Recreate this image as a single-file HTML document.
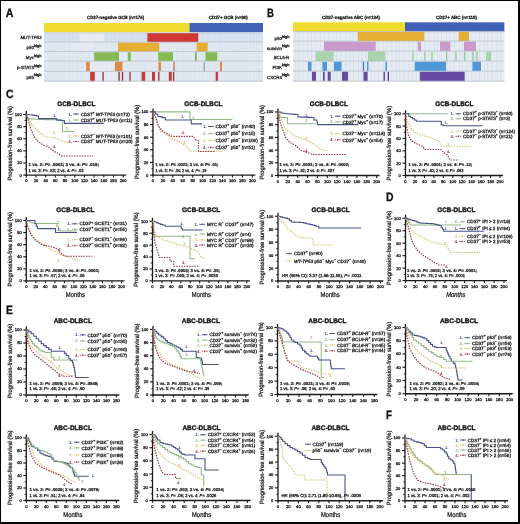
<!DOCTYPE html>
<html><head><meta charset="utf-8"><style>
html,body{margin:0;padding:0;background:#fff;}
body{width:520px;height:524px;overflow:hidden;position:relative;}
svg{position:absolute;left:0;top:0;display:block;font-family:"Liberation Sans", sans-serif;text-rendering:geometricPrecision;filter:blur(0.3px);}
.k{stroke:#1a1a1a;stroke-width:0.28px;}
.t{stroke:#111;stroke-width:0.32px;}
.k2{stroke:#222;stroke-width:0.28px;}
.k3{stroke:#222;stroke-width:0.24px;}
.frame{position:absolute;left:0;top:0;width:520px;height:524px;box-sizing:border-box;border-top:1px solid #000;border-left:1px solid #000;border-right:2px solid #000;border-bottom:2px solid #000;}
</style></head><body>
<svg width="520" height="524" viewBox="0 0 520 524" font-family='"Liberation Sans", sans-serif'>
<rect x="44.00" y="23.00" width="145.50" height="9.20" fill="#f0dc2e" />
<rect x="189.50" y="23.00" width="73.50" height="9.20" fill="#4262b8" />
<rect x="44.00" y="33.00" width="219.00" height="9.20" fill="#d4e0ee" />
<rect x="79.80" y="33.00" width="24.20" height="9.20" fill="#e3eaf2" />
<rect x="46.30" y="33.00" width="0.45" height="9.20" fill="#f2f6fa" opacity="0.55"/>
<rect x="49.60" y="33.00" width="0.45" height="9.20" fill="#f2f6fa" opacity="0.55"/>
<rect x="53.80" y="33.00" width="0.45" height="9.20" fill="#f2f6fa" opacity="0.55"/>
<rect x="58.90" y="33.00" width="0.45" height="9.20" fill="#f2f6fa" opacity="0.55"/>
<rect x="62.20" y="33.00" width="0.45" height="9.20" fill="#f2f6fa" opacity="0.55"/>
<rect x="66.40" y="33.00" width="0.45" height="9.20" fill="#f2f6fa" opacity="0.55"/>
<rect x="71.50" y="33.00" width="0.45" height="9.20" fill="#f2f6fa" opacity="0.55"/>
<rect x="74.80" y="33.00" width="0.45" height="9.20" fill="#f2f6fa" opacity="0.55"/>
<rect x="79.00" y="33.00" width="0.45" height="9.20" fill="#f2f6fa" opacity="0.55"/>
<rect x="84.10" y="33.00" width="0.45" height="9.20" fill="#f2f6fa" opacity="0.55"/>
<rect x="87.40" y="33.00" width="0.45" height="9.20" fill="#f2f6fa" opacity="0.55"/>
<rect x="91.60" y="33.00" width="0.45" height="9.20" fill="#f2f6fa" opacity="0.55"/>
<rect x="96.70" y="33.00" width="0.45" height="9.20" fill="#f2f6fa" opacity="0.55"/>
<rect x="100.00" y="33.00" width="0.45" height="9.20" fill="#f2f6fa" opacity="0.55"/>
<rect x="104.20" y="33.00" width="0.45" height="9.20" fill="#f2f6fa" opacity="0.55"/>
<rect x="109.30" y="33.00" width="0.45" height="9.20" fill="#f2f6fa" opacity="0.55"/>
<rect x="112.60" y="33.00" width="0.45" height="9.20" fill="#f2f6fa" opacity="0.55"/>
<rect x="116.80" y="33.00" width="0.45" height="9.20" fill="#f2f6fa" opacity="0.55"/>
<rect x="121.90" y="33.00" width="0.45" height="9.20" fill="#f2f6fa" opacity="0.55"/>
<rect x="125.20" y="33.00" width="0.45" height="9.20" fill="#f2f6fa" opacity="0.55"/>
<rect x="129.40" y="33.00" width="0.45" height="9.20" fill="#f2f6fa" opacity="0.55"/>
<rect x="134.50" y="33.00" width="0.45" height="9.20" fill="#f2f6fa" opacity="0.55"/>
<rect x="137.80" y="33.00" width="0.45" height="9.20" fill="#f2f6fa" opacity="0.55"/>
<rect x="142.00" y="33.00" width="0.45" height="9.20" fill="#f2f6fa" opacity="0.55"/>
<rect x="147.10" y="33.00" width="0.45" height="9.20" fill="#f2f6fa" opacity="0.55"/>
<rect x="150.40" y="33.00" width="0.45" height="9.20" fill="#f2f6fa" opacity="0.55"/>
<rect x="154.60" y="33.00" width="0.45" height="9.20" fill="#f2f6fa" opacity="0.55"/>
<rect x="159.70" y="33.00" width="0.45" height="9.20" fill="#f2f6fa" opacity="0.55"/>
<rect x="163.00" y="33.00" width="0.45" height="9.20" fill="#f2f6fa" opacity="0.55"/>
<rect x="167.20" y="33.00" width="0.45" height="9.20" fill="#f2f6fa" opacity="0.55"/>
<rect x="172.30" y="33.00" width="0.45" height="9.20" fill="#f2f6fa" opacity="0.55"/>
<rect x="175.60" y="33.00" width="0.45" height="9.20" fill="#f2f6fa" opacity="0.55"/>
<rect x="179.80" y="33.00" width="0.45" height="9.20" fill="#f2f6fa" opacity="0.55"/>
<rect x="184.90" y="33.00" width="0.45" height="9.20" fill="#f2f6fa" opacity="0.55"/>
<rect x="188.20" y="33.00" width="0.45" height="9.20" fill="#f2f6fa" opacity="0.55"/>
<rect x="192.40" y="33.00" width="0.45" height="9.20" fill="#f2f6fa" opacity="0.55"/>
<rect x="197.50" y="33.00" width="0.45" height="9.20" fill="#f2f6fa" opacity="0.55"/>
<rect x="200.80" y="33.00" width="0.45" height="9.20" fill="#f2f6fa" opacity="0.55"/>
<rect x="205.00" y="33.00" width="0.45" height="9.20" fill="#f2f6fa" opacity="0.55"/>
<rect x="210.10" y="33.00" width="0.45" height="9.20" fill="#f2f6fa" opacity="0.55"/>
<rect x="213.40" y="33.00" width="0.45" height="9.20" fill="#f2f6fa" opacity="0.55"/>
<rect x="217.60" y="33.00" width="0.45" height="9.20" fill="#f2f6fa" opacity="0.55"/>
<rect x="222.70" y="33.00" width="0.45" height="9.20" fill="#f2f6fa" opacity="0.55"/>
<rect x="226.00" y="33.00" width="0.45" height="9.20" fill="#f2f6fa" opacity="0.55"/>
<rect x="230.20" y="33.00" width="0.45" height="9.20" fill="#f2f6fa" opacity="0.55"/>
<rect x="235.30" y="33.00" width="0.45" height="9.20" fill="#f2f6fa" opacity="0.55"/>
<rect x="238.60" y="33.00" width="0.45" height="9.20" fill="#f2f6fa" opacity="0.55"/>
<rect x="242.80" y="33.00" width="0.45" height="9.20" fill="#f2f6fa" opacity="0.55"/>
<rect x="247.90" y="33.00" width="0.45" height="9.20" fill="#f2f6fa" opacity="0.55"/>
<rect x="251.20" y="33.00" width="0.45" height="9.20" fill="#f2f6fa" opacity="0.55"/>
<rect x="255.40" y="33.00" width="0.45" height="9.20" fill="#f2f6fa" opacity="0.55"/>
<rect x="260.50" y="33.00" width="0.45" height="9.20" fill="#f2f6fa" opacity="0.55"/>
<rect x="147.40" y="33.00" width="50.80" height="9.20" fill="#d03636" />
<rect x="44.00" y="42.60" width="219.00" height="9.20" fill="#dee7f0" />
<rect x="71.70" y="42.60" width="22.30" height="9.20" fill="#e3eaf2" />
<rect x="46.30" y="42.60" width="0.45" height="9.20" fill="#f2f6fa" opacity="0.55"/>
<rect x="49.60" y="42.60" width="0.45" height="9.20" fill="#f2f6fa" opacity="0.55"/>
<rect x="53.80" y="42.60" width="0.45" height="9.20" fill="#f2f6fa" opacity="0.55"/>
<rect x="58.90" y="42.60" width="0.45" height="9.20" fill="#f2f6fa" opacity="0.55"/>
<rect x="62.20" y="42.60" width="0.45" height="9.20" fill="#f2f6fa" opacity="0.55"/>
<rect x="66.40" y="42.60" width="0.45" height="9.20" fill="#f2f6fa" opacity="0.55"/>
<rect x="71.50" y="42.60" width="0.45" height="9.20" fill="#f2f6fa" opacity="0.55"/>
<rect x="74.80" y="42.60" width="0.45" height="9.20" fill="#f2f6fa" opacity="0.55"/>
<rect x="79.00" y="42.60" width="0.45" height="9.20" fill="#f2f6fa" opacity="0.55"/>
<rect x="84.10" y="42.60" width="0.45" height="9.20" fill="#f2f6fa" opacity="0.55"/>
<rect x="87.40" y="42.60" width="0.45" height="9.20" fill="#f2f6fa" opacity="0.55"/>
<rect x="91.60" y="42.60" width="0.45" height="9.20" fill="#f2f6fa" opacity="0.55"/>
<rect x="96.70" y="42.60" width="0.45" height="9.20" fill="#f2f6fa" opacity="0.55"/>
<rect x="100.00" y="42.60" width="0.45" height="9.20" fill="#f2f6fa" opacity="0.55"/>
<rect x="104.20" y="42.60" width="0.45" height="9.20" fill="#f2f6fa" opacity="0.55"/>
<rect x="109.30" y="42.60" width="0.45" height="9.20" fill="#f2f6fa" opacity="0.55"/>
<rect x="112.60" y="42.60" width="0.45" height="9.20" fill="#f2f6fa" opacity="0.55"/>
<rect x="116.80" y="42.60" width="0.45" height="9.20" fill="#f2f6fa" opacity="0.55"/>
<rect x="121.90" y="42.60" width="0.45" height="9.20" fill="#f2f6fa" opacity="0.55"/>
<rect x="125.20" y="42.60" width="0.45" height="9.20" fill="#f2f6fa" opacity="0.55"/>
<rect x="129.40" y="42.60" width="0.45" height="9.20" fill="#f2f6fa" opacity="0.55"/>
<rect x="134.50" y="42.60" width="0.45" height="9.20" fill="#f2f6fa" opacity="0.55"/>
<rect x="137.80" y="42.60" width="0.45" height="9.20" fill="#f2f6fa" opacity="0.55"/>
<rect x="142.00" y="42.60" width="0.45" height="9.20" fill="#f2f6fa" opacity="0.55"/>
<rect x="147.10" y="42.60" width="0.45" height="9.20" fill="#f2f6fa" opacity="0.55"/>
<rect x="150.40" y="42.60" width="0.45" height="9.20" fill="#f2f6fa" opacity="0.55"/>
<rect x="154.60" y="42.60" width="0.45" height="9.20" fill="#f2f6fa" opacity="0.55"/>
<rect x="159.70" y="42.60" width="0.45" height="9.20" fill="#f2f6fa" opacity="0.55"/>
<rect x="163.00" y="42.60" width="0.45" height="9.20" fill="#f2f6fa" opacity="0.55"/>
<rect x="167.20" y="42.60" width="0.45" height="9.20" fill="#f2f6fa" opacity="0.55"/>
<rect x="172.30" y="42.60" width="0.45" height="9.20" fill="#f2f6fa" opacity="0.55"/>
<rect x="175.60" y="42.60" width="0.45" height="9.20" fill="#f2f6fa" opacity="0.55"/>
<rect x="179.80" y="42.60" width="0.45" height="9.20" fill="#f2f6fa" opacity="0.55"/>
<rect x="184.90" y="42.60" width="0.45" height="9.20" fill="#f2f6fa" opacity="0.55"/>
<rect x="188.20" y="42.60" width="0.45" height="9.20" fill="#f2f6fa" opacity="0.55"/>
<rect x="192.40" y="42.60" width="0.45" height="9.20" fill="#f2f6fa" opacity="0.55"/>
<rect x="197.50" y="42.60" width="0.45" height="9.20" fill="#f2f6fa" opacity="0.55"/>
<rect x="200.80" y="42.60" width="0.45" height="9.20" fill="#f2f6fa" opacity="0.55"/>
<rect x="205.00" y="42.60" width="0.45" height="9.20" fill="#f2f6fa" opacity="0.55"/>
<rect x="210.10" y="42.60" width="0.45" height="9.20" fill="#f2f6fa" opacity="0.55"/>
<rect x="213.40" y="42.60" width="0.45" height="9.20" fill="#f2f6fa" opacity="0.55"/>
<rect x="217.60" y="42.60" width="0.45" height="9.20" fill="#f2f6fa" opacity="0.55"/>
<rect x="222.70" y="42.60" width="0.45" height="9.20" fill="#f2f6fa" opacity="0.55"/>
<rect x="226.00" y="42.60" width="0.45" height="9.20" fill="#f2f6fa" opacity="0.55"/>
<rect x="230.20" y="42.60" width="0.45" height="9.20" fill="#f2f6fa" opacity="0.55"/>
<rect x="235.30" y="42.60" width="0.45" height="9.20" fill="#f2f6fa" opacity="0.55"/>
<rect x="238.60" y="42.60" width="0.45" height="9.20" fill="#f2f6fa" opacity="0.55"/>
<rect x="242.80" y="42.60" width="0.45" height="9.20" fill="#f2f6fa" opacity="0.55"/>
<rect x="247.90" y="42.60" width="0.45" height="9.20" fill="#f2f6fa" opacity="0.55"/>
<rect x="251.20" y="42.60" width="0.45" height="9.20" fill="#f2f6fa" opacity="0.55"/>
<rect x="255.40" y="42.60" width="0.45" height="9.20" fill="#f2f6fa" opacity="0.55"/>
<rect x="260.50" y="42.60" width="0.45" height="9.20" fill="#f2f6fa" opacity="0.55"/>
<rect x="118.00" y="42.60" width="41.20" height="9.20" fill="#e6ae32" />
<rect x="196.60" y="42.60" width="11.10" height="9.20" fill="#e6ae32" />
<rect x="44.00" y="52.20" width="219.00" height="9.00" fill="#dee7f0" />
<rect x="119.00" y="52.20" width="9.00" height="9.00" fill="#e3eaf2" />
<rect x="46.30" y="52.20" width="0.45" height="9.00" fill="#f2f6fa" opacity="0.55"/>
<rect x="49.60" y="52.20" width="0.45" height="9.00" fill="#f2f6fa" opacity="0.55"/>
<rect x="53.80" y="52.20" width="0.45" height="9.00" fill="#f2f6fa" opacity="0.55"/>
<rect x="58.90" y="52.20" width="0.45" height="9.00" fill="#f2f6fa" opacity="0.55"/>
<rect x="62.20" y="52.20" width="0.45" height="9.00" fill="#f2f6fa" opacity="0.55"/>
<rect x="66.40" y="52.20" width="0.45" height="9.00" fill="#f2f6fa" opacity="0.55"/>
<rect x="71.50" y="52.20" width="0.45" height="9.00" fill="#f2f6fa" opacity="0.55"/>
<rect x="74.80" y="52.20" width="0.45" height="9.00" fill="#f2f6fa" opacity="0.55"/>
<rect x="79.00" y="52.20" width="0.45" height="9.00" fill="#f2f6fa" opacity="0.55"/>
<rect x="84.10" y="52.20" width="0.45" height="9.00" fill="#f2f6fa" opacity="0.55"/>
<rect x="87.40" y="52.20" width="0.45" height="9.00" fill="#f2f6fa" opacity="0.55"/>
<rect x="91.60" y="52.20" width="0.45" height="9.00" fill="#f2f6fa" opacity="0.55"/>
<rect x="96.70" y="52.20" width="0.45" height="9.00" fill="#f2f6fa" opacity="0.55"/>
<rect x="100.00" y="52.20" width="0.45" height="9.00" fill="#f2f6fa" opacity="0.55"/>
<rect x="104.20" y="52.20" width="0.45" height="9.00" fill="#f2f6fa" opacity="0.55"/>
<rect x="109.30" y="52.20" width="0.45" height="9.00" fill="#f2f6fa" opacity="0.55"/>
<rect x="112.60" y="52.20" width="0.45" height="9.00" fill="#f2f6fa" opacity="0.55"/>
<rect x="116.80" y="52.20" width="0.45" height="9.00" fill="#f2f6fa" opacity="0.55"/>
<rect x="121.90" y="52.20" width="0.45" height="9.00" fill="#f2f6fa" opacity="0.55"/>
<rect x="125.20" y="52.20" width="0.45" height="9.00" fill="#f2f6fa" opacity="0.55"/>
<rect x="129.40" y="52.20" width="0.45" height="9.00" fill="#f2f6fa" opacity="0.55"/>
<rect x="134.50" y="52.20" width="0.45" height="9.00" fill="#f2f6fa" opacity="0.55"/>
<rect x="137.80" y="52.20" width="0.45" height="9.00" fill="#f2f6fa" opacity="0.55"/>
<rect x="142.00" y="52.20" width="0.45" height="9.00" fill="#f2f6fa" opacity="0.55"/>
<rect x="147.10" y="52.20" width="0.45" height="9.00" fill="#f2f6fa" opacity="0.55"/>
<rect x="150.40" y="52.20" width="0.45" height="9.00" fill="#f2f6fa" opacity="0.55"/>
<rect x="154.60" y="52.20" width="0.45" height="9.00" fill="#f2f6fa" opacity="0.55"/>
<rect x="159.70" y="52.20" width="0.45" height="9.00" fill="#f2f6fa" opacity="0.55"/>
<rect x="163.00" y="52.20" width="0.45" height="9.00" fill="#f2f6fa" opacity="0.55"/>
<rect x="167.20" y="52.20" width="0.45" height="9.00" fill="#f2f6fa" opacity="0.55"/>
<rect x="172.30" y="52.20" width="0.45" height="9.00" fill="#f2f6fa" opacity="0.55"/>
<rect x="175.60" y="52.20" width="0.45" height="9.00" fill="#f2f6fa" opacity="0.55"/>
<rect x="179.80" y="52.20" width="0.45" height="9.00" fill="#f2f6fa" opacity="0.55"/>
<rect x="184.90" y="52.20" width="0.45" height="9.00" fill="#f2f6fa" opacity="0.55"/>
<rect x="188.20" y="52.20" width="0.45" height="9.00" fill="#f2f6fa" opacity="0.55"/>
<rect x="192.40" y="52.20" width="0.45" height="9.00" fill="#f2f6fa" opacity="0.55"/>
<rect x="197.50" y="52.20" width="0.45" height="9.00" fill="#f2f6fa" opacity="0.55"/>
<rect x="200.80" y="52.20" width="0.45" height="9.00" fill="#f2f6fa" opacity="0.55"/>
<rect x="205.00" y="52.20" width="0.45" height="9.00" fill="#f2f6fa" opacity="0.55"/>
<rect x="210.10" y="52.20" width="0.45" height="9.00" fill="#f2f6fa" opacity="0.55"/>
<rect x="213.40" y="52.20" width="0.45" height="9.00" fill="#f2f6fa" opacity="0.55"/>
<rect x="217.60" y="52.20" width="0.45" height="9.00" fill="#f2f6fa" opacity="0.55"/>
<rect x="222.70" y="52.20" width="0.45" height="9.00" fill="#f2f6fa" opacity="0.55"/>
<rect x="226.00" y="52.20" width="0.45" height="9.00" fill="#f2f6fa" opacity="0.55"/>
<rect x="230.20" y="52.20" width="0.45" height="9.00" fill="#f2f6fa" opacity="0.55"/>
<rect x="235.30" y="52.20" width="0.45" height="9.00" fill="#f2f6fa" opacity="0.55"/>
<rect x="238.60" y="52.20" width="0.45" height="9.00" fill="#f2f6fa" opacity="0.55"/>
<rect x="242.80" y="52.20" width="0.45" height="9.00" fill="#f2f6fa" opacity="0.55"/>
<rect x="247.90" y="52.20" width="0.45" height="9.00" fill="#f2f6fa" opacity="0.55"/>
<rect x="251.20" y="52.20" width="0.45" height="9.00" fill="#f2f6fa" opacity="0.55"/>
<rect x="255.40" y="52.20" width="0.45" height="9.00" fill="#f2f6fa" opacity="0.55"/>
<rect x="260.50" y="52.20" width="0.45" height="9.00" fill="#f2f6fa" opacity="0.55"/>
<rect x="94.20" y="52.20" width="24.80" height="9.00" fill="#86ba52" />
<rect x="127.80" y="52.20" width="3.00" height="9.00" fill="#86ba52" />
<rect x="158.20" y="52.20" width="14.80" height="9.00" fill="#86ba52" />
<rect x="195.20" y="52.20" width="1.30" height="9.00" fill="#6a9a40" />
<rect x="205.40" y="52.20" width="11.80" height="9.00" fill="#86ba52" />
<rect x="44.00" y="61.60" width="219.00" height="9.80" fill="#dee7f0" />
<rect x="90.00" y="61.60" width="22.00" height="9.80" fill="#e3eaf2" />
<rect x="46.30" y="61.60" width="0.45" height="9.80" fill="#f2f6fa" opacity="0.55"/>
<rect x="49.60" y="61.60" width="0.45" height="9.80" fill="#f2f6fa" opacity="0.55"/>
<rect x="53.80" y="61.60" width="0.45" height="9.80" fill="#f2f6fa" opacity="0.55"/>
<rect x="58.90" y="61.60" width="0.45" height="9.80" fill="#f2f6fa" opacity="0.55"/>
<rect x="62.20" y="61.60" width="0.45" height="9.80" fill="#f2f6fa" opacity="0.55"/>
<rect x="66.40" y="61.60" width="0.45" height="9.80" fill="#f2f6fa" opacity="0.55"/>
<rect x="71.50" y="61.60" width="0.45" height="9.80" fill="#f2f6fa" opacity="0.55"/>
<rect x="74.80" y="61.60" width="0.45" height="9.80" fill="#f2f6fa" opacity="0.55"/>
<rect x="79.00" y="61.60" width="0.45" height="9.80" fill="#f2f6fa" opacity="0.55"/>
<rect x="84.10" y="61.60" width="0.45" height="9.80" fill="#f2f6fa" opacity="0.55"/>
<rect x="87.40" y="61.60" width="0.45" height="9.80" fill="#f2f6fa" opacity="0.55"/>
<rect x="91.60" y="61.60" width="0.45" height="9.80" fill="#f2f6fa" opacity="0.55"/>
<rect x="96.70" y="61.60" width="0.45" height="9.80" fill="#f2f6fa" opacity="0.55"/>
<rect x="100.00" y="61.60" width="0.45" height="9.80" fill="#f2f6fa" opacity="0.55"/>
<rect x="104.20" y="61.60" width="0.45" height="9.80" fill="#f2f6fa" opacity="0.55"/>
<rect x="109.30" y="61.60" width="0.45" height="9.80" fill="#f2f6fa" opacity="0.55"/>
<rect x="112.60" y="61.60" width="0.45" height="9.80" fill="#f2f6fa" opacity="0.55"/>
<rect x="116.80" y="61.60" width="0.45" height="9.80" fill="#f2f6fa" opacity="0.55"/>
<rect x="121.90" y="61.60" width="0.45" height="9.80" fill="#f2f6fa" opacity="0.55"/>
<rect x="125.20" y="61.60" width="0.45" height="9.80" fill="#f2f6fa" opacity="0.55"/>
<rect x="129.40" y="61.60" width="0.45" height="9.80" fill="#f2f6fa" opacity="0.55"/>
<rect x="134.50" y="61.60" width="0.45" height="9.80" fill="#f2f6fa" opacity="0.55"/>
<rect x="137.80" y="61.60" width="0.45" height="9.80" fill="#f2f6fa" opacity="0.55"/>
<rect x="142.00" y="61.60" width="0.45" height="9.80" fill="#f2f6fa" opacity="0.55"/>
<rect x="147.10" y="61.60" width="0.45" height="9.80" fill="#f2f6fa" opacity="0.55"/>
<rect x="150.40" y="61.60" width="0.45" height="9.80" fill="#f2f6fa" opacity="0.55"/>
<rect x="154.60" y="61.60" width="0.45" height="9.80" fill="#f2f6fa" opacity="0.55"/>
<rect x="159.70" y="61.60" width="0.45" height="9.80" fill="#f2f6fa" opacity="0.55"/>
<rect x="163.00" y="61.60" width="0.45" height="9.80" fill="#f2f6fa" opacity="0.55"/>
<rect x="167.20" y="61.60" width="0.45" height="9.80" fill="#f2f6fa" opacity="0.55"/>
<rect x="172.30" y="61.60" width="0.45" height="9.80" fill="#f2f6fa" opacity="0.55"/>
<rect x="175.60" y="61.60" width="0.45" height="9.80" fill="#f2f6fa" opacity="0.55"/>
<rect x="179.80" y="61.60" width="0.45" height="9.80" fill="#f2f6fa" opacity="0.55"/>
<rect x="184.90" y="61.60" width="0.45" height="9.80" fill="#f2f6fa" opacity="0.55"/>
<rect x="188.20" y="61.60" width="0.45" height="9.80" fill="#f2f6fa" opacity="0.55"/>
<rect x="192.40" y="61.60" width="0.45" height="9.80" fill="#f2f6fa" opacity="0.55"/>
<rect x="197.50" y="61.60" width="0.45" height="9.80" fill="#f2f6fa" opacity="0.55"/>
<rect x="200.80" y="61.60" width="0.45" height="9.80" fill="#f2f6fa" opacity="0.55"/>
<rect x="205.00" y="61.60" width="0.45" height="9.80" fill="#f2f6fa" opacity="0.55"/>
<rect x="210.10" y="61.60" width="0.45" height="9.80" fill="#f2f6fa" opacity="0.55"/>
<rect x="213.40" y="61.60" width="0.45" height="9.80" fill="#f2f6fa" opacity="0.55"/>
<rect x="217.60" y="61.60" width="0.45" height="9.80" fill="#f2f6fa" opacity="0.55"/>
<rect x="222.70" y="61.60" width="0.45" height="9.80" fill="#f2f6fa" opacity="0.55"/>
<rect x="226.00" y="61.60" width="0.45" height="9.80" fill="#f2f6fa" opacity="0.55"/>
<rect x="230.20" y="61.60" width="0.45" height="9.80" fill="#f2f6fa" opacity="0.55"/>
<rect x="235.30" y="61.60" width="0.45" height="9.80" fill="#f2f6fa" opacity="0.55"/>
<rect x="238.60" y="61.60" width="0.45" height="9.80" fill="#f2f6fa" opacity="0.55"/>
<rect x="242.80" y="61.60" width="0.45" height="9.80" fill="#f2f6fa" opacity="0.55"/>
<rect x="247.90" y="61.60" width="0.45" height="9.80" fill="#f2f6fa" opacity="0.55"/>
<rect x="251.20" y="61.60" width="0.45" height="9.80" fill="#f2f6fa" opacity="0.55"/>
<rect x="255.40" y="61.60" width="0.45" height="9.80" fill="#f2f6fa" opacity="0.55"/>
<rect x="260.50" y="61.60" width="0.45" height="9.80" fill="#f2f6fa" opacity="0.55"/>
<rect x="86.10" y="61.60" width="3.70" height="9.80" fill="#df8a46" />
<rect x="115.00" y="61.60" width="7.50" height="9.80" fill="#df8a46" />
<rect x="158.50" y="61.60" width="2.50" height="9.80" fill="#df8a46" />
<rect x="173.40" y="61.60" width="1.30" height="9.80" fill="#c06a30" />
<rect x="203.55" y="61.60" width="1.30" height="9.80" fill="#9aa0a8" />
<rect x="220.00" y="61.60" width="2.00" height="9.80" fill="#df8a46" />
<rect x="44.00" y="71.80" width="219.00" height="9.40" fill="#dee7f0" />
<rect x="95.00" y="71.80" width="23.00" height="9.40" fill="#e3eaf2" />
<rect x="46.30" y="71.80" width="0.45" height="9.40" fill="#f2f6fa" opacity="0.55"/>
<rect x="49.60" y="71.80" width="0.45" height="9.40" fill="#f2f6fa" opacity="0.55"/>
<rect x="53.80" y="71.80" width="0.45" height="9.40" fill="#f2f6fa" opacity="0.55"/>
<rect x="58.90" y="71.80" width="0.45" height="9.40" fill="#f2f6fa" opacity="0.55"/>
<rect x="62.20" y="71.80" width="0.45" height="9.40" fill="#f2f6fa" opacity="0.55"/>
<rect x="66.40" y="71.80" width="0.45" height="9.40" fill="#f2f6fa" opacity="0.55"/>
<rect x="71.50" y="71.80" width="0.45" height="9.40" fill="#f2f6fa" opacity="0.55"/>
<rect x="74.80" y="71.80" width="0.45" height="9.40" fill="#f2f6fa" opacity="0.55"/>
<rect x="79.00" y="71.80" width="0.45" height="9.40" fill="#f2f6fa" opacity="0.55"/>
<rect x="84.10" y="71.80" width="0.45" height="9.40" fill="#f2f6fa" opacity="0.55"/>
<rect x="87.40" y="71.80" width="0.45" height="9.40" fill="#f2f6fa" opacity="0.55"/>
<rect x="91.60" y="71.80" width="0.45" height="9.40" fill="#f2f6fa" opacity="0.55"/>
<rect x="96.70" y="71.80" width="0.45" height="9.40" fill="#f2f6fa" opacity="0.55"/>
<rect x="100.00" y="71.80" width="0.45" height="9.40" fill="#f2f6fa" opacity="0.55"/>
<rect x="104.20" y="71.80" width="0.45" height="9.40" fill="#f2f6fa" opacity="0.55"/>
<rect x="109.30" y="71.80" width="0.45" height="9.40" fill="#f2f6fa" opacity="0.55"/>
<rect x="112.60" y="71.80" width="0.45" height="9.40" fill="#f2f6fa" opacity="0.55"/>
<rect x="116.80" y="71.80" width="0.45" height="9.40" fill="#f2f6fa" opacity="0.55"/>
<rect x="121.90" y="71.80" width="0.45" height="9.40" fill="#f2f6fa" opacity="0.55"/>
<rect x="125.20" y="71.80" width="0.45" height="9.40" fill="#f2f6fa" opacity="0.55"/>
<rect x="129.40" y="71.80" width="0.45" height="9.40" fill="#f2f6fa" opacity="0.55"/>
<rect x="134.50" y="71.80" width="0.45" height="9.40" fill="#f2f6fa" opacity="0.55"/>
<rect x="137.80" y="71.80" width="0.45" height="9.40" fill="#f2f6fa" opacity="0.55"/>
<rect x="142.00" y="71.80" width="0.45" height="9.40" fill="#f2f6fa" opacity="0.55"/>
<rect x="147.10" y="71.80" width="0.45" height="9.40" fill="#f2f6fa" opacity="0.55"/>
<rect x="150.40" y="71.80" width="0.45" height="9.40" fill="#f2f6fa" opacity="0.55"/>
<rect x="154.60" y="71.80" width="0.45" height="9.40" fill="#f2f6fa" opacity="0.55"/>
<rect x="159.70" y="71.80" width="0.45" height="9.40" fill="#f2f6fa" opacity="0.55"/>
<rect x="163.00" y="71.80" width="0.45" height="9.40" fill="#f2f6fa" opacity="0.55"/>
<rect x="167.20" y="71.80" width="0.45" height="9.40" fill="#f2f6fa" opacity="0.55"/>
<rect x="172.30" y="71.80" width="0.45" height="9.40" fill="#f2f6fa" opacity="0.55"/>
<rect x="175.60" y="71.80" width="0.45" height="9.40" fill="#f2f6fa" opacity="0.55"/>
<rect x="179.80" y="71.80" width="0.45" height="9.40" fill="#f2f6fa" opacity="0.55"/>
<rect x="184.90" y="71.80" width="0.45" height="9.40" fill="#f2f6fa" opacity="0.55"/>
<rect x="188.20" y="71.80" width="0.45" height="9.40" fill="#f2f6fa" opacity="0.55"/>
<rect x="192.40" y="71.80" width="0.45" height="9.40" fill="#f2f6fa" opacity="0.55"/>
<rect x="197.50" y="71.80" width="0.45" height="9.40" fill="#f2f6fa" opacity="0.55"/>
<rect x="200.80" y="71.80" width="0.45" height="9.40" fill="#f2f6fa" opacity="0.55"/>
<rect x="205.00" y="71.80" width="0.45" height="9.40" fill="#f2f6fa" opacity="0.55"/>
<rect x="210.10" y="71.80" width="0.45" height="9.40" fill="#f2f6fa" opacity="0.55"/>
<rect x="213.40" y="71.80" width="0.45" height="9.40" fill="#f2f6fa" opacity="0.55"/>
<rect x="217.60" y="71.80" width="0.45" height="9.40" fill="#f2f6fa" opacity="0.55"/>
<rect x="222.70" y="71.80" width="0.45" height="9.40" fill="#f2f6fa" opacity="0.55"/>
<rect x="226.00" y="71.80" width="0.45" height="9.40" fill="#f2f6fa" opacity="0.55"/>
<rect x="230.20" y="71.80" width="0.45" height="9.40" fill="#f2f6fa" opacity="0.55"/>
<rect x="235.30" y="71.80" width="0.45" height="9.40" fill="#f2f6fa" opacity="0.55"/>
<rect x="238.60" y="71.80" width="0.45" height="9.40" fill="#f2f6fa" opacity="0.55"/>
<rect x="242.80" y="71.80" width="0.45" height="9.40" fill="#f2f6fa" opacity="0.55"/>
<rect x="247.90" y="71.80" width="0.45" height="9.40" fill="#f2f6fa" opacity="0.55"/>
<rect x="251.20" y="71.80" width="0.45" height="9.40" fill="#f2f6fa" opacity="0.55"/>
<rect x="255.40" y="71.80" width="0.45" height="9.40" fill="#f2f6fa" opacity="0.55"/>
<rect x="260.50" y="71.80" width="0.45" height="9.40" fill="#f2f6fa" opacity="0.55"/>
<rect x="90.20" y="71.80" width="4.60" height="9.40" fill="#c63c3c" />
<rect x="102.45" y="71.80" width="1.30" height="9.40" fill="#a02c30" />
<rect x="118.45" y="71.80" width="1.30" height="9.40" fill="#a02c30" />
<rect x="121.85" y="71.80" width="1.30" height="9.40" fill="#a02c30" />
<rect x="129.35" y="71.80" width="1.30" height="9.40" fill="#a02c30" />
<rect x="141.60" y="71.80" width="3.60" height="9.40" fill="#c63c3c" />
<rect x="152.00" y="71.80" width="3.00" height="9.40" fill="#c63c3c" />
<rect x="158.15" y="71.80" width="1.30" height="9.40" fill="#a02c30" />
<rect x="168.80" y="71.80" width="3.00" height="9.40" fill="#c63c3c" />
<rect x="172.95" y="71.80" width="1.30" height="9.40" fill="#a02c30" />
<rect x="215.70" y="71.80" width="2.30" height="9.40" fill="#c63c3c" />
<rect x="44.00" y="32.50" width="219.00" height="0.80" fill="#b4bcc5" />
<rect x="44.00" y="41.70" width="219.00" height="0.80" fill="#b4bcc5" />
<rect x="44.00" y="51.30" width="219.00" height="0.80" fill="#b4bcc5" />
<rect x="44.00" y="60.70" width="219.00" height="0.80" fill="#b4bcc5" />
<rect x="44.00" y="70.90" width="219.00" height="0.80" fill="#b4bcc5" />
<rect x="44.00" y="80.70" width="219.00" height="0.80" fill="#b4bcc5" />
<rect x="293.00" y="22.30" width="112.00" height="9.20" fill="#f0dc2e" />
<rect x="405.00" y="22.30" width="99.40" height="9.20" fill="#4262b8" />
<rect x="293.00" y="31.80" width="211.40" height="9.40" fill="#e4ebf3" />
<rect x="295.30" y="31.80" width="0.45" height="9.40" fill="#c9d3df" opacity="0.8"/>
<rect x="298.60" y="31.80" width="0.45" height="9.40" fill="#c9d3df" opacity="0.8"/>
<rect x="302.80" y="31.80" width="0.45" height="9.40" fill="#c9d3df" opacity="0.8"/>
<rect x="307.90" y="31.80" width="0.45" height="9.40" fill="#c9d3df" opacity="0.8"/>
<rect x="311.20" y="31.80" width="0.45" height="9.40" fill="#c9d3df" opacity="0.8"/>
<rect x="315.40" y="31.80" width="0.45" height="9.40" fill="#c9d3df" opacity="0.8"/>
<rect x="320.50" y="31.80" width="0.45" height="9.40" fill="#c9d3df" opacity="0.8"/>
<rect x="323.80" y="31.80" width="0.45" height="9.40" fill="#c9d3df" opacity="0.8"/>
<rect x="328.00" y="31.80" width="0.45" height="9.40" fill="#c9d3df" opacity="0.8"/>
<rect x="333.10" y="31.80" width="0.45" height="9.40" fill="#c9d3df" opacity="0.8"/>
<rect x="336.40" y="31.80" width="0.45" height="9.40" fill="#c9d3df" opacity="0.8"/>
<rect x="340.60" y="31.80" width="0.45" height="9.40" fill="#c9d3df" opacity="0.8"/>
<rect x="345.70" y="31.80" width="0.45" height="9.40" fill="#c9d3df" opacity="0.8"/>
<rect x="349.00" y="31.80" width="0.45" height="9.40" fill="#c9d3df" opacity="0.8"/>
<rect x="353.20" y="31.80" width="0.45" height="9.40" fill="#c9d3df" opacity="0.8"/>
<rect x="358.30" y="31.80" width="0.45" height="9.40" fill="#c9d3df" opacity="0.8"/>
<rect x="361.60" y="31.80" width="0.45" height="9.40" fill="#c9d3df" opacity="0.8"/>
<rect x="365.80" y="31.80" width="0.45" height="9.40" fill="#c9d3df" opacity="0.8"/>
<rect x="370.90" y="31.80" width="0.45" height="9.40" fill="#c9d3df" opacity="0.8"/>
<rect x="374.20" y="31.80" width="0.45" height="9.40" fill="#c9d3df" opacity="0.8"/>
<rect x="378.40" y="31.80" width="0.45" height="9.40" fill="#c9d3df" opacity="0.8"/>
<rect x="383.50" y="31.80" width="0.45" height="9.40" fill="#c9d3df" opacity="0.8"/>
<rect x="386.80" y="31.80" width="0.45" height="9.40" fill="#c9d3df" opacity="0.8"/>
<rect x="391.00" y="31.80" width="0.45" height="9.40" fill="#c9d3df" opacity="0.8"/>
<rect x="396.10" y="31.80" width="0.45" height="9.40" fill="#c9d3df" opacity="0.8"/>
<rect x="399.40" y="31.80" width="0.45" height="9.40" fill="#c9d3df" opacity="0.8"/>
<rect x="403.60" y="31.80" width="0.45" height="9.40" fill="#c9d3df" opacity="0.8"/>
<rect x="408.70" y="31.80" width="0.45" height="9.40" fill="#c9d3df" opacity="0.8"/>
<rect x="412.00" y="31.80" width="0.45" height="9.40" fill="#c9d3df" opacity="0.8"/>
<rect x="416.20" y="31.80" width="0.45" height="9.40" fill="#c9d3df" opacity="0.8"/>
<rect x="421.30" y="31.80" width="0.45" height="9.40" fill="#c9d3df" opacity="0.8"/>
<rect x="424.60" y="31.80" width="0.45" height="9.40" fill="#c9d3df" opacity="0.8"/>
<rect x="428.80" y="31.80" width="0.45" height="9.40" fill="#c9d3df" opacity="0.8"/>
<rect x="433.90" y="31.80" width="0.45" height="9.40" fill="#c9d3df" opacity="0.8"/>
<rect x="437.20" y="31.80" width="0.45" height="9.40" fill="#c9d3df" opacity="0.8"/>
<rect x="441.40" y="31.80" width="0.45" height="9.40" fill="#c9d3df" opacity="0.8"/>
<rect x="446.50" y="31.80" width="0.45" height="9.40" fill="#c9d3df" opacity="0.8"/>
<rect x="449.80" y="31.80" width="0.45" height="9.40" fill="#c9d3df" opacity="0.8"/>
<rect x="454.00" y="31.80" width="0.45" height="9.40" fill="#c9d3df" opacity="0.8"/>
<rect x="459.10" y="31.80" width="0.45" height="9.40" fill="#c9d3df" opacity="0.8"/>
<rect x="462.40" y="31.80" width="0.45" height="9.40" fill="#c9d3df" opacity="0.8"/>
<rect x="466.60" y="31.80" width="0.45" height="9.40" fill="#c9d3df" opacity="0.8"/>
<rect x="471.70" y="31.80" width="0.45" height="9.40" fill="#c9d3df" opacity="0.8"/>
<rect x="475.00" y="31.80" width="0.45" height="9.40" fill="#c9d3df" opacity="0.8"/>
<rect x="479.20" y="31.80" width="0.45" height="9.40" fill="#c9d3df" opacity="0.8"/>
<rect x="484.30" y="31.80" width="0.45" height="9.40" fill="#c9d3df" opacity="0.8"/>
<rect x="487.60" y="31.80" width="0.45" height="9.40" fill="#c9d3df" opacity="0.8"/>
<rect x="491.80" y="31.80" width="0.45" height="9.40" fill="#c9d3df" opacity="0.8"/>
<rect x="496.90" y="31.80" width="0.45" height="9.40" fill="#c9d3df" opacity="0.8"/>
<rect x="500.20" y="31.80" width="0.45" height="9.40" fill="#c9d3df" opacity="0.8"/>
<rect x="357.70" y="31.80" width="66.60" height="9.40" fill="#e6ae32" />
<rect x="458.70" y="31.80" width="10.30" height="9.40" fill="#e6ae32" />
<rect x="293.00" y="41.60" width="211.40" height="9.60" fill="#e4ebf3" />
<rect x="295.30" y="41.60" width="0.45" height="9.60" fill="#c9d3df" opacity="0.8"/>
<rect x="298.60" y="41.60" width="0.45" height="9.60" fill="#c9d3df" opacity="0.8"/>
<rect x="302.80" y="41.60" width="0.45" height="9.60" fill="#c9d3df" opacity="0.8"/>
<rect x="307.90" y="41.60" width="0.45" height="9.60" fill="#c9d3df" opacity="0.8"/>
<rect x="311.20" y="41.60" width="0.45" height="9.60" fill="#c9d3df" opacity="0.8"/>
<rect x="315.40" y="41.60" width="0.45" height="9.60" fill="#c9d3df" opacity="0.8"/>
<rect x="320.50" y="41.60" width="0.45" height="9.60" fill="#c9d3df" opacity="0.8"/>
<rect x="323.80" y="41.60" width="0.45" height="9.60" fill="#c9d3df" opacity="0.8"/>
<rect x="328.00" y="41.60" width="0.45" height="9.60" fill="#c9d3df" opacity="0.8"/>
<rect x="333.10" y="41.60" width="0.45" height="9.60" fill="#c9d3df" opacity="0.8"/>
<rect x="336.40" y="41.60" width="0.45" height="9.60" fill="#c9d3df" opacity="0.8"/>
<rect x="340.60" y="41.60" width="0.45" height="9.60" fill="#c9d3df" opacity="0.8"/>
<rect x="345.70" y="41.60" width="0.45" height="9.60" fill="#c9d3df" opacity="0.8"/>
<rect x="349.00" y="41.60" width="0.45" height="9.60" fill="#c9d3df" opacity="0.8"/>
<rect x="353.20" y="41.60" width="0.45" height="9.60" fill="#c9d3df" opacity="0.8"/>
<rect x="358.30" y="41.60" width="0.45" height="9.60" fill="#c9d3df" opacity="0.8"/>
<rect x="361.60" y="41.60" width="0.45" height="9.60" fill="#c9d3df" opacity="0.8"/>
<rect x="365.80" y="41.60" width="0.45" height="9.60" fill="#c9d3df" opacity="0.8"/>
<rect x="370.90" y="41.60" width="0.45" height="9.60" fill="#c9d3df" opacity="0.8"/>
<rect x="374.20" y="41.60" width="0.45" height="9.60" fill="#c9d3df" opacity="0.8"/>
<rect x="378.40" y="41.60" width="0.45" height="9.60" fill="#c9d3df" opacity="0.8"/>
<rect x="383.50" y="41.60" width="0.45" height="9.60" fill="#c9d3df" opacity="0.8"/>
<rect x="386.80" y="41.60" width="0.45" height="9.60" fill="#c9d3df" opacity="0.8"/>
<rect x="391.00" y="41.60" width="0.45" height="9.60" fill="#c9d3df" opacity="0.8"/>
<rect x="396.10" y="41.60" width="0.45" height="9.60" fill="#c9d3df" opacity="0.8"/>
<rect x="399.40" y="41.60" width="0.45" height="9.60" fill="#c9d3df" opacity="0.8"/>
<rect x="403.60" y="41.60" width="0.45" height="9.60" fill="#c9d3df" opacity="0.8"/>
<rect x="408.70" y="41.60" width="0.45" height="9.60" fill="#c9d3df" opacity="0.8"/>
<rect x="412.00" y="41.60" width="0.45" height="9.60" fill="#c9d3df" opacity="0.8"/>
<rect x="416.20" y="41.60" width="0.45" height="9.60" fill="#c9d3df" opacity="0.8"/>
<rect x="421.30" y="41.60" width="0.45" height="9.60" fill="#c9d3df" opacity="0.8"/>
<rect x="424.60" y="41.60" width="0.45" height="9.60" fill="#c9d3df" opacity="0.8"/>
<rect x="428.80" y="41.60" width="0.45" height="9.60" fill="#c9d3df" opacity="0.8"/>
<rect x="433.90" y="41.60" width="0.45" height="9.60" fill="#c9d3df" opacity="0.8"/>
<rect x="437.20" y="41.60" width="0.45" height="9.60" fill="#c9d3df" opacity="0.8"/>
<rect x="441.40" y="41.60" width="0.45" height="9.60" fill="#c9d3df" opacity="0.8"/>
<rect x="446.50" y="41.60" width="0.45" height="9.60" fill="#c9d3df" opacity="0.8"/>
<rect x="449.80" y="41.60" width="0.45" height="9.60" fill="#c9d3df" opacity="0.8"/>
<rect x="454.00" y="41.60" width="0.45" height="9.60" fill="#c9d3df" opacity="0.8"/>
<rect x="459.10" y="41.60" width="0.45" height="9.60" fill="#c9d3df" opacity="0.8"/>
<rect x="462.40" y="41.60" width="0.45" height="9.60" fill="#c9d3df" opacity="0.8"/>
<rect x="466.60" y="41.60" width="0.45" height="9.60" fill="#c9d3df" opacity="0.8"/>
<rect x="471.70" y="41.60" width="0.45" height="9.60" fill="#c9d3df" opacity="0.8"/>
<rect x="475.00" y="41.60" width="0.45" height="9.60" fill="#c9d3df" opacity="0.8"/>
<rect x="479.20" y="41.60" width="0.45" height="9.60" fill="#c9d3df" opacity="0.8"/>
<rect x="484.30" y="41.60" width="0.45" height="9.60" fill="#c9d3df" opacity="0.8"/>
<rect x="487.60" y="41.60" width="0.45" height="9.60" fill="#c9d3df" opacity="0.8"/>
<rect x="491.80" y="41.60" width="0.45" height="9.60" fill="#c9d3df" opacity="0.8"/>
<rect x="496.90" y="41.60" width="0.45" height="9.60" fill="#c9d3df" opacity="0.8"/>
<rect x="500.20" y="41.60" width="0.45" height="9.60" fill="#c9d3df" opacity="0.8"/>
<rect x="324.00" y="41.60" width="51.70" height="9.60" fill="#c99bcb" />
<rect x="417.80" y="41.60" width="3.20" height="9.60" fill="#c99bcb" />
<rect x="440.00" y="41.60" width="10.30" height="9.60" fill="#c99bcb" />
<rect x="464.00" y="41.60" width="12.00" height="9.60" fill="#c99bcb" />
<rect x="293.00" y="51.60" width="211.40" height="9.60" fill="#e4ebf3" />
<rect x="295.30" y="51.60" width="0.45" height="9.60" fill="#c9d3df" opacity="0.8"/>
<rect x="298.60" y="51.60" width="0.45" height="9.60" fill="#c9d3df" opacity="0.8"/>
<rect x="302.80" y="51.60" width="0.45" height="9.60" fill="#c9d3df" opacity="0.8"/>
<rect x="307.90" y="51.60" width="0.45" height="9.60" fill="#c9d3df" opacity="0.8"/>
<rect x="311.20" y="51.60" width="0.45" height="9.60" fill="#c9d3df" opacity="0.8"/>
<rect x="315.40" y="51.60" width="0.45" height="9.60" fill="#c9d3df" opacity="0.8"/>
<rect x="320.50" y="51.60" width="0.45" height="9.60" fill="#c9d3df" opacity="0.8"/>
<rect x="323.80" y="51.60" width="0.45" height="9.60" fill="#c9d3df" opacity="0.8"/>
<rect x="328.00" y="51.60" width="0.45" height="9.60" fill="#c9d3df" opacity="0.8"/>
<rect x="333.10" y="51.60" width="0.45" height="9.60" fill="#c9d3df" opacity="0.8"/>
<rect x="336.40" y="51.60" width="0.45" height="9.60" fill="#c9d3df" opacity="0.8"/>
<rect x="340.60" y="51.60" width="0.45" height="9.60" fill="#c9d3df" opacity="0.8"/>
<rect x="345.70" y="51.60" width="0.45" height="9.60" fill="#c9d3df" opacity="0.8"/>
<rect x="349.00" y="51.60" width="0.45" height="9.60" fill="#c9d3df" opacity="0.8"/>
<rect x="353.20" y="51.60" width="0.45" height="9.60" fill="#c9d3df" opacity="0.8"/>
<rect x="358.30" y="51.60" width="0.45" height="9.60" fill="#c9d3df" opacity="0.8"/>
<rect x="361.60" y="51.60" width="0.45" height="9.60" fill="#c9d3df" opacity="0.8"/>
<rect x="365.80" y="51.60" width="0.45" height="9.60" fill="#c9d3df" opacity="0.8"/>
<rect x="370.90" y="51.60" width="0.45" height="9.60" fill="#c9d3df" opacity="0.8"/>
<rect x="374.20" y="51.60" width="0.45" height="9.60" fill="#c9d3df" opacity="0.8"/>
<rect x="378.40" y="51.60" width="0.45" height="9.60" fill="#c9d3df" opacity="0.8"/>
<rect x="383.50" y="51.60" width="0.45" height="9.60" fill="#c9d3df" opacity="0.8"/>
<rect x="386.80" y="51.60" width="0.45" height="9.60" fill="#c9d3df" opacity="0.8"/>
<rect x="391.00" y="51.60" width="0.45" height="9.60" fill="#c9d3df" opacity="0.8"/>
<rect x="396.10" y="51.60" width="0.45" height="9.60" fill="#c9d3df" opacity="0.8"/>
<rect x="399.40" y="51.60" width="0.45" height="9.60" fill="#c9d3df" opacity="0.8"/>
<rect x="403.60" y="51.60" width="0.45" height="9.60" fill="#c9d3df" opacity="0.8"/>
<rect x="408.70" y="51.60" width="0.45" height="9.60" fill="#c9d3df" opacity="0.8"/>
<rect x="412.00" y="51.60" width="0.45" height="9.60" fill="#c9d3df" opacity="0.8"/>
<rect x="416.20" y="51.60" width="0.45" height="9.60" fill="#c9d3df" opacity="0.8"/>
<rect x="421.30" y="51.60" width="0.45" height="9.60" fill="#c9d3df" opacity="0.8"/>
<rect x="424.60" y="51.60" width="0.45" height="9.60" fill="#c9d3df" opacity="0.8"/>
<rect x="428.80" y="51.60" width="0.45" height="9.60" fill="#c9d3df" opacity="0.8"/>
<rect x="433.90" y="51.60" width="0.45" height="9.60" fill="#c9d3df" opacity="0.8"/>
<rect x="437.20" y="51.60" width="0.45" height="9.60" fill="#c9d3df" opacity="0.8"/>
<rect x="441.40" y="51.60" width="0.45" height="9.60" fill="#c9d3df" opacity="0.8"/>
<rect x="446.50" y="51.60" width="0.45" height="9.60" fill="#c9d3df" opacity="0.8"/>
<rect x="449.80" y="51.60" width="0.45" height="9.60" fill="#c9d3df" opacity="0.8"/>
<rect x="454.00" y="51.60" width="0.45" height="9.60" fill="#c9d3df" opacity="0.8"/>
<rect x="459.10" y="51.60" width="0.45" height="9.60" fill="#c9d3df" opacity="0.8"/>
<rect x="462.40" y="51.60" width="0.45" height="9.60" fill="#c9d3df" opacity="0.8"/>
<rect x="466.60" y="51.60" width="0.45" height="9.60" fill="#c9d3df" opacity="0.8"/>
<rect x="471.70" y="51.60" width="0.45" height="9.60" fill="#c9d3df" opacity="0.8"/>
<rect x="475.00" y="51.60" width="0.45" height="9.60" fill="#c9d3df" opacity="0.8"/>
<rect x="479.20" y="51.60" width="0.45" height="9.60" fill="#c9d3df" opacity="0.8"/>
<rect x="484.30" y="51.60" width="0.45" height="9.60" fill="#c9d3df" opacity="0.8"/>
<rect x="487.60" y="51.60" width="0.45" height="9.60" fill="#c9d3df" opacity="0.8"/>
<rect x="491.80" y="51.60" width="0.45" height="9.60" fill="#c9d3df" opacity="0.8"/>
<rect x="496.90" y="51.60" width="0.45" height="9.60" fill="#c9d3df" opacity="0.8"/>
<rect x="500.20" y="51.60" width="0.45" height="9.60" fill="#c9d3df" opacity="0.8"/>
<rect x="315.70" y="51.60" width="17.80" height="9.60" fill="#a9d3ad" />
<rect x="368.00" y="51.60" width="17.40" height="9.60" fill="#a9d3ad" />
<rect x="412.35" y="51.60" width="1.30" height="9.60" fill="#94c89c" />
<rect x="424.35" y="51.60" width="1.30" height="9.60" fill="#94c89c" />
<rect x="431.35" y="51.60" width="1.30" height="9.60" fill="#94c89c" />
<rect x="446.05" y="51.60" width="1.30" height="9.60" fill="#94c89c" />
<rect x="455.35" y="51.60" width="1.30" height="9.60" fill="#94c89c" />
<rect x="464.05" y="51.60" width="1.30" height="9.60" fill="#94c89c" />
<rect x="472.35" y="51.60" width="1.30" height="9.60" fill="#94c89c" />
<rect x="476.35" y="51.60" width="1.30" height="9.60" fill="#94c89c" />
<rect x="486.00" y="51.60" width="5.00" height="9.60" fill="#a9d3ad" />
<rect x="293.00" y="61.60" width="211.40" height="9.60" fill="#e4ebf3" />
<rect x="295.30" y="61.60" width="0.45" height="9.60" fill="#c9d3df" opacity="0.8"/>
<rect x="298.60" y="61.60" width="0.45" height="9.60" fill="#c9d3df" opacity="0.8"/>
<rect x="302.80" y="61.60" width="0.45" height="9.60" fill="#c9d3df" opacity="0.8"/>
<rect x="307.90" y="61.60" width="0.45" height="9.60" fill="#c9d3df" opacity="0.8"/>
<rect x="311.20" y="61.60" width="0.45" height="9.60" fill="#c9d3df" opacity="0.8"/>
<rect x="315.40" y="61.60" width="0.45" height="9.60" fill="#c9d3df" opacity="0.8"/>
<rect x="320.50" y="61.60" width="0.45" height="9.60" fill="#c9d3df" opacity="0.8"/>
<rect x="323.80" y="61.60" width="0.45" height="9.60" fill="#c9d3df" opacity="0.8"/>
<rect x="328.00" y="61.60" width="0.45" height="9.60" fill="#c9d3df" opacity="0.8"/>
<rect x="333.10" y="61.60" width="0.45" height="9.60" fill="#c9d3df" opacity="0.8"/>
<rect x="336.40" y="61.60" width="0.45" height="9.60" fill="#c9d3df" opacity="0.8"/>
<rect x="340.60" y="61.60" width="0.45" height="9.60" fill="#c9d3df" opacity="0.8"/>
<rect x="345.70" y="61.60" width="0.45" height="9.60" fill="#c9d3df" opacity="0.8"/>
<rect x="349.00" y="61.60" width="0.45" height="9.60" fill="#c9d3df" opacity="0.8"/>
<rect x="353.20" y="61.60" width="0.45" height="9.60" fill="#c9d3df" opacity="0.8"/>
<rect x="358.30" y="61.60" width="0.45" height="9.60" fill="#c9d3df" opacity="0.8"/>
<rect x="361.60" y="61.60" width="0.45" height="9.60" fill="#c9d3df" opacity="0.8"/>
<rect x="365.80" y="61.60" width="0.45" height="9.60" fill="#c9d3df" opacity="0.8"/>
<rect x="370.90" y="61.60" width="0.45" height="9.60" fill="#c9d3df" opacity="0.8"/>
<rect x="374.20" y="61.60" width="0.45" height="9.60" fill="#c9d3df" opacity="0.8"/>
<rect x="378.40" y="61.60" width="0.45" height="9.60" fill="#c9d3df" opacity="0.8"/>
<rect x="383.50" y="61.60" width="0.45" height="9.60" fill="#c9d3df" opacity="0.8"/>
<rect x="386.80" y="61.60" width="0.45" height="9.60" fill="#c9d3df" opacity="0.8"/>
<rect x="391.00" y="61.60" width="0.45" height="9.60" fill="#c9d3df" opacity="0.8"/>
<rect x="396.10" y="61.60" width="0.45" height="9.60" fill="#c9d3df" opacity="0.8"/>
<rect x="399.40" y="61.60" width="0.45" height="9.60" fill="#c9d3df" opacity="0.8"/>
<rect x="403.60" y="61.60" width="0.45" height="9.60" fill="#c9d3df" opacity="0.8"/>
<rect x="408.70" y="61.60" width="0.45" height="9.60" fill="#c9d3df" opacity="0.8"/>
<rect x="412.00" y="61.60" width="0.45" height="9.60" fill="#c9d3df" opacity="0.8"/>
<rect x="416.20" y="61.60" width="0.45" height="9.60" fill="#c9d3df" opacity="0.8"/>
<rect x="421.30" y="61.60" width="0.45" height="9.60" fill="#c9d3df" opacity="0.8"/>
<rect x="424.60" y="61.60" width="0.45" height="9.60" fill="#c9d3df" opacity="0.8"/>
<rect x="428.80" y="61.60" width="0.45" height="9.60" fill="#c9d3df" opacity="0.8"/>
<rect x="433.90" y="61.60" width="0.45" height="9.60" fill="#c9d3df" opacity="0.8"/>
<rect x="437.20" y="61.60" width="0.45" height="9.60" fill="#c9d3df" opacity="0.8"/>
<rect x="441.40" y="61.60" width="0.45" height="9.60" fill="#c9d3df" opacity="0.8"/>
<rect x="446.50" y="61.60" width="0.45" height="9.60" fill="#c9d3df" opacity="0.8"/>
<rect x="449.80" y="61.60" width="0.45" height="9.60" fill="#c9d3df" opacity="0.8"/>
<rect x="454.00" y="61.60" width="0.45" height="9.60" fill="#c9d3df" opacity="0.8"/>
<rect x="459.10" y="61.60" width="0.45" height="9.60" fill="#c9d3df" opacity="0.8"/>
<rect x="462.40" y="61.60" width="0.45" height="9.60" fill="#c9d3df" opacity="0.8"/>
<rect x="466.60" y="61.60" width="0.45" height="9.60" fill="#c9d3df" opacity="0.8"/>
<rect x="471.70" y="61.60" width="0.45" height="9.60" fill="#c9d3df" opacity="0.8"/>
<rect x="475.00" y="61.60" width="0.45" height="9.60" fill="#c9d3df" opacity="0.8"/>
<rect x="479.20" y="61.60" width="0.45" height="9.60" fill="#c9d3df" opacity="0.8"/>
<rect x="484.30" y="61.60" width="0.45" height="9.60" fill="#c9d3df" opacity="0.8"/>
<rect x="487.60" y="61.60" width="0.45" height="9.60" fill="#c9d3df" opacity="0.8"/>
<rect x="491.80" y="61.60" width="0.45" height="9.60" fill="#c9d3df" opacity="0.8"/>
<rect x="496.90" y="61.60" width="0.45" height="9.60" fill="#c9d3df" opacity="0.8"/>
<rect x="500.20" y="61.60" width="0.45" height="9.60" fill="#c9d3df" opacity="0.8"/>
<rect x="308.00" y="61.60" width="3.50" height="9.60" fill="#4f97d6" />
<rect x="322.40" y="61.60" width="4.60" height="9.60" fill="#4f97d6" />
<rect x="334.00" y="61.60" width="7.50" height="9.60" fill="#4f97d6" />
<rect x="362.85" y="61.60" width="1.30" height="9.60" fill="#3a7cc0" />
<rect x="367.00" y="61.60" width="1.50" height="9.60" fill="#4f97d6" />
<rect x="385.40" y="61.60" width="1.60" height="9.60" fill="#4f97d6" />
<rect x="414.70" y="61.60" width="31.30" height="9.60" fill="#4f97d6" />
<rect x="472.40" y="61.60" width="8.60" height="9.60" fill="#4f97d6" />
<rect x="293.00" y="71.60" width="211.40" height="9.60" fill="#e4ebf3" />
<rect x="295.30" y="71.60" width="0.45" height="9.60" fill="#c9d3df" opacity="0.8"/>
<rect x="298.60" y="71.60" width="0.45" height="9.60" fill="#c9d3df" opacity="0.8"/>
<rect x="302.80" y="71.60" width="0.45" height="9.60" fill="#c9d3df" opacity="0.8"/>
<rect x="307.90" y="71.60" width="0.45" height="9.60" fill="#c9d3df" opacity="0.8"/>
<rect x="311.20" y="71.60" width="0.45" height="9.60" fill="#c9d3df" opacity="0.8"/>
<rect x="315.40" y="71.60" width="0.45" height="9.60" fill="#c9d3df" opacity="0.8"/>
<rect x="320.50" y="71.60" width="0.45" height="9.60" fill="#c9d3df" opacity="0.8"/>
<rect x="323.80" y="71.60" width="0.45" height="9.60" fill="#c9d3df" opacity="0.8"/>
<rect x="328.00" y="71.60" width="0.45" height="9.60" fill="#c9d3df" opacity="0.8"/>
<rect x="333.10" y="71.60" width="0.45" height="9.60" fill="#c9d3df" opacity="0.8"/>
<rect x="336.40" y="71.60" width="0.45" height="9.60" fill="#c9d3df" opacity="0.8"/>
<rect x="340.60" y="71.60" width="0.45" height="9.60" fill="#c9d3df" opacity="0.8"/>
<rect x="345.70" y="71.60" width="0.45" height="9.60" fill="#c9d3df" opacity="0.8"/>
<rect x="349.00" y="71.60" width="0.45" height="9.60" fill="#c9d3df" opacity="0.8"/>
<rect x="353.20" y="71.60" width="0.45" height="9.60" fill="#c9d3df" opacity="0.8"/>
<rect x="358.30" y="71.60" width="0.45" height="9.60" fill="#c9d3df" opacity="0.8"/>
<rect x="361.60" y="71.60" width="0.45" height="9.60" fill="#c9d3df" opacity="0.8"/>
<rect x="365.80" y="71.60" width="0.45" height="9.60" fill="#c9d3df" opacity="0.8"/>
<rect x="370.90" y="71.60" width="0.45" height="9.60" fill="#c9d3df" opacity="0.8"/>
<rect x="374.20" y="71.60" width="0.45" height="9.60" fill="#c9d3df" opacity="0.8"/>
<rect x="378.40" y="71.60" width="0.45" height="9.60" fill="#c9d3df" opacity="0.8"/>
<rect x="383.50" y="71.60" width="0.45" height="9.60" fill="#c9d3df" opacity="0.8"/>
<rect x="386.80" y="71.60" width="0.45" height="9.60" fill="#c9d3df" opacity="0.8"/>
<rect x="391.00" y="71.60" width="0.45" height="9.60" fill="#c9d3df" opacity="0.8"/>
<rect x="396.10" y="71.60" width="0.45" height="9.60" fill="#c9d3df" opacity="0.8"/>
<rect x="399.40" y="71.60" width="0.45" height="9.60" fill="#c9d3df" opacity="0.8"/>
<rect x="403.60" y="71.60" width="0.45" height="9.60" fill="#c9d3df" opacity="0.8"/>
<rect x="408.70" y="71.60" width="0.45" height="9.60" fill="#c9d3df" opacity="0.8"/>
<rect x="412.00" y="71.60" width="0.45" height="9.60" fill="#c9d3df" opacity="0.8"/>
<rect x="416.20" y="71.60" width="0.45" height="9.60" fill="#c9d3df" opacity="0.8"/>
<rect x="421.30" y="71.60" width="0.45" height="9.60" fill="#c9d3df" opacity="0.8"/>
<rect x="424.60" y="71.60" width="0.45" height="9.60" fill="#c9d3df" opacity="0.8"/>
<rect x="428.80" y="71.60" width="0.45" height="9.60" fill="#c9d3df" opacity="0.8"/>
<rect x="433.90" y="71.60" width="0.45" height="9.60" fill="#c9d3df" opacity="0.8"/>
<rect x="437.20" y="71.60" width="0.45" height="9.60" fill="#c9d3df" opacity="0.8"/>
<rect x="441.40" y="71.60" width="0.45" height="9.60" fill="#c9d3df" opacity="0.8"/>
<rect x="446.50" y="71.60" width="0.45" height="9.60" fill="#c9d3df" opacity="0.8"/>
<rect x="449.80" y="71.60" width="0.45" height="9.60" fill="#c9d3df" opacity="0.8"/>
<rect x="454.00" y="71.60" width="0.45" height="9.60" fill="#c9d3df" opacity="0.8"/>
<rect x="459.10" y="71.60" width="0.45" height="9.60" fill="#c9d3df" opacity="0.8"/>
<rect x="462.40" y="71.60" width="0.45" height="9.60" fill="#c9d3df" opacity="0.8"/>
<rect x="466.60" y="71.60" width="0.45" height="9.60" fill="#c9d3df" opacity="0.8"/>
<rect x="471.70" y="71.60" width="0.45" height="9.60" fill="#c9d3df" opacity="0.8"/>
<rect x="475.00" y="71.60" width="0.45" height="9.60" fill="#c9d3df" opacity="0.8"/>
<rect x="479.20" y="71.60" width="0.45" height="9.60" fill="#c9d3df" opacity="0.8"/>
<rect x="484.30" y="71.60" width="0.45" height="9.60" fill="#c9d3df" opacity="0.8"/>
<rect x="487.60" y="71.60" width="0.45" height="9.60" fill="#c9d3df" opacity="0.8"/>
<rect x="491.80" y="71.60" width="0.45" height="9.60" fill="#c9d3df" opacity="0.8"/>
<rect x="496.90" y="71.60" width="0.45" height="9.60" fill="#c9d3df" opacity="0.8"/>
<rect x="500.20" y="71.60" width="0.45" height="9.60" fill="#c9d3df" opacity="0.8"/>
<rect x="312.00" y="71.60" width="4.00" height="9.60" fill="#6649a2" />
<rect x="323.00" y="71.60" width="1.70" height="9.60" fill="#6649a2" />
<rect x="327.70" y="71.60" width="3.00" height="9.60" fill="#6649a2" />
<rect x="342.00" y="71.60" width="6.00" height="9.60" fill="#6649a2" />
<rect x="363.50" y="71.60" width="4.10" height="9.60" fill="#6649a2" />
<rect x="383.55" y="71.60" width="1.30" height="9.60" fill="#553890" />
<rect x="387.70" y="71.60" width="1.30" height="9.60" fill="#553890" />
<rect x="419.80" y="71.60" width="44.90" height="9.60" fill="#6649a2" />
<rect x="293.00" y="31.30" width="211.40" height="0.80" fill="#b4bcc5" />
<rect x="293.00" y="40.70" width="211.40" height="0.80" fill="#b4bcc5" />
<rect x="293.00" y="50.70" width="211.40" height="0.80" fill="#b4bcc5" />
<rect x="293.00" y="60.70" width="211.40" height="0.80" fill="#b4bcc5" />
<rect x="293.00" y="70.70" width="211.40" height="0.80" fill="#b4bcc5" />
<rect x="293.00" y="80.70" width="211.40" height="0.80" fill="#b4bcc5" />
<text x="115.60" y="19.00" font-size="4.6" font-weight="bold" text-anchor="middle" textLength="57.00" lengthAdjust="spacingAndGlyphs" class="k3">CD37-negative GCB (n=176)</text>
<text x="228.30" y="19.00" font-size="4.6" font-weight="bold" text-anchor="middle" textLength="39.00" lengthAdjust="spacingAndGlyphs" class="k3">CD37+ GCB (n=90)</text>
<text x="351.00" y="18.60" font-size="4.6" font-weight="bold" text-anchor="middle" textLength="58.00" lengthAdjust="spacingAndGlyphs" class="k3">CD37-negative ABC (n=134)</text>
<text x="456.50" y="18.90" font-size="4.6" font-weight="bold" text-anchor="middle" textLength="41.00" lengthAdjust="spacingAndGlyphs" class="k3">CD37+ ABC (n=119)</text>
<text x="41.50" y="39.40" font-size="4.4" text-anchor="end" fill="#2a2a2a" font-style="italic" class="k2">MUT-TP53</text>
<text class="k2" x="41.50" y="49.40" font-size="4.4" text-anchor="end" fill="#2a2a2a"><tspan>p50</tspan><tspan font-size="3.6" font-weight="bold" fill="#111" dy="-2.2">high</tspan></text>
<text class="k2" x="41.50" y="58.80" font-size="4.4" text-anchor="end" fill="#2a2a2a"><tspan>Myc</tspan><tspan font-size="3.6" font-weight="bold" fill="#111" dy="-2.2">high</tspan></text>
<text class="k2" x="41.50" y="68.80" font-size="4.4" text-anchor="end" fill="#2a2a2a"><tspan>p-STAT3</tspan><tspan font-size="3.6" font-weight="bold" fill="#111" dy="-2.2">high</tspan></text>
<text class="k2" x="41.50" y="78.60" font-size="4.4" text-anchor="end" fill="#2a2a2a"><tspan>p65</tspan><tspan font-size="3.6" font-weight="bold" fill="#111" dy="-2.2">high</tspan></text>
<text class="k2" x="289.50" y="39.70" font-size="4.4" text-anchor="end" fill="#2a2a2a"><tspan>p50</tspan><tspan font-size="3.6" font-weight="bold" fill="#111" dy="-2.2">high</tspan></text>
<text class="k2" x="289.50" y="49.50" font-size="4.4" text-anchor="end" fill="#2a2a2a"><tspan>survivin</tspan><tspan font-size="3.6" font-weight="bold" fill="#111" dy="-2.2">high</tspan></text>
<text x="289.30" y="58.60" font-size="4.4" text-anchor="end" fill="#2a2a2a" class="k2">BCL6-R</text>
<text class="k2" x="289.50" y="68.60" font-size="4.4" text-anchor="end" fill="#2a2a2a"><tspan>PI3K</tspan><tspan font-size="3.6" font-weight="bold" fill="#111" dy="-2.2">high</tspan></text>
<text class="k2" x="289.50" y="78.60" font-size="4.4" text-anchor="end" fill="#2a2a2a"><tspan>CXCR4</tspan><tspan font-size="3.6" font-weight="bold" fill="#111" dy="-2.2">high</tspan></text>
<text x="5.80" y="16.90" font-size="12" font-weight="bold" fill="#111" textLength="7.70" lengthAdjust="spacingAndGlyphs" class="t">A</text>
<text x="267.10" y="16.90" font-size="12" font-weight="bold" fill="#111" textLength="6.90" lengthAdjust="spacingAndGlyphs" class="t">B</text>
<text x="6.10" y="98.40" font-size="12" font-weight="bold" fill="#111" textLength="7.50" lengthAdjust="spacingAndGlyphs" class="t">C</text>
<text x="386.10" y="200.60" font-size="12" font-weight="bold" fill="#111" textLength="7.50" lengthAdjust="spacingAndGlyphs" class="t">D</text>
<text x="6.10" y="313.80" font-size="12" font-weight="bold" fill="#111" textLength="6.90" lengthAdjust="spacingAndGlyphs" class="t">E</text>
<text x="386.10" y="419.10" font-size="12" font-weight="bold" fill="#111" textLength="6.00" lengthAdjust="spacingAndGlyphs" class="t">F</text>
<text x="76.30" y="105.70" font-size="6.5" font-weight="bold" text-anchor="middle" fill="#111" textLength="38.20" lengthAdjust="spacingAndGlyphs" class="t">GCB-DLBCL</text>
<text x="12.00" y="143.30" font-size="6.1" text-anchor="middle" textLength="74.50" lengthAdjust="spacingAndGlyphs" transform="rotate(-90 12.00 143.30)" class="k3">Progression-free survival (%)</text>
<line x1="26.30" y1="111.00" x2="26.30" y2="175.70" stroke="#1a1a1a" stroke-width="1.3" />
<line x1="25.70" y1="175.10" x2="126.20" y2="175.10" stroke="#1a1a1a" stroke-width="1.3" />
<line x1="24.60" y1="169.04" x2="26.30" y2="169.04" stroke="#1a1a1a" stroke-width="0.95" />
<line x1="24.60" y1="156.92" x2="26.30" y2="156.92" stroke="#1a1a1a" stroke-width="0.95" />
<line x1="24.60" y1="144.80" x2="26.30" y2="144.80" stroke="#1a1a1a" stroke-width="0.95" />
<line x1="24.60" y1="132.68" x2="26.30" y2="132.68" stroke="#1a1a1a" stroke-width="0.95" />
<line x1="24.60" y1="120.56" x2="26.30" y2="120.56" stroke="#1a1a1a" stroke-width="0.95" />
<line x1="23.30" y1="175.10" x2="26.30" y2="175.10" stroke="#1a1a1a" stroke-width="1.15" />
<text x="21.70" y="176.55" font-size="4.1" text-anchor="end" class="k2">0</text>
<line x1="23.30" y1="162.98" x2="26.30" y2="162.98" stroke="#1a1a1a" stroke-width="1.15" />
<text x="21.70" y="164.43" font-size="4.1" text-anchor="end" class="k2">20</text>
<line x1="23.30" y1="150.86" x2="26.30" y2="150.86" stroke="#1a1a1a" stroke-width="1.15" />
<text x="21.70" y="152.31" font-size="4.1" text-anchor="end" class="k2">40</text>
<line x1="23.30" y1="138.74" x2="26.30" y2="138.74" stroke="#1a1a1a" stroke-width="1.15" />
<text x="21.70" y="140.19" font-size="4.1" text-anchor="end" class="k2">60</text>
<line x1="23.30" y1="126.62" x2="26.30" y2="126.62" stroke="#1a1a1a" stroke-width="1.15" />
<text x="21.70" y="128.07" font-size="4.1" text-anchor="end" class="k2">80</text>
<line x1="23.30" y1="114.50" x2="26.30" y2="114.50" stroke="#1a1a1a" stroke-width="1.15" />
<text x="21.70" y="115.95" font-size="4.1" text-anchor="end" class="k2">100</text>
<line x1="26.30" y1="175.10" x2="26.30" y2="177.50" stroke="#1a1a1a" stroke-width="1.1" />
<text x="26.30" y="182.40" font-size="4.1" text-anchor="middle" class="k2">0</text>
<line x1="35.99" y1="175.10" x2="35.99" y2="177.50" stroke="#1a1a1a" stroke-width="1.1" />
<text x="35.99" y="182.40" font-size="4.1" text-anchor="middle" class="k2">20</text>
<line x1="45.68" y1="175.10" x2="45.68" y2="177.50" stroke="#1a1a1a" stroke-width="1.1" />
<text x="45.68" y="182.40" font-size="4.1" text-anchor="middle" class="k2">40</text>
<line x1="55.37" y1="175.10" x2="55.37" y2="177.50" stroke="#1a1a1a" stroke-width="1.1" />
<text x="55.37" y="182.40" font-size="4.1" text-anchor="middle" class="k2">60</text>
<line x1="65.06" y1="175.10" x2="65.06" y2="177.50" stroke="#1a1a1a" stroke-width="1.1" />
<text x="65.06" y="182.40" font-size="4.1" text-anchor="middle" class="k2">80</text>
<line x1="74.75" y1="175.10" x2="74.75" y2="177.50" stroke="#1a1a1a" stroke-width="1.1" />
<text x="74.75" y="182.40" font-size="4.1" text-anchor="middle" class="k2">100</text>
<line x1="84.44" y1="175.10" x2="84.44" y2="177.50" stroke="#1a1a1a" stroke-width="1.1" />
<text x="84.44" y="182.40" font-size="4.1" text-anchor="middle" class="k2">120</text>
<line x1="94.13" y1="175.10" x2="94.13" y2="177.50" stroke="#1a1a1a" stroke-width="1.1" />
<text x="94.13" y="182.40" font-size="4.1" text-anchor="middle" class="k2">140</text>
<line x1="103.82" y1="175.10" x2="103.82" y2="177.50" stroke="#1a1a1a" stroke-width="1.1" />
<text x="103.82" y="182.40" font-size="4.1" text-anchor="middle" class="k2">160</text>
<line x1="113.51" y1="175.10" x2="113.51" y2="177.50" stroke="#1a1a1a" stroke-width="1.1" />
<text x="113.51" y="182.40" font-size="4.1" text-anchor="middle" class="k2">180</text>
<line x1="123.20" y1="175.10" x2="123.20" y2="177.50" stroke="#1a1a1a" stroke-width="1.1" />
<text x="123.20" y="182.40" font-size="4.1" text-anchor="middle" class="k2">200</text>
<polyline points="26.30,114.50 26.90,114.50 26.90,116.55 27.50,116.55 27.50,118.60 29.58,118.60 29.58,118.75 31.67,118.75 31.67,118.90 33.75,118.90 33.75,119.05 35.83,119.05 35.83,119.20 37.92,119.20 37.92,119.35 40.00,119.35 40.00,119.50 42.25,119.50 42.25,119.55 44.50,119.55 44.50,119.60 46.75,119.60 46.75,119.65 49.00,119.65 49.00,119.70 51.25,119.70 51.25,119.75 53.50,119.75 53.50,119.80 55.75,119.80 55.75,119.85 58.00,119.85 58.00,119.90 60.25,119.90 60.25,119.95 62.50,119.95 62.50,120.00 62.50,131.50 74.00,131.50" fill="none" stroke="#94b888" stroke-width="1.1" stroke-linejoin="round" />
<polyline points="26.30,114.50 30.80,114.70 32.70,114.70 32.70,115.13 34.60,115.13 34.60,115.57 36.50,115.57 36.50,116.00 38.50,116.00 38.50,118.60 53.80,118.60 56.70,118.60 56.70,120.00 58.63,120.00 58.63,120.17 60.57,120.17 60.57,120.33 62.50,120.33 62.50,120.50 64.40,120.50 64.40,123.40 103.80,123.40" fill="none" stroke="#46518a" stroke-width="1.1" stroke-linejoin="round" />
<polyline points="26.30,114.50 30.80,123.40 34.60,128.00 40.40,133.00 46.00,136.80 50.00,137.50 53.80,137.20 59.60,139.70 63.50,141.60 69.50,143.00" fill="none" stroke="#d6bf72" stroke-width="1.15" stroke-dasharray="1.5 1.1" stroke-linejoin="round" />
<polyline points="26.30,114.50 28.00,119.50 30.80,129.00 34.60,137.80 39.40,142.60 44.20,145.50 48.00,146.50 50.00,148.40 53.80,151.30 57.70,153.20 61.50,156.00 93.30,156.00" fill="none" stroke="#98384c" stroke-width="1.15" stroke-dasharray="1.5 1.1" stroke-linejoin="round" />
<text x="68.30" y="115.50" font-size="4.4" font-weight="bold" fill="#46518a" >1.</text>
<line x1="73.10" y1="114.00" x2="78.90" y2="114.00" stroke="#46518a" stroke-width="0.9" />
<circle cx="76.00" cy="114.00" r="0.8" fill="#46518a"/>
<text class="k" x="80.70" y="115.60" font-size="4.6" fill="#1a1a1a">CD37<tspan font-size="3.6" dy="-1.9">+</tspan><tspan dy="1.9"> </tspan><tspan font-style="italic">WT-TP53</tspan> (n=72)</text>
<text x="68.30" y="121.50" font-size="4.4" font-weight="bold" fill="#94b888" >2.</text>
<line x1="73.10" y1="120.00" x2="78.90" y2="120.00" stroke="#94b888" stroke-width="0.9" />
<circle cx="76.00" cy="120.00" r="0.8" fill="#94b888"/>
<text class="k" x="80.70" y="121.60" font-size="4.6" fill="#1a1a1a">CD37<tspan font-size="3.6" dy="-1.9">+</tspan><tspan dy="1.9"> </tspan><tspan font-style="italic">MUT-TP53</tspan> (n=11)</text>
<text x="68.30" y="137.50" font-size="4.4" font-weight="bold" fill="#d6bf72" >3.</text>
<line x1="73.10" y1="136.00" x2="78.90" y2="136.00" stroke="#d6bf72" stroke-width="0.9" stroke-dasharray="1.4 0.8"/>
<circle cx="76.00" cy="136.00" r="0.8" fill="#d6bf72"/>
<text class="k" x="80.70" y="137.60" font-size="4.6" fill="#1a1a1a">CD37<tspan font-size="3.6" dy="-1.9">−</tspan><tspan dy="1.9"> </tspan><tspan font-style="italic">WT-TP53</tspan> (n=101)</text>
<text x="68.30" y="143.00" font-size="4.4" font-weight="bold" fill="#98384c" >4.</text>
<line x1="73.10" y1="141.50" x2="78.90" y2="141.50" stroke="#98384c" stroke-width="0.9" stroke-dasharray="1.4 0.8"/>
<circle cx="76.00" cy="141.50" r="0.8" fill="#98384c"/>
<text class="k" x="80.70" y="143.10" font-size="4.6" fill="#1a1a1a">CD37<tspan font-size="3.6" dy="-1.9">−</tspan><tspan dy="1.9"> </tspan><tspan font-style="italic">MUT-TP53</tspan> (n=20)</text>
<text x="28.50" y="166.30" font-size="4.3" font-weight="bold" fill="#1a1a1a" textLength="70.50" lengthAdjust="spacingAndGlyphs" class="k3">1 vs. 2: <tspan font-style="italic">P</tspan>= .0001; 3 vs. 4: <tspan font-style="italic">P</tspan>= .016;</text>
<text x="28.50" y="171.60" font-size="4.3" fill="#1a1a1a" textLength="55.00" lengthAdjust="spacingAndGlyphs" class="k">1 vs. 3: <tspan font-style="italic">P</tspan>= .53; 2 vs. 4: <tspan font-style="italic">P</tspan>= .03</text>
<text x="53.00" y="117.00" font-size="4.2" font-weight="bold" fill="#46518a" >1.</text>
<text x="65.50" y="129.50" font-size="4.2" font-weight="bold" fill="#94b888" >2.</text>
<text x="52.50" y="134.00" font-size="4.2" font-weight="bold" fill="#d6bf72" >3.</text>
<text x="53.00" y="147.80" font-size="4.2" font-weight="bold" fill="#98384c" >4.</text>
<text x="203.40" y="105.70" font-size="6.5" font-weight="bold" text-anchor="middle" fill="#111" textLength="38.20" lengthAdjust="spacingAndGlyphs" class="t">GCB-DLBCL</text>
<text x="138.70" y="142.00" font-size="6.1" text-anchor="middle" textLength="74.50" lengthAdjust="spacingAndGlyphs" transform="rotate(-90 138.70 142.00)" class="k3">Progression-free survival (%)</text>
<line x1="153.00" y1="108.40" x2="153.00" y2="175.70" stroke="#1a1a1a" stroke-width="1.3" />
<line x1="152.40" y1="175.10" x2="255.30" y2="175.10" stroke="#1a1a1a" stroke-width="1.3" />
<line x1="151.30" y1="168.78" x2="153.00" y2="168.78" stroke="#1a1a1a" stroke-width="0.95" />
<line x1="151.30" y1="156.14" x2="153.00" y2="156.14" stroke="#1a1a1a" stroke-width="0.95" />
<line x1="151.30" y1="143.50" x2="153.00" y2="143.50" stroke="#1a1a1a" stroke-width="0.95" />
<line x1="151.30" y1="130.86" x2="153.00" y2="130.86" stroke="#1a1a1a" stroke-width="0.95" />
<line x1="151.30" y1="118.22" x2="153.00" y2="118.22" stroke="#1a1a1a" stroke-width="0.95" />
<line x1="150.00" y1="175.10" x2="153.00" y2="175.10" stroke="#1a1a1a" stroke-width="1.15" />
<text x="148.40" y="176.55" font-size="4.1" text-anchor="end" class="k2">0</text>
<line x1="150.00" y1="162.46" x2="153.00" y2="162.46" stroke="#1a1a1a" stroke-width="1.15" />
<text x="148.40" y="163.91" font-size="4.1" text-anchor="end" class="k2">20</text>
<line x1="150.00" y1="149.82" x2="153.00" y2="149.82" stroke="#1a1a1a" stroke-width="1.15" />
<text x="148.40" y="151.27" font-size="4.1" text-anchor="end" class="k2">40</text>
<line x1="150.00" y1="137.18" x2="153.00" y2="137.18" stroke="#1a1a1a" stroke-width="1.15" />
<text x="148.40" y="138.63" font-size="4.1" text-anchor="end" class="k2">60</text>
<line x1="150.00" y1="124.54" x2="153.00" y2="124.54" stroke="#1a1a1a" stroke-width="1.15" />
<text x="148.40" y="125.99" font-size="4.1" text-anchor="end" class="k2">80</text>
<line x1="150.00" y1="111.90" x2="153.00" y2="111.90" stroke="#1a1a1a" stroke-width="1.15" />
<text x="148.40" y="113.35" font-size="4.1" text-anchor="end" class="k2">100</text>
<line x1="153.00" y1="175.10" x2="153.00" y2="177.50" stroke="#1a1a1a" stroke-width="1.1" />
<text x="153.00" y="182.40" font-size="4.1" text-anchor="middle" class="k2">0</text>
<line x1="162.93" y1="175.10" x2="162.93" y2="177.50" stroke="#1a1a1a" stroke-width="1.1" />
<text x="162.93" y="182.40" font-size="4.1" text-anchor="middle" class="k2">20</text>
<line x1="172.86" y1="175.10" x2="172.86" y2="177.50" stroke="#1a1a1a" stroke-width="1.1" />
<text x="172.86" y="182.40" font-size="4.1" text-anchor="middle" class="k2">40</text>
<line x1="182.79" y1="175.10" x2="182.79" y2="177.50" stroke="#1a1a1a" stroke-width="1.1" />
<text x="182.79" y="182.40" font-size="4.1" text-anchor="middle" class="k2">60</text>
<line x1="192.72" y1="175.10" x2="192.72" y2="177.50" stroke="#1a1a1a" stroke-width="1.1" />
<text x="192.72" y="182.40" font-size="4.1" text-anchor="middle" class="k2">80</text>
<line x1="202.65" y1="175.10" x2="202.65" y2="177.50" stroke="#1a1a1a" stroke-width="1.1" />
<text x="202.65" y="182.40" font-size="4.1" text-anchor="middle" class="k2">100</text>
<line x1="212.58" y1="175.10" x2="212.58" y2="177.50" stroke="#1a1a1a" stroke-width="1.1" />
<text x="212.58" y="182.40" font-size="4.1" text-anchor="middle" class="k2">120</text>
<line x1="222.51" y1="175.10" x2="222.51" y2="177.50" stroke="#1a1a1a" stroke-width="1.1" />
<text x="222.51" y="182.40" font-size="4.1" text-anchor="middle" class="k2">140</text>
<line x1="232.44" y1="175.10" x2="232.44" y2="177.50" stroke="#1a1a1a" stroke-width="1.1" />
<text x="232.44" y="182.40" font-size="4.1" text-anchor="middle" class="k2">160</text>
<line x1="242.37" y1="175.10" x2="242.37" y2="177.50" stroke="#1a1a1a" stroke-width="1.1" />
<text x="242.37" y="182.40" font-size="4.1" text-anchor="middle" class="k2">180</text>
<line x1="252.30" y1="175.10" x2="252.30" y2="177.50" stroke="#1a1a1a" stroke-width="1.1" />
<text x="252.30" y="182.40" font-size="4.1" text-anchor="middle" class="k2">200</text>
<polyline points="153.00,111.90 190.00,111.90 190.00,119.50 232.50,119.50" fill="none" stroke="#94b888" stroke-width="1.1" stroke-linejoin="round" />
<polyline points="153.00,111.90 155.35,111.90 155.35,114.05 157.70,114.05 157.70,116.20 160.10,116.20 160.10,116.90 162.50,116.90 162.50,117.60 165.40,117.60 165.40,120.00 191.30,120.00 191.30,123.90 202.00,123.90" fill="none" stroke="#46518a" stroke-width="1.1" stroke-linejoin="round" />
<polyline points="153.00,111.90 155.80,118.60 157.50,126.00 161.00,131.50 166.00,134.50 172.50,138.75 182.50,143.75 187.50,147.00 190.00,151.25 222.50,151.25" fill="none" stroke="#d6bf72" stroke-width="1.15" stroke-dasharray="1.5 1.1" stroke-linejoin="round" />
<polyline points="153.00,111.90 155.80,117.60 158.70,126.30 162.50,131.00 167.30,134.00 172.10,136.40 193.30,136.40 196.00,140.00 198.50,141.00 198.50,151.50 215.00,151.50" fill="none" stroke="#98384c" stroke-width="1.15" stroke-dasharray="1.5 1.1" stroke-linejoin="round" />
<text x="203.10" y="128.00" font-size="4.4" font-weight="bold" fill="#46518a" >1.</text>
<line x1="207.90" y1="126.50" x2="213.70" y2="126.50" stroke="#46518a" stroke-width="0.9" />
<circle cx="210.80" cy="126.50" r="0.8" fill="#46518a"/>
<text class="k" x="215.50" y="128.10" font-size="4.6" fill="#1a1a1a">CD37<tspan font-size="3.6" dy="-1.9">+</tspan><tspan dy="1.9"> </tspan>p50<tspan font-size="3.6" dy="-1.9">−</tspan><tspan dy="1.9"> </tspan>(n=40)</text>
<text x="203.10" y="135.10" font-size="4.4" font-weight="bold" fill="#94b888" >2.</text>
<line x1="207.90" y1="133.60" x2="213.70" y2="133.60" stroke="#94b888" stroke-width="0.9" />
<circle cx="210.80" cy="133.60" r="0.8" fill="#94b888"/>
<text class="k" x="215.50" y="135.20" font-size="4.6" fill="#1a1a1a">CD37<tspan font-size="3.6" dy="-1.9">+</tspan><tspan dy="1.9"> </tspan>p50<tspan font-size="3.6" dy="-1.9">+</tspan><tspan dy="1.9"> </tspan>(n=15)</text>
<text x="203.10" y="142.00" font-size="4.4" font-weight="bold" fill="#d6bf72" >3.</text>
<line x1="207.90" y1="140.50" x2="213.70" y2="140.50" stroke="#d6bf72" stroke-width="0.9" stroke-dasharray="1.4 0.8"/>
<circle cx="210.80" cy="140.50" r="0.8" fill="#d6bf72"/>
<text class="k" x="215.50" y="142.10" font-size="4.6" fill="#1a1a1a">CD37<tspan font-size="3.6" dy="-1.9">−</tspan><tspan dy="1.9"> </tspan>p50<tspan font-size="3.6" dy="-1.9">−</tspan><tspan dy="1.9"> </tspan>(n=106)</text>
<text x="203.10" y="148.90" font-size="4.4" font-weight="bold" fill="#98384c" >4.</text>
<line x1="207.90" y1="147.40" x2="213.70" y2="147.40" stroke="#98384c" stroke-width="0.9" stroke-dasharray="1.4 0.8"/>
<circle cx="210.80" cy="147.40" r="0.8" fill="#98384c"/>
<text class="k" x="215.50" y="149.00" font-size="4.6" fill="#1a1a1a">CD37<tspan font-size="3.6" dy="-1.9">−</tspan><tspan dy="1.9"> </tspan>p50<tspan font-size="3.6" dy="-1.9">+</tspan><tspan dy="1.9"> </tspan>(n=51)</text>
<text x="155.50" y="166.30" font-size="4.3" font-weight="bold" fill="#1a1a1a" textLength="63.00" lengthAdjust="spacingAndGlyphs" class="k3">1 vs. 2: <tspan font-style="italic">P</tspan>= .0021; 3 vs. 4: <tspan font-style="italic">P</tspan>= .01;</text>
<text x="155.50" y="171.60" font-size="4.3" fill="#1a1a1a" textLength="51.00" lengthAdjust="spacingAndGlyphs" class="k">1 vs. 3: <tspan font-style="italic">P</tspan>= .34; 2 vs. 4: <tspan font-style="italic">P</tspan>= .19</text>
<text x="181.00" y="118.00" font-size="4.2" font-weight="bold" fill="#46518a" >1.</text>
<text x="192.00" y="118.50" font-size="4.2" font-weight="bold" fill="#94b888" >1</text>
<text x="181.50" y="133.50" font-size="4.2" font-weight="bold" fill="#98384c" >4.</text>
<text x="183.00" y="143.50" font-size="4.2" font-weight="bold" fill="#d6bf72" >3.</text>
<text x="328.80" y="105.70" font-size="6.5" font-weight="bold" text-anchor="middle" fill="#111" textLength="38.20" lengthAdjust="spacingAndGlyphs" class="t">GCB-DLBCL</text>
<text x="263.70" y="142.25" font-size="6.1" text-anchor="middle" textLength="74.50" lengthAdjust="spacingAndGlyphs" transform="rotate(-90 263.70 142.25)" class="k3">Progression-free survival (%)</text>
<line x1="278.00" y1="108.50" x2="278.00" y2="176.10" stroke="#1a1a1a" stroke-width="1.3" />
<line x1="277.40" y1="175.50" x2="379.60" y2="175.50" stroke="#1a1a1a" stroke-width="1.3" />
<line x1="276.30" y1="169.15" x2="278.00" y2="169.15" stroke="#1a1a1a" stroke-width="0.95" />
<line x1="276.30" y1="156.45" x2="278.00" y2="156.45" stroke="#1a1a1a" stroke-width="0.95" />
<line x1="276.30" y1="143.75" x2="278.00" y2="143.75" stroke="#1a1a1a" stroke-width="0.95" />
<line x1="276.30" y1="131.05" x2="278.00" y2="131.05" stroke="#1a1a1a" stroke-width="0.95" />
<line x1="276.30" y1="118.35" x2="278.00" y2="118.35" stroke="#1a1a1a" stroke-width="0.95" />
<line x1="275.00" y1="175.50" x2="278.00" y2="175.50" stroke="#1a1a1a" stroke-width="1.15" />
<text x="273.40" y="176.95" font-size="4.1" text-anchor="end" class="k2">0</text>
<line x1="275.00" y1="162.80" x2="278.00" y2="162.80" stroke="#1a1a1a" stroke-width="1.15" />
<text x="273.40" y="164.25" font-size="4.1" text-anchor="end" class="k2">20</text>
<line x1="275.00" y1="150.10" x2="278.00" y2="150.10" stroke="#1a1a1a" stroke-width="1.15" />
<text x="273.40" y="151.55" font-size="4.1" text-anchor="end" class="k2">40</text>
<line x1="275.00" y1="137.40" x2="278.00" y2="137.40" stroke="#1a1a1a" stroke-width="1.15" />
<text x="273.40" y="138.85" font-size="4.1" text-anchor="end" class="k2">60</text>
<line x1="275.00" y1="124.70" x2="278.00" y2="124.70" stroke="#1a1a1a" stroke-width="1.15" />
<text x="273.40" y="126.15" font-size="4.1" text-anchor="end" class="k2">80</text>
<line x1="275.00" y1="112.00" x2="278.00" y2="112.00" stroke="#1a1a1a" stroke-width="1.15" />
<text x="273.40" y="113.45" font-size="4.1" text-anchor="end" class="k2">100</text>
<line x1="278.00" y1="175.50" x2="278.00" y2="177.90" stroke="#1a1a1a" stroke-width="1.1" />
<text x="278.00" y="182.80" font-size="4.1" text-anchor="middle" class="k2">0</text>
<line x1="287.86" y1="175.50" x2="287.86" y2="177.90" stroke="#1a1a1a" stroke-width="1.1" />
<text x="287.86" y="182.80" font-size="4.1" text-anchor="middle" class="k2">20</text>
<line x1="297.72" y1="175.50" x2="297.72" y2="177.90" stroke="#1a1a1a" stroke-width="1.1" />
<text x="297.72" y="182.80" font-size="4.1" text-anchor="middle" class="k2">40</text>
<line x1="307.58" y1="175.50" x2="307.58" y2="177.90" stroke="#1a1a1a" stroke-width="1.1" />
<text x="307.58" y="182.80" font-size="4.1" text-anchor="middle" class="k2">60</text>
<line x1="317.44" y1="175.50" x2="317.44" y2="177.90" stroke="#1a1a1a" stroke-width="1.1" />
<text x="317.44" y="182.80" font-size="4.1" text-anchor="middle" class="k2">80</text>
<line x1="327.30" y1="175.50" x2="327.30" y2="177.90" stroke="#1a1a1a" stroke-width="1.1" />
<text x="327.30" y="182.80" font-size="4.1" text-anchor="middle" class="k2">100</text>
<line x1="337.16" y1="175.50" x2="337.16" y2="177.90" stroke="#1a1a1a" stroke-width="1.1" />
<text x="337.16" y="182.80" font-size="4.1" text-anchor="middle" class="k2">120</text>
<line x1="347.02" y1="175.50" x2="347.02" y2="177.90" stroke="#1a1a1a" stroke-width="1.1" />
<text x="347.02" y="182.80" font-size="4.1" text-anchor="middle" class="k2">140</text>
<line x1="356.88" y1="175.50" x2="356.88" y2="177.90" stroke="#1a1a1a" stroke-width="1.1" />
<text x="356.88" y="182.80" font-size="4.1" text-anchor="middle" class="k2">160</text>
<line x1="366.74" y1="175.50" x2="366.74" y2="177.90" stroke="#1a1a1a" stroke-width="1.1" />
<text x="366.74" y="182.80" font-size="4.1" text-anchor="middle" class="k2">180</text>
<line x1="376.60" y1="175.50" x2="376.60" y2="177.90" stroke="#1a1a1a" stroke-width="1.1" />
<text x="376.60" y="182.80" font-size="4.1" text-anchor="middle" class="k2">200</text>
<polyline points="278.00,112.00 279.00,112.00 279.00,114.75 280.00,114.75 280.00,117.50 287.50,117.50 287.50,123.75 316.00,123.75" fill="none" stroke="#94b888" stroke-width="1.1" stroke-linejoin="round" />
<polyline points="278.00,112.00 281.00,112.00 281.00,113.00 283.00,113.00 283.00,113.27 285.00,113.27 285.00,113.53 287.00,113.53 287.00,113.80 289.25,113.80 289.25,113.97 291.50,113.97 291.50,114.15 293.75,114.15 293.75,114.33 296.00,114.33 296.00,114.50 298.00,114.50 298.00,117.00 300.33,117.00 300.33,117.08 302.67,117.08 302.67,117.17 305.00,117.17 305.00,117.25 307.33,117.25 307.33,117.33 309.67,117.33 309.67,117.42 312.00,117.42 312.00,117.50 314.00,117.50 314.00,120.00 316.50,120.00 317.00,120.00 317.00,122.30 317.50,122.30 317.50,124.60 358.00,124.60" fill="none" stroke="#46518a" stroke-width="1.1" stroke-linejoin="round" />
<polyline points="278.00,112.00 281.25,118.75 285.00,128.75 290.00,132.50 296.00,136.25 303.75,138.75 308.75,141.25 313.75,143.75 320.00,148.75 323.75,150.50 327.50,150.50" fill="none" stroke="#d6bf72" stroke-width="1.15" stroke-dasharray="1.5 1.1" stroke-linejoin="round" />
<polyline points="278.00,112.00 280.50,123.75 283.75,132.50 286.25,138.75 290.00,142.50 295.00,145.00 301.25,150.50 307.50,152.50 312.50,154.50 346.25,154.50" fill="none" stroke="#98384c" stroke-width="1.15" stroke-dasharray="1.5 1.1" stroke-linejoin="round" />
<text x="330.00" y="117.70" font-size="4.4" font-weight="bold" fill="#46518a" >1.</text>
<line x1="334.80" y1="116.20" x2="340.60" y2="116.20" stroke="#46518a" stroke-width="0.9" />
<circle cx="337.70" cy="116.20" r="0.8" fill="#46518a"/>
<text class="k" x="342.40" y="117.80" font-size="4.6" fill="#1a1a1a">CD37<tspan font-size="3.6" dy="-1.9">+</tspan><tspan dy="1.9"> </tspan>Myc<tspan font-size="3.6" dy="-1.9">−</tspan><tspan dy="1.9"> </tspan>(n=70)</text>
<text x="330.00" y="123.40" font-size="4.4" font-weight="bold" fill="#94b888" >2.</text>
<line x1="334.80" y1="121.90" x2="340.60" y2="121.90" stroke="#94b888" stroke-width="0.9" />
<circle cx="337.70" cy="121.90" r="0.8" fill="#94b888"/>
<text class="k" x="342.40" y="123.50" font-size="4.6" fill="#1a1a1a">CD37<tspan font-size="3.6" dy="-1.9">+</tspan><tspan dy="1.9"> </tspan>Myc<tspan font-size="3.6" dy="-1.9">+</tspan><tspan dy="1.9"> </tspan>(n=17)</text>
<text x="330.00" y="135.30" font-size="4.4" font-weight="bold" fill="#d6bf72" >3.</text>
<line x1="334.80" y1="133.80" x2="340.60" y2="133.80" stroke="#d6bf72" stroke-width="0.9" stroke-dasharray="1.4 0.8"/>
<circle cx="337.70" cy="133.80" r="0.8" fill="#d6bf72"/>
<text class="k" x="342.40" y="135.40" font-size="4.6" fill="#1a1a1a">CD37<tspan font-size="3.6" dy="-1.9">−</tspan><tspan dy="1.9"> </tspan>Myc<tspan font-size="3.6" dy="-1.9">−</tspan><tspan dy="1.9"> </tspan>(n=118)</text>
<text x="330.00" y="141.40" font-size="4.4" font-weight="bold" fill="#98384c" >4.</text>
<line x1="334.80" y1="139.90" x2="340.60" y2="139.90" stroke="#98384c" stroke-width="0.9" stroke-dasharray="1.4 0.8"/>
<circle cx="337.70" cy="139.90" r="0.8" fill="#98384c"/>
<text class="k" x="342.40" y="141.50" font-size="4.6" fill="#1a1a1a">CD37<tspan font-size="3.6" dy="-1.9">−</tspan><tspan dy="1.9"> </tspan>Myc<tspan font-size="3.6" dy="-1.9">+</tspan><tspan dy="1.9"> </tspan>(n=54)</text>
<text x="279.50" y="166.30" font-size="4.3" font-weight="bold" fill="#1a1a1a" textLength="70.00" lengthAdjust="spacingAndGlyphs" class="k3">1 vs. 2: <tspan font-style="italic">P</tspan>= .0001; 3 vs. 4: <tspan font-style="italic">P</tspan>= .0002;</text>
<text x="279.50" y="171.60" font-size="4.3" fill="#1a1a1a" textLength="55.00" lengthAdjust="spacingAndGlyphs" class="k">1 vs. 3: <tspan font-style="italic">P</tspan>= .62; 2 vs. 4: <tspan font-style="italic">P</tspan>= .037</text>
<text x="305.00" y="117.00" font-size="4.2" font-weight="bold" fill="#46518a" >1.</text>
<text x="305.00" y="122.00" font-size="4.2" font-weight="bold" fill="#94b888" >2.</text>
<text x="305.00" y="139.50" font-size="4.2" font-weight="bold" fill="#d6bf72" >3.</text>
<text x="305.00" y="152.00" font-size="4.2" font-weight="bold" fill="#98384c" >4.</text>
<text x="454.25" y="105.70" font-size="6.5" font-weight="bold" text-anchor="middle" fill="#111" textLength="38.20" lengthAdjust="spacingAndGlyphs" class="t">GCB-DLBCL</text>
<text x="391.20" y="143.12" font-size="6.1" text-anchor="middle" textLength="74.50" lengthAdjust="spacingAndGlyphs" transform="rotate(-90 391.20 143.12)" class="k3">Progression-free survival (%)</text>
<line x1="405.50" y1="110.25" x2="405.50" y2="176.10" stroke="#1a1a1a" stroke-width="1.3" />
<line x1="404.90" y1="175.50" x2="503.00" y2="175.50" stroke="#1a1a1a" stroke-width="1.3" />
<line x1="403.80" y1="169.32" x2="405.50" y2="169.32" stroke="#1a1a1a" stroke-width="0.95" />
<line x1="403.80" y1="156.97" x2="405.50" y2="156.97" stroke="#1a1a1a" stroke-width="0.95" />
<line x1="403.80" y1="144.62" x2="405.50" y2="144.62" stroke="#1a1a1a" stroke-width="0.95" />
<line x1="403.80" y1="132.28" x2="405.50" y2="132.28" stroke="#1a1a1a" stroke-width="0.95" />
<line x1="403.80" y1="119.92" x2="405.50" y2="119.92" stroke="#1a1a1a" stroke-width="0.95" />
<line x1="402.50" y1="175.50" x2="405.50" y2="175.50" stroke="#1a1a1a" stroke-width="1.15" />
<text x="400.90" y="176.95" font-size="4.1" text-anchor="end" class="k2">0</text>
<line x1="402.50" y1="163.15" x2="405.50" y2="163.15" stroke="#1a1a1a" stroke-width="1.15" />
<text x="400.90" y="164.60" font-size="4.1" text-anchor="end" class="k2">20</text>
<line x1="402.50" y1="150.80" x2="405.50" y2="150.80" stroke="#1a1a1a" stroke-width="1.15" />
<text x="400.90" y="152.25" font-size="4.1" text-anchor="end" class="k2">40</text>
<line x1="402.50" y1="138.45" x2="405.50" y2="138.45" stroke="#1a1a1a" stroke-width="1.15" />
<text x="400.90" y="139.90" font-size="4.1" text-anchor="end" class="k2">60</text>
<line x1="402.50" y1="126.10" x2="405.50" y2="126.10" stroke="#1a1a1a" stroke-width="1.15" />
<text x="400.90" y="127.55" font-size="4.1" text-anchor="end" class="k2">80</text>
<line x1="402.50" y1="113.75" x2="405.50" y2="113.75" stroke="#1a1a1a" stroke-width="1.15" />
<text x="400.90" y="115.20" font-size="4.1" text-anchor="end" class="k2">100</text>
<line x1="405.50" y1="175.50" x2="405.50" y2="177.90" stroke="#1a1a1a" stroke-width="1.1" />
<text x="405.50" y="182.80" font-size="4.1" text-anchor="middle" class="k2">0</text>
<line x1="414.95" y1="175.50" x2="414.95" y2="177.90" stroke="#1a1a1a" stroke-width="1.1" />
<text x="414.95" y="182.80" font-size="4.1" text-anchor="middle" class="k2">20</text>
<line x1="424.40" y1="175.50" x2="424.40" y2="177.90" stroke="#1a1a1a" stroke-width="1.1" />
<text x="424.40" y="182.80" font-size="4.1" text-anchor="middle" class="k2">40</text>
<line x1="433.85" y1="175.50" x2="433.85" y2="177.90" stroke="#1a1a1a" stroke-width="1.1" />
<text x="433.85" y="182.80" font-size="4.1" text-anchor="middle" class="k2">60</text>
<line x1="443.30" y1="175.50" x2="443.30" y2="177.90" stroke="#1a1a1a" stroke-width="1.1" />
<text x="443.30" y="182.80" font-size="4.1" text-anchor="middle" class="k2">80</text>
<line x1="452.75" y1="175.50" x2="452.75" y2="177.90" stroke="#1a1a1a" stroke-width="1.1" />
<text x="452.75" y="182.80" font-size="4.1" text-anchor="middle" class="k2">100</text>
<line x1="462.20" y1="175.50" x2="462.20" y2="177.90" stroke="#1a1a1a" stroke-width="1.1" />
<text x="462.20" y="182.80" font-size="4.1" text-anchor="middle" class="k2">120</text>
<line x1="471.65" y1="175.50" x2="471.65" y2="177.90" stroke="#1a1a1a" stroke-width="1.1" />
<text x="471.65" y="182.80" font-size="4.1" text-anchor="middle" class="k2">140</text>
<line x1="481.10" y1="175.50" x2="481.10" y2="177.90" stroke="#1a1a1a" stroke-width="1.1" />
<text x="481.10" y="182.80" font-size="4.1" text-anchor="middle" class="k2">160</text>
<line x1="490.55" y1="175.50" x2="490.55" y2="177.90" stroke="#1a1a1a" stroke-width="1.1" />
<text x="490.55" y="182.80" font-size="4.1" text-anchor="middle" class="k2">180</text>
<line x1="500.00" y1="175.50" x2="500.00" y2="177.90" stroke="#1a1a1a" stroke-width="1.1" />
<text x="500.00" y="182.80" font-size="4.1" text-anchor="middle" class="k2">200</text>
<polyline points="405.50,113.75 447.50,113.75" fill="none" stroke="#94b888" stroke-width="1.1" stroke-linejoin="round" />
<polyline points="405.50,113.75 408.75,113.75 408.75,116.25 410.62,116.25 410.62,117.50 412.50,117.50 412.50,118.75 414.38,118.75 414.38,120.00 416.25,120.00 416.25,121.25 441.25,121.25 441.25,125.00 443.75,125.00 443.75,125.75 482.50,125.75" fill="none" stroke="#46518a" stroke-width="1.1" stroke-linejoin="round" />
<polyline points="405.50,113.75 407.50,121.25 411.25,128.75 415.00,132.50 421.25,135.00 430.00,137.50 438.75,141.25 441.25,146.25 471.25,146.25" fill="none" stroke="#d6bf72" stroke-width="1.15" stroke-dasharray="1.5 1.1" stroke-linejoin="round" />
<polyline points="405.50,113.75 406.25,125.00 408.75,136.25 411.25,140.50 415.00,143.00 422.50,146.25 425.00,149.50 441.25,149.50 443.75,152.50 447.50,155.00 450.00,160.00 458.75,160.00" fill="none" stroke="#98384c" stroke-width="1.15" stroke-dasharray="1.5 1.1" stroke-linejoin="round" />
<text x="450.60" y="115.25" font-size="4.4" font-weight="bold" fill="#46518a" >1.</text>
<line x1="455.40" y1="113.75" x2="461.20" y2="113.75" stroke="#46518a" stroke-width="0.9" />
<circle cx="458.30" cy="113.75" r="0.8" fill="#46518a"/>
<text class="k" x="463.00" y="115.35" font-size="4.6" fill="#1a1a1a">CD37<tspan font-size="3.6" dy="-1.9">+</tspan><tspan dy="1.9"> </tspan>p-STAT3<tspan font-size="3.6" dy="-1.9">−</tspan><tspan dy="1.9"> </tspan>(n=60)</text>
<text x="450.60" y="120.25" font-size="4.4" font-weight="bold" fill="#94b888" >2.</text>
<line x1="455.40" y1="118.75" x2="461.20" y2="118.75" stroke="#94b888" stroke-width="0.9" />
<circle cx="458.30" cy="118.75" r="0.8" fill="#94b888"/>
<text class="k" x="463.00" y="120.35" font-size="4.6" fill="#1a1a1a">CD37<tspan font-size="3.6" dy="-1.9">+</tspan><tspan dy="1.9"> </tspan>p-STAT3<tspan font-size="3.6" dy="-1.9">+</tspan><tspan dy="1.9"> </tspan>(n=3)</text>
<text x="450.60" y="132.75" font-size="4.4" font-weight="bold" fill="#d6bf72" >3.</text>
<line x1="455.40" y1="131.25" x2="461.20" y2="131.25" stroke="#d6bf72" stroke-width="0.9" stroke-dasharray="1.4 0.8"/>
<circle cx="458.30" cy="131.25" r="0.8" fill="#d6bf72"/>
<text class="k" x="463.00" y="132.85" font-size="4.6" fill="#1a1a1a">CD37<tspan font-size="3.6" dy="-1.9">−</tspan><tspan dy="1.9"> </tspan>p-STAT3<tspan font-size="3.6" dy="-1.9">−</tspan><tspan dy="1.9"> </tspan>(n=124)</text>
<text x="450.60" y="137.75" font-size="4.4" font-weight="bold" fill="#98384c" >4.</text>
<line x1="455.40" y1="136.25" x2="461.20" y2="136.25" stroke="#98384c" stroke-width="0.9" stroke-dasharray="1.4 0.8"/>
<circle cx="458.30" cy="136.25" r="0.8" fill="#98384c"/>
<text class="k" x="463.00" y="137.85" font-size="4.6" fill="#1a1a1a">CD37<tspan font-size="3.6" dy="-1.9">−</tspan><tspan dy="1.9"> </tspan>p-STAT3<tspan font-size="3.6" dy="-1.9">+</tspan><tspan dy="1.9"> </tspan>(n=21)</text>
<text x="408.50" y="166.30" font-size="4.3" font-weight="bold" fill="#1a1a1a" textLength="64.00" lengthAdjust="spacingAndGlyphs" class="k3">1 vs. 2: <tspan font-style="italic">P</tspan>= .0001; 3 vs. 4: <tspan font-style="italic">P</tspan>= .12;</text>
<text x="408.50" y="171.60" font-size="4.3" fill="#1a1a1a" textLength="55.00" lengthAdjust="spacingAndGlyphs" class="k">1 vs. 3: <tspan font-style="italic">P</tspan>= .40; 2 vs. 4: <tspan font-style="italic">P</tspan>= .063</text>
<text x="444.50" y="124.00" font-size="4.2" font-weight="bold" fill="#46518a" >1.</text>
<text x="447.00" y="146.00" font-size="4.2" font-weight="bold" fill="#d6bf72" >3.</text>
<text x="447.00" y="153.00" font-size="4.2" font-weight="bold" fill="#98384c" >4.</text>
<text x="75.40" y="212.40" font-size="6.5" font-weight="bold" text-anchor="middle" fill="#111" textLength="38.20" lengthAdjust="spacingAndGlyphs" class="t">GCB-DLBCL</text>
<text x="12.00" y="249.20" font-size="6.1" text-anchor="middle" textLength="74.50" lengthAdjust="spacingAndGlyphs" transform="rotate(-90 12.00 249.20)" class="k3">Progression-free survival (%)</text>
<line x1="26.30" y1="217.00" x2="26.30" y2="281.50" stroke="#1a1a1a" stroke-width="1.3" />
<line x1="25.70" y1="280.90" x2="124.50" y2="280.90" stroke="#1a1a1a" stroke-width="1.3" />
<line x1="24.60" y1="274.86" x2="26.30" y2="274.86" stroke="#1a1a1a" stroke-width="0.95" />
<line x1="24.60" y1="262.78" x2="26.30" y2="262.78" stroke="#1a1a1a" stroke-width="0.95" />
<line x1="24.60" y1="250.70" x2="26.30" y2="250.70" stroke="#1a1a1a" stroke-width="0.95" />
<line x1="24.60" y1="238.62" x2="26.30" y2="238.62" stroke="#1a1a1a" stroke-width="0.95" />
<line x1="24.60" y1="226.54" x2="26.30" y2="226.54" stroke="#1a1a1a" stroke-width="0.95" />
<line x1="23.30" y1="280.90" x2="26.30" y2="280.90" stroke="#1a1a1a" stroke-width="1.15" />
<text x="21.70" y="282.35" font-size="4.1" text-anchor="end" class="k2">0</text>
<line x1="23.30" y1="268.82" x2="26.30" y2="268.82" stroke="#1a1a1a" stroke-width="1.15" />
<text x="21.70" y="270.27" font-size="4.1" text-anchor="end" class="k2">20</text>
<line x1="23.30" y1="256.74" x2="26.30" y2="256.74" stroke="#1a1a1a" stroke-width="1.15" />
<text x="21.70" y="258.19" font-size="4.1" text-anchor="end" class="k2">40</text>
<line x1="23.30" y1="244.66" x2="26.30" y2="244.66" stroke="#1a1a1a" stroke-width="1.15" />
<text x="21.70" y="246.11" font-size="4.1" text-anchor="end" class="k2">60</text>
<line x1="23.30" y1="232.58" x2="26.30" y2="232.58" stroke="#1a1a1a" stroke-width="1.15" />
<text x="21.70" y="234.03" font-size="4.1" text-anchor="end" class="k2">80</text>
<line x1="23.30" y1="220.50" x2="26.30" y2="220.50" stroke="#1a1a1a" stroke-width="1.15" />
<text x="21.70" y="221.95" font-size="4.1" text-anchor="end" class="k2">100</text>
<line x1="26.30" y1="280.90" x2="26.30" y2="283.30" stroke="#1a1a1a" stroke-width="1.1" />
<text x="26.30" y="288.20" font-size="4.1" text-anchor="middle" class="k2">0</text>
<line x1="35.82" y1="280.90" x2="35.82" y2="283.30" stroke="#1a1a1a" stroke-width="1.1" />
<text x="35.82" y="288.20" font-size="4.1" text-anchor="middle" class="k2">20</text>
<line x1="45.34" y1="280.90" x2="45.34" y2="283.30" stroke="#1a1a1a" stroke-width="1.1" />
<text x="45.34" y="288.20" font-size="4.1" text-anchor="middle" class="k2">40</text>
<line x1="54.86" y1="280.90" x2="54.86" y2="283.30" stroke="#1a1a1a" stroke-width="1.1" />
<text x="54.86" y="288.20" font-size="4.1" text-anchor="middle" class="k2">60</text>
<line x1="64.38" y1="280.90" x2="64.38" y2="283.30" stroke="#1a1a1a" stroke-width="1.1" />
<text x="64.38" y="288.20" font-size="4.1" text-anchor="middle" class="k2">80</text>
<line x1="73.90" y1="280.90" x2="73.90" y2="283.30" stroke="#1a1a1a" stroke-width="1.1" />
<text x="73.90" y="288.20" font-size="4.1" text-anchor="middle" class="k2">100</text>
<line x1="83.42" y1="280.90" x2="83.42" y2="283.30" stroke="#1a1a1a" stroke-width="1.1" />
<text x="83.42" y="288.20" font-size="4.1" text-anchor="middle" class="k2">120</text>
<line x1="92.94" y1="280.90" x2="92.94" y2="283.30" stroke="#1a1a1a" stroke-width="1.1" />
<text x="92.94" y="288.20" font-size="4.1" text-anchor="middle" class="k2">140</text>
<line x1="102.46" y1="280.90" x2="102.46" y2="283.30" stroke="#1a1a1a" stroke-width="1.1" />
<text x="102.46" y="288.20" font-size="4.1" text-anchor="middle" class="k2">160</text>
<line x1="111.98" y1="280.90" x2="111.98" y2="283.30" stroke="#1a1a1a" stroke-width="1.1" />
<text x="111.98" y="288.20" font-size="4.1" text-anchor="middle" class="k2">180</text>
<line x1="121.50" y1="280.90" x2="121.50" y2="283.30" stroke="#1a1a1a" stroke-width="1.1" />
<text x="121.50" y="288.20" font-size="4.1" text-anchor="middle" class="k2">200</text>
<text x="75.40" y="297.00" font-size="7.0" text-anchor="middle" textLength="19.20" lengthAdjust="spacingAndGlyphs" class="k3">Months</text>
<polyline points="26.30,220.50 27.50,220.50 27.50,221.25 29.67,221.25 29.67,222.00 31.83,222.00 31.83,222.75 34.00,222.75 34.00,223.50 56.00,223.50 57.00,223.50 57.00,226.50 58.50,226.50 58.50,228.75 60.00,228.75 60.00,231.00 77.00,231.00" fill="none" stroke="#94b888" stroke-width="1.1" stroke-linejoin="round" />
<polyline points="26.30,220.50 33.50,220.50 35.00,220.50 35.00,223.75 36.25,223.75 36.25,226.18 37.50,226.18 37.50,228.60 55.50,228.60 55.50,232.50 77.00,232.50" fill="none" stroke="#46518a" stroke-width="1.1" stroke-linejoin="round" />
<polyline points="26.30,220.50 28.75,227.50 31.25,233.75 35.00,238.75 40.00,242.50 50.00,248.75 56.25,252.00 61.25,255.00 68.75,256.75 76.25,260.00 80.00,260.00" fill="none" stroke="#d6bf72" stroke-width="1.15" stroke-dasharray="1.5 1.1" stroke-linejoin="round" />
<polyline points="26.30,220.50 27.50,226.25 31.25,235.00 35.00,240.00 42.50,245.00 50.00,246.25 57.50,248.75 60.00,252.50 65.00,256.25 92.50,256.25" fill="none" stroke="#98384c" stroke-width="1.15" stroke-dasharray="1.5 1.1" stroke-linejoin="round" />
<text x="67.00" y="225.30" font-size="4.4" font-weight="bold" fill="#46518a" >1.</text>
<line x1="71.80" y1="223.80" x2="77.60" y2="223.80" stroke="#46518a" stroke-width="0.9" />
<circle cx="74.70" cy="223.80" r="0.8" fill="#46518a"/>
<text class="k" x="79.40" y="225.40" font-size="4.6" fill="#1a1a1a">CD37<tspan font-size="3.6" dy="-1.9">+</tspan><tspan dy="1.9"> </tspan>GCET1<tspan font-size="3.6" dy="-1.9">−</tspan><tspan dy="1.9"> </tspan>(n=31)</text>
<text x="67.00" y="230.80" font-size="4.4" font-weight="bold" fill="#94b888" >2.</text>
<line x1="71.80" y1="229.30" x2="77.60" y2="229.30" stroke="#94b888" stroke-width="0.9" />
<circle cx="74.70" cy="229.30" r="0.8" fill="#94b888"/>
<text class="k" x="79.40" y="230.90" font-size="4.6" fill="#1a1a1a">CD37<tspan font-size="3.6" dy="-1.9">+</tspan><tspan dy="1.9"> </tspan>GCET1<tspan font-size="3.6" dy="-1.9">+</tspan><tspan dy="1.9"> </tspan>(n=55)</text>
<text x="67.00" y="240.90" font-size="4.4" font-weight="bold" fill="#d6bf72" >3.</text>
<line x1="71.80" y1="239.40" x2="77.60" y2="239.40" stroke="#d6bf72" stroke-width="0.9" stroke-dasharray="1.4 0.8"/>
<circle cx="74.70" cy="239.40" r="0.8" fill="#d6bf72"/>
<text class="k" x="79.40" y="241.00" font-size="4.6" fill="#1a1a1a">CD37<tspan font-size="3.6" dy="-1.9">−</tspan><tspan dy="1.9"> </tspan>GCET1<tspan font-size="3.6" dy="-1.9">−</tspan><tspan dy="1.9"> </tspan>(n=96)</text>
<text x="67.00" y="247.10" font-size="4.4" font-weight="bold" fill="#98384c" >4.</text>
<line x1="71.80" y1="245.60" x2="77.60" y2="245.60" stroke="#98384c" stroke-width="0.9" stroke-dasharray="1.4 0.8"/>
<circle cx="74.70" cy="245.60" r="0.8" fill="#98384c"/>
<text class="k" x="79.40" y="247.20" font-size="4.6" fill="#1a1a1a">CD37<tspan font-size="3.6" dy="-1.9">−</tspan><tspan dy="1.9"> </tspan>GCET1<tspan font-size="3.6" dy="-1.9">+</tspan><tspan dy="1.9"> </tspan>(n=82)</text>
<text x="29.50" y="271.90" font-size="4.3" font-weight="bold" fill="#1a1a1a" textLength="70.00" lengthAdjust="spacingAndGlyphs" class="k3">1 vs. 2: <tspan font-style="italic">P</tspan>= .0006; 3 vs. 4: <tspan font-style="italic">P</tspan>= .0001;</text>
<text x="29.50" y="277.10" font-size="4.3" fill="#1a1a1a" textLength="55.00" lengthAdjust="spacingAndGlyphs" class="k">1 vs. 3: <tspan font-style="italic">P</tspan>= .57; 2 vs. 4: <tspan font-style="italic">P</tspan>= .06</text>
<text x="57.00" y="224.00" font-size="4.2" font-weight="bold" fill="#94b888" >2</text>
<text x="57.00" y="231.00" font-size="4.2" font-weight="bold" fill="#46518a" >1</text>
<text x="58.00" y="251.00" font-size="4.2" font-weight="bold" fill="#98384c" >4</text>
<text x="57.00" y="262.00" font-size="4.2" font-weight="bold" fill="#d6bf72" >3</text>
<text x="201.15" y="212.40" font-size="6.5" font-weight="bold" text-anchor="middle" fill="#111" textLength="38.20" lengthAdjust="spacingAndGlyphs" class="t">GCB-DLBCL</text>
<text x="138.20" y="249.57" font-size="6.1" text-anchor="middle" textLength="74.50" lengthAdjust="spacingAndGlyphs" transform="rotate(-90 138.20 249.57)" class="k3">Progression-free survival (%)</text>
<line x1="152.50" y1="217.75" x2="152.50" y2="281.50" stroke="#1a1a1a" stroke-width="1.3" />
<line x1="151.90" y1="280.90" x2="249.80" y2="280.90" stroke="#1a1a1a" stroke-width="1.3" />
<line x1="150.80" y1="274.94" x2="152.50" y2="274.94" stroke="#1a1a1a" stroke-width="0.95" />
<line x1="150.80" y1="263.00" x2="152.50" y2="263.00" stroke="#1a1a1a" stroke-width="0.95" />
<line x1="150.80" y1="251.07" x2="152.50" y2="251.07" stroke="#1a1a1a" stroke-width="0.95" />
<line x1="150.80" y1="239.14" x2="152.50" y2="239.14" stroke="#1a1a1a" stroke-width="0.95" />
<line x1="150.80" y1="227.22" x2="152.50" y2="227.22" stroke="#1a1a1a" stroke-width="0.95" />
<line x1="149.50" y1="280.90" x2="152.50" y2="280.90" stroke="#1a1a1a" stroke-width="1.15" />
<text x="147.90" y="282.35" font-size="4.1" text-anchor="end" class="k2">0</text>
<line x1="149.50" y1="268.97" x2="152.50" y2="268.97" stroke="#1a1a1a" stroke-width="1.15" />
<text x="147.90" y="270.42" font-size="4.1" text-anchor="end" class="k2">20</text>
<line x1="149.50" y1="257.04" x2="152.50" y2="257.04" stroke="#1a1a1a" stroke-width="1.15" />
<text x="147.90" y="258.49" font-size="4.1" text-anchor="end" class="k2">40</text>
<line x1="149.50" y1="245.11" x2="152.50" y2="245.11" stroke="#1a1a1a" stroke-width="1.15" />
<text x="147.90" y="246.56" font-size="4.1" text-anchor="end" class="k2">60</text>
<line x1="149.50" y1="233.18" x2="152.50" y2="233.18" stroke="#1a1a1a" stroke-width="1.15" />
<text x="147.90" y="234.63" font-size="4.1" text-anchor="end" class="k2">80</text>
<line x1="149.50" y1="221.25" x2="152.50" y2="221.25" stroke="#1a1a1a" stroke-width="1.15" />
<text x="147.90" y="222.70" font-size="4.1" text-anchor="end" class="k2">100</text>
<line x1="152.50" y1="280.90" x2="152.50" y2="283.30" stroke="#1a1a1a" stroke-width="1.1" />
<text x="152.50" y="288.20" font-size="4.1" text-anchor="middle" class="k2">0</text>
<line x1="161.93" y1="280.90" x2="161.93" y2="283.30" stroke="#1a1a1a" stroke-width="1.1" />
<text x="161.93" y="288.20" font-size="4.1" text-anchor="middle" class="k2">20</text>
<line x1="171.36" y1="280.90" x2="171.36" y2="283.30" stroke="#1a1a1a" stroke-width="1.1" />
<text x="171.36" y="288.20" font-size="4.1" text-anchor="middle" class="k2">40</text>
<line x1="180.79" y1="280.90" x2="180.79" y2="283.30" stroke="#1a1a1a" stroke-width="1.1" />
<text x="180.79" y="288.20" font-size="4.1" text-anchor="middle" class="k2">60</text>
<line x1="190.22" y1="280.90" x2="190.22" y2="283.30" stroke="#1a1a1a" stroke-width="1.1" />
<text x="190.22" y="288.20" font-size="4.1" text-anchor="middle" class="k2">80</text>
<line x1="199.65" y1="280.90" x2="199.65" y2="283.30" stroke="#1a1a1a" stroke-width="1.1" />
<text x="199.65" y="288.20" font-size="4.1" text-anchor="middle" class="k2">100</text>
<line x1="209.08" y1="280.90" x2="209.08" y2="283.30" stroke="#1a1a1a" stroke-width="1.1" />
<text x="209.08" y="288.20" font-size="4.1" text-anchor="middle" class="k2">120</text>
<line x1="218.51" y1="280.90" x2="218.51" y2="283.30" stroke="#1a1a1a" stroke-width="1.1" />
<text x="218.51" y="288.20" font-size="4.1" text-anchor="middle" class="k2">140</text>
<line x1="227.94" y1="280.90" x2="227.94" y2="283.30" stroke="#1a1a1a" stroke-width="1.1" />
<text x="227.94" y="288.20" font-size="4.1" text-anchor="middle" class="k2">160</text>
<line x1="237.37" y1="280.90" x2="237.37" y2="283.30" stroke="#1a1a1a" stroke-width="1.1" />
<text x="237.37" y="288.20" font-size="4.1" text-anchor="middle" class="k2">180</text>
<line x1="246.80" y1="280.90" x2="246.80" y2="283.30" stroke="#1a1a1a" stroke-width="1.1" />
<text x="246.80" y="288.20" font-size="4.1" text-anchor="middle" class="k2">200</text>
<text x="201.40" y="297.00" font-size="7.0" text-anchor="middle" textLength="19.20" lengthAdjust="spacingAndGlyphs" class="k3">Months</text>
<polyline points="152.50,221.25 155.00,221.25 155.00,222.00 156.88,222.00 156.88,222.88 158.75,222.88 158.75,223.75 160.62,223.75 160.62,224.38 162.50,224.38 162.50,225.00 165.00,225.00 165.00,226.25 181.25,226.25 181.25,228.75 182.50,228.75 182.50,230.00 202.50,230.00" fill="none" stroke="#46518a" stroke-width="1.1" stroke-linejoin="round" />
<polyline points="152.50,221.25 153.75,221.25 153.75,236.25 190.00,236.25 190.00,258.75 194.50,258.75" fill="none" stroke="#94b888" stroke-width="1.1" stroke-linejoin="round" />
<polyline points="152.50,221.25 153.75,228.75 155.00,233.75 158.75,237.50 163.75,240.00 171.25,242.00 177.50,244.50 183.75,246.25 188.75,247.00 192.50,249.50 197.50,251.25 201.25,257.50 205.00,257.50" fill="none" stroke="#d6bf72" stroke-width="1.15" stroke-dasharray="1.5 1.1" stroke-linejoin="round" />
<polyline points="152.50,221.25 155.00,242.50 157.50,251.25 159.50,257.50 170.00,257.50 170.00,261.25 173.75,261.25 173.75,266.25 198.75,266.25" fill="none" stroke="#98384c" stroke-width="1.15" stroke-dasharray="1.5 1.1" stroke-linejoin="round" />
<text x="194.50" y="225.80" font-size="4.4" font-weight="bold" fill="#46518a" >1.</text>
<line x1="199.30" y1="224.30" x2="205.10" y2="224.30" stroke="#46518a" stroke-width="0.9" />
<circle cx="202.20" cy="224.30" r="0.8" fill="#46518a"/>
<text class="k" x="206.90" y="225.90" font-size="4.6" fill="#1a1a1a">MYC R<tspan font-size="3.6" dy="-1.9">−</tspan><tspan dy="1.9"> </tspan>CD37<tspan font-size="3.6" dy="-1.9">+</tspan><tspan dy="1.9"> </tspan>(n=47)</text>
<text x="194.50" y="235.50" font-size="4.4" font-weight="bold" fill="#94b888" >2.</text>
<line x1="199.30" y1="234.00" x2="205.10" y2="234.00" stroke="#94b888" stroke-width="0.9" />
<circle cx="202.20" cy="234.00" r="0.8" fill="#94b888"/>
<text class="k" x="206.90" y="235.60" font-size="4.6" fill="#1a1a1a">MYC R<tspan font-size="3.6" dy="-1.9">+</tspan><tspan dy="1.9"> </tspan>CD37<tspan font-size="3.6" dy="-1.9">+</tspan><tspan dy="1.9"> </tspan>(n=4)</text>
<text x="194.50" y="241.40" font-size="4.4" font-weight="bold" fill="#d6bf72" >3.</text>
<line x1="199.30" y1="239.90" x2="205.10" y2="239.90" stroke="#d6bf72" stroke-width="0.9" stroke-dasharray="1.4 0.8"/>
<circle cx="202.20" cy="239.90" r="0.8" fill="#d6bf72"/>
<text class="k" x="206.90" y="241.50" font-size="4.6" fill="#1a1a1a">MYC R<tspan font-size="3.6" dy="-1.9">−</tspan><tspan dy="1.9"> </tspan>CD37<tspan font-size="3.6" dy="-1.9">−</tspan><tspan dy="1.9"> </tspan>(n=86)</text>
<text x="194.50" y="246.50" font-size="4.4" font-weight="bold" fill="#98384c" >4.</text>
<line x1="199.30" y1="245.00" x2="205.10" y2="245.00" stroke="#98384c" stroke-width="0.9" stroke-dasharray="1.4 0.8"/>
<circle cx="202.20" cy="245.00" r="0.8" fill="#98384c"/>
<text class="k" x="206.90" y="246.60" font-size="4.6" fill="#1a1a1a">MYC R<tspan font-size="3.6" dy="-1.9">+</tspan><tspan dy="1.9"> </tspan>CD37<tspan font-size="3.6" dy="-1.9">−</tspan><tspan dy="1.9"> </tspan>(n=20)</text>
<text x="155.00" y="271.90" font-size="4.3" font-weight="bold" fill="#1a1a1a" textLength="65.00" lengthAdjust="spacingAndGlyphs" class="k3">1 vs. 2: <tspan font-style="italic">P</tspan>= .0003; 3 vs. 4: <tspan font-style="italic">P</tspan>= .30;</text>
<text x="155.00" y="277.10" font-size="4.3" fill="#1a1a1a" textLength="63.00" lengthAdjust="spacingAndGlyphs" class="k">1 vs. 3: <tspan font-style="italic">P</tspan>= .040; 2 vs. 4: <tspan font-style="italic">P</tspan>= .0035</text>
<text x="180.00" y="225.00" font-size="4.2" font-weight="bold" fill="#46518a" >1.</text>
<text x="182.00" y="238.00" font-size="4.2" font-weight="bold" fill="#94b888" >2</text>
<text x="183.00" y="245.00" font-size="4.2" font-weight="bold" fill="#d6bf72" >3.</text>
<text x="182.00" y="264.00" font-size="4.2" font-weight="bold" fill="#98384c" >4.</text>
<text x="330.65" y="212.00" font-size="6.5" font-weight="bold" text-anchor="middle" fill="#111" textLength="38.20" lengthAdjust="spacingAndGlyphs" class="t">GCB-DLBCL</text>
<text x="263.70" y="247.12" font-size="6.1" text-anchor="middle" textLength="74.50" lengthAdjust="spacingAndGlyphs" transform="rotate(-90 263.70 247.12)" class="k3">Progression-free survival (%)</text>
<line x1="278.00" y1="212.75" x2="278.00" y2="281.60" stroke="#1a1a1a" stroke-width="1.3" />
<line x1="277.40" y1="281.00" x2="383.30" y2="281.00" stroke="#1a1a1a" stroke-width="1.3" />
<line x1="276.30" y1="274.52" x2="278.00" y2="274.52" stroke="#1a1a1a" stroke-width="0.95" />
<line x1="276.30" y1="261.57" x2="278.00" y2="261.57" stroke="#1a1a1a" stroke-width="0.95" />
<line x1="276.30" y1="248.62" x2="278.00" y2="248.62" stroke="#1a1a1a" stroke-width="0.95" />
<line x1="276.30" y1="235.68" x2="278.00" y2="235.68" stroke="#1a1a1a" stroke-width="0.95" />
<line x1="276.30" y1="222.72" x2="278.00" y2="222.72" stroke="#1a1a1a" stroke-width="0.95" />
<line x1="275.00" y1="281.00" x2="278.00" y2="281.00" stroke="#1a1a1a" stroke-width="1.15" />
<text x="273.40" y="282.45" font-size="4.1" text-anchor="end" class="k2">0</text>
<line x1="275.00" y1="268.05" x2="278.00" y2="268.05" stroke="#1a1a1a" stroke-width="1.15" />
<text x="273.40" y="269.50" font-size="4.1" text-anchor="end" class="k2">20</text>
<line x1="275.00" y1="255.10" x2="278.00" y2="255.10" stroke="#1a1a1a" stroke-width="1.15" />
<text x="273.40" y="256.55" font-size="4.1" text-anchor="end" class="k2">40</text>
<line x1="275.00" y1="242.15" x2="278.00" y2="242.15" stroke="#1a1a1a" stroke-width="1.15" />
<text x="273.40" y="243.60" font-size="4.1" text-anchor="end" class="k2">60</text>
<line x1="275.00" y1="229.20" x2="278.00" y2="229.20" stroke="#1a1a1a" stroke-width="1.15" />
<text x="273.40" y="230.65" font-size="4.1" text-anchor="end" class="k2">80</text>
<line x1="275.00" y1="216.25" x2="278.00" y2="216.25" stroke="#1a1a1a" stroke-width="1.15" />
<text x="273.40" y="217.70" font-size="4.1" text-anchor="end" class="k2">100</text>
<line x1="278.00" y1="281.00" x2="278.00" y2="283.40" stroke="#1a1a1a" stroke-width="1.1" />
<text x="278.00" y="288.30" font-size="4.1" text-anchor="middle" class="k2">0</text>
<line x1="288.23" y1="281.00" x2="288.23" y2="283.40" stroke="#1a1a1a" stroke-width="1.1" />
<text x="288.23" y="288.30" font-size="4.1" text-anchor="middle" class="k2">20</text>
<line x1="298.46" y1="281.00" x2="298.46" y2="283.40" stroke="#1a1a1a" stroke-width="1.1" />
<text x="298.46" y="288.30" font-size="4.1" text-anchor="middle" class="k2">40</text>
<line x1="308.69" y1="281.00" x2="308.69" y2="283.40" stroke="#1a1a1a" stroke-width="1.1" />
<text x="308.69" y="288.30" font-size="4.1" text-anchor="middle" class="k2">60</text>
<line x1="318.92" y1="281.00" x2="318.92" y2="283.40" stroke="#1a1a1a" stroke-width="1.1" />
<text x="318.92" y="288.30" font-size="4.1" text-anchor="middle" class="k2">80</text>
<line x1="329.15" y1="281.00" x2="329.15" y2="283.40" stroke="#1a1a1a" stroke-width="1.1" />
<text x="329.15" y="288.30" font-size="4.1" text-anchor="middle" class="k2">100</text>
<line x1="339.38" y1="281.00" x2="339.38" y2="283.40" stroke="#1a1a1a" stroke-width="1.1" />
<text x="339.38" y="288.30" font-size="4.1" text-anchor="middle" class="k2">120</text>
<line x1="349.61" y1="281.00" x2="349.61" y2="283.40" stroke="#1a1a1a" stroke-width="1.1" />
<text x="349.61" y="288.30" font-size="4.1" text-anchor="middle" class="k2">140</text>
<line x1="359.84" y1="281.00" x2="359.84" y2="283.40" stroke="#1a1a1a" stroke-width="1.1" />
<text x="359.84" y="288.30" font-size="4.1" text-anchor="middle" class="k2">160</text>
<line x1="370.07" y1="281.00" x2="370.07" y2="283.40" stroke="#1a1a1a" stroke-width="1.1" />
<text x="370.07" y="288.30" font-size="4.1" text-anchor="middle" class="k2">180</text>
<line x1="380.30" y1="281.00" x2="380.30" y2="283.40" stroke="#1a1a1a" stroke-width="1.1" />
<text x="380.30" y="288.30" font-size="4.1" text-anchor="middle" class="k2">200</text>
<text x="330.20" y="296.80" font-size="7.0" text-anchor="middle" textLength="19.20" lengthAdjust="spacingAndGlyphs" class="k3">Months</text>
<polyline points="278.00,216.25 280.25,216.25 280.25,216.88 282.50,216.88 282.50,217.50 285.00,217.50 285.00,218.12 287.50,218.12 287.50,218.75 289.38,218.75 289.38,220.38 291.25,220.38 291.25,222.00 293.25,222.00 293.25,222.10 295.25,222.10 295.25,222.20 297.25,222.20 297.25,222.30 299.25,222.30 299.25,222.40 301.25,222.40 301.25,222.50 303.75,222.50 303.75,223.12 306.25,223.12 306.25,223.75 308.33,223.75 308.33,224.17 310.42,224.17 310.42,224.58 312.50,224.58 312.50,225.00 314.38,225.00 314.38,225.62 316.25,225.62 316.25,226.25 318.75,226.25 318.75,228.00 361.25,228.00" fill="none" stroke="#46518a" stroke-width="1.1" stroke-linejoin="round" />
<polyline points="278.00,216.25 281.25,221.25 285.00,223.75 287.50,228.75 291.25,231.25 295.00,235.00 298.75,237.00 305.00,238.00 312.50,238.00 313.75,245.00 332.50,245.00" fill="none" stroke="#d6bf72" stroke-width="1.15" stroke-dasharray="1.5 1.1" stroke-linejoin="round" />
<line x1="286.30" y1="253.60" x2="292.10" y2="253.60" stroke="#46518a" stroke-width="0.9" />
<circle cx="289.20" cy="253.60" r="0.8" fill="#46518a"/>
<text class="k" x="293.90" y="255.20" font-size="4.6" fill="#1a1a1a">CD37<tspan font-size="3.6" dy="-1.9">+</tspan><tspan dy="1.9"> </tspan>(n=90)</text>
<line x1="286.30" y1="260.90" x2="292.10" y2="260.90" stroke="#d6bf72" stroke-width="0.9" stroke-dasharray="1.4 0.8"/>
<circle cx="289.20" cy="260.90" r="0.8" fill="#d6bf72"/>
<text class="k" x="293.90" y="262.50" font-size="4.6" fill="#1a1a1a"><tspan font-style="italic">WT-TP53</tspan> p50<tspan font-size="3.6" dy="-1.9">−</tspan><tspan dy="1.9"> </tspan>Myc<tspan font-size="3.6" dy="-1.9">−</tspan><tspan dy="1.9"> </tspan>CD37<tspan font-size="3.6" dy="-1.9">−</tspan><tspan dy="1.9"> </tspan>(n=40)</text>
<text x="282.00" y="276.50" font-size="4.3" fill="#1a1a1a" textLength="79.50" lengthAdjust="spacingAndGlyphs" class="k">HR (95% CI): 3.37 (1.66-11.55), <tspan font-style="italic">P</tspan>= .0011</text>
<text x="456.25" y="212.30" font-size="6.5" font-weight="bold" text-anchor="middle" fill="#111" textLength="38.20" lengthAdjust="spacingAndGlyphs" class="t">GCB-DLBCL</text>
<text x="391.20" y="247.93" font-size="6.1" text-anchor="middle" textLength="74.50" lengthAdjust="spacingAndGlyphs" transform="rotate(-90 391.20 247.93)" class="k3">Progression-free survival (%)</text>
<line x1="405.50" y1="214.75" x2="405.50" y2="281.20" stroke="#1a1a1a" stroke-width="1.3" />
<line x1="404.90" y1="280.60" x2="507.00" y2="280.60" stroke="#1a1a1a" stroke-width="1.3" />
<line x1="403.80" y1="274.37" x2="405.50" y2="274.37" stroke="#1a1a1a" stroke-width="0.95" />
<line x1="403.80" y1="261.90" x2="405.50" y2="261.90" stroke="#1a1a1a" stroke-width="0.95" />
<line x1="403.80" y1="249.43" x2="405.50" y2="249.43" stroke="#1a1a1a" stroke-width="0.95" />
<line x1="403.80" y1="236.96" x2="405.50" y2="236.96" stroke="#1a1a1a" stroke-width="0.95" />
<line x1="403.80" y1="224.49" x2="405.50" y2="224.49" stroke="#1a1a1a" stroke-width="0.95" />
<line x1="402.50" y1="280.60" x2="405.50" y2="280.60" stroke="#1a1a1a" stroke-width="1.15" />
<text x="400.90" y="282.05" font-size="4.1" text-anchor="end" class="k2">0</text>
<line x1="402.50" y1="268.13" x2="405.50" y2="268.13" stroke="#1a1a1a" stroke-width="1.15" />
<text x="400.90" y="269.58" font-size="4.1" text-anchor="end" class="k2">20</text>
<line x1="402.50" y1="255.66" x2="405.50" y2="255.66" stroke="#1a1a1a" stroke-width="1.15" />
<text x="400.90" y="257.11" font-size="4.1" text-anchor="end" class="k2">40</text>
<line x1="402.50" y1="243.19" x2="405.50" y2="243.19" stroke="#1a1a1a" stroke-width="1.15" />
<text x="400.90" y="244.64" font-size="4.1" text-anchor="end" class="k2">60</text>
<line x1="402.50" y1="230.72" x2="405.50" y2="230.72" stroke="#1a1a1a" stroke-width="1.15" />
<text x="400.90" y="232.17" font-size="4.1" text-anchor="end" class="k2">80</text>
<line x1="402.50" y1="218.25" x2="405.50" y2="218.25" stroke="#1a1a1a" stroke-width="1.15" />
<text x="400.90" y="219.70" font-size="4.1" text-anchor="end" class="k2">100</text>
<line x1="405.50" y1="280.60" x2="405.50" y2="283.00" stroke="#1a1a1a" stroke-width="1.1" />
<text x="405.50" y="287.90" font-size="4.1" text-anchor="middle" class="k2">0</text>
<line x1="415.35" y1="280.60" x2="415.35" y2="283.00" stroke="#1a1a1a" stroke-width="1.1" />
<text x="415.35" y="287.90" font-size="4.1" text-anchor="middle" class="k2">20</text>
<line x1="425.20" y1="280.60" x2="425.20" y2="283.00" stroke="#1a1a1a" stroke-width="1.1" />
<text x="425.20" y="287.90" font-size="4.1" text-anchor="middle" class="k2">40</text>
<line x1="435.05" y1="280.60" x2="435.05" y2="283.00" stroke="#1a1a1a" stroke-width="1.1" />
<text x="435.05" y="287.90" font-size="4.1" text-anchor="middle" class="k2">60</text>
<line x1="444.90" y1="280.60" x2="444.90" y2="283.00" stroke="#1a1a1a" stroke-width="1.1" />
<text x="444.90" y="287.90" font-size="4.1" text-anchor="middle" class="k2">80</text>
<line x1="454.75" y1="280.60" x2="454.75" y2="283.00" stroke="#1a1a1a" stroke-width="1.1" />
<text x="454.75" y="287.90" font-size="4.1" text-anchor="middle" class="k2">100</text>
<line x1="464.60" y1="280.60" x2="464.60" y2="283.00" stroke="#1a1a1a" stroke-width="1.1" />
<text x="464.60" y="287.90" font-size="4.1" text-anchor="middle" class="k2">120</text>
<line x1="474.45" y1="280.60" x2="474.45" y2="283.00" stroke="#1a1a1a" stroke-width="1.1" />
<text x="474.45" y="287.90" font-size="4.1" text-anchor="middle" class="k2">140</text>
<line x1="484.30" y1="280.60" x2="484.30" y2="283.00" stroke="#1a1a1a" stroke-width="1.1" />
<text x="484.30" y="287.90" font-size="4.1" text-anchor="middle" class="k2">160</text>
<line x1="494.15" y1="280.60" x2="494.15" y2="283.00" stroke="#1a1a1a" stroke-width="1.1" />
<text x="494.15" y="287.90" font-size="4.1" text-anchor="middle" class="k2">180</text>
<line x1="504.00" y1="280.60" x2="504.00" y2="283.00" stroke="#1a1a1a" stroke-width="1.1" />
<text x="504.00" y="287.90" font-size="4.1" text-anchor="middle" class="k2">200</text>
<text x="455.80" y="296.80" font-size="7.0" text-anchor="middle" font-style="italic" textLength="19.20" lengthAdjust="spacingAndGlyphs" class="k3">Months</text>
<polyline points="405.50,218.25 407.00,218.25 407.00,220.50 408.50,220.50 408.50,222.75 410.00,222.75 410.00,225.00 461.25,225.00" fill="none" stroke="#94b888" stroke-width="1.1" stroke-linejoin="round" />
<polyline points="405.50,218.25 407.75,218.25 407.75,219.12 410.00,219.12 410.00,220.00 412.50,220.00 412.50,220.62 415.00,220.62 415.00,221.25 416.88,221.25 416.88,222.12 418.75,222.12 418.75,223.00 421.04,223.00 421.04,223.12 423.33,223.12 423.33,223.25 425.62,223.25 425.62,223.38 427.92,223.38 427.92,223.50 430.21,223.50 430.21,223.62 432.50,223.62 432.50,223.75 434.58,223.75 434.58,224.33 436.67,224.33 436.67,224.92 438.75,224.92 438.75,225.50 441.25,225.50 441.25,227.50 442.50,227.50 442.50,229.38 443.75,229.38 443.75,231.25 483.75,231.25" fill="none" stroke="#46518a" stroke-width="1.1" stroke-linejoin="round" />
<polyline points="405.50,218.25 408.75,226.25 412.50,231.25 417.50,235.00 425.00,238.75 432.50,242.00 438.75,243.75 445.00,245.00 447.50,247.50 451.25,252.50 480.00,252.50" fill="none" stroke="#d6bf72" stroke-width="1.15" stroke-dasharray="1.5 1.1" stroke-linejoin="round" />
<polyline points="405.50,218.25 408.75,228.75 411.25,238.75 413.75,245.00 417.50,250.00 422.50,255.00 428.75,258.75 432.50,261.25 438.75,265.00 445.00,265.00" fill="none" stroke="#98384c" stroke-width="1.15" stroke-dasharray="1.5 1.1" stroke-linejoin="round" />
<text x="454.60" y="223.30" font-size="4.4" font-weight="bold" fill="#94b888" >2.</text>
<line x1="459.40" y1="221.80" x2="465.20" y2="221.80" stroke="#94b888" stroke-width="0.9" />
<circle cx="462.30" cy="221.80" r="0.8" fill="#94b888"/>
<text class="k" x="467.00" y="223.40" font-size="4.6" fill="#1a1a1a">CD37<tspan font-size="3.6" dy="-1.9">+</tspan><tspan dy="1.9"> </tspan>IPI &gt; 2 (n=18)</text>
<text x="454.60" y="230.10" font-size="4.4" font-weight="bold" fill="#46518a" >1.</text>
<line x1="459.40" y1="228.60" x2="465.20" y2="228.60" stroke="#46518a" stroke-width="0.9" />
<circle cx="462.30" cy="228.60" r="0.8" fill="#46518a"/>
<text class="k" x="467.00" y="230.20" font-size="4.6" fill="#1a1a1a">CD37<tspan font-size="3.6" dy="-1.9">+</tspan><tspan dy="1.9"> </tspan>IPI ≤ 2 (n=64)</text>
<text x="454.60" y="237.70" font-size="4.4" font-weight="bold" fill="#d6bf72" >3.</text>
<line x1="459.40" y1="236.20" x2="465.20" y2="236.20" stroke="#d6bf72" stroke-width="0.9" stroke-dasharray="1.4 0.8"/>
<circle cx="462.30" cy="236.20" r="0.8" fill="#d6bf72"/>
<text class="k" x="467.00" y="237.80" font-size="4.6" fill="#1a1a1a">CD37<tspan font-size="3.6" dy="-1.9">−</tspan><tspan dy="1.9"> </tspan>IPI ≤ 2 (n=106)</text>
<text x="454.60" y="243.00" font-size="4.4" font-weight="bold" fill="#98384c" >4.</text>
<line x1="459.40" y1="241.50" x2="465.20" y2="241.50" stroke="#98384c" stroke-width="0.9" stroke-dasharray="1.4 0.8"/>
<circle cx="462.30" cy="241.50" r="0.8" fill="#98384c"/>
<text class="k" x="467.00" y="243.10" font-size="4.6" fill="#1a1a1a">CD37<tspan font-size="3.6" dy="-1.9">−</tspan><tspan dy="1.9"> </tspan>IPI &gt; 2 (n=53)</text>
<text x="407.00" y="271.90" font-size="4.3" font-weight="bold" fill="#1a1a1a" textLength="70.00" lengthAdjust="spacingAndGlyphs" class="k3">1 vs. 2: <tspan font-style="italic">P</tspan>= .0002; 3 vs. 4: <tspan font-style="italic">P</tspan>= .0001;</text>
<text x="407.00" y="277.10" font-size="4.3" fill="#1a1a1a" textLength="58.00" lengthAdjust="spacingAndGlyphs" class="k">1 vs. 3: <tspan font-style="italic">P</tspan>= .75; 2 vs. 4: <tspan font-style="italic">P</tspan>= .0001</text>
<text x="444.50" y="222.50" font-size="4.2" font-weight="bold" fill="#d6bf72" >1</text>
<text x="444.50" y="229.50" font-size="4.2" font-weight="bold" fill="#46518a" >1</text>
<text x="444.00" y="245.00" font-size="4.2" font-weight="bold" fill="#d6bf72" >3.</text>
<text x="445.00" y="267.50" font-size="4.2" font-weight="bold" fill="#98384c" >4.</text>
<text x="72.80" y="323.00" font-size="6.5" font-weight="bold" text-anchor="middle" fill="#111" textLength="38.20" lengthAdjust="spacingAndGlyphs" class="t">ABC-DLBCL</text>
<text x="12.00" y="361.00" font-size="6.1" text-anchor="middle" textLength="74.50" lengthAdjust="spacingAndGlyphs" transform="rotate(-90 12.00 361.00)" class="k3">Progression-free survival (%)</text>
<line x1="26.30" y1="326.50" x2="26.30" y2="395.60" stroke="#1a1a1a" stroke-width="1.3" />
<line x1="25.70" y1="395.00" x2="119.30" y2="395.00" stroke="#1a1a1a" stroke-width="1.3" />
<line x1="24.60" y1="388.50" x2="26.30" y2="388.50" stroke="#1a1a1a" stroke-width="0.95" />
<line x1="24.60" y1="375.50" x2="26.30" y2="375.50" stroke="#1a1a1a" stroke-width="0.95" />
<line x1="24.60" y1="362.50" x2="26.30" y2="362.50" stroke="#1a1a1a" stroke-width="0.95" />
<line x1="24.60" y1="349.50" x2="26.30" y2="349.50" stroke="#1a1a1a" stroke-width="0.95" />
<line x1="24.60" y1="336.50" x2="26.30" y2="336.50" stroke="#1a1a1a" stroke-width="0.95" />
<line x1="23.30" y1="395.00" x2="26.30" y2="395.00" stroke="#1a1a1a" stroke-width="1.15" />
<text x="21.70" y="396.45" font-size="4.1" text-anchor="end" class="k2">0</text>
<line x1="23.30" y1="382.00" x2="26.30" y2="382.00" stroke="#1a1a1a" stroke-width="1.15" />
<text x="21.70" y="383.45" font-size="4.1" text-anchor="end" class="k2">20</text>
<line x1="23.30" y1="369.00" x2="26.30" y2="369.00" stroke="#1a1a1a" stroke-width="1.15" />
<text x="21.70" y="370.45" font-size="4.1" text-anchor="end" class="k2">40</text>
<line x1="23.30" y1="356.00" x2="26.30" y2="356.00" stroke="#1a1a1a" stroke-width="1.15" />
<text x="21.70" y="357.45" font-size="4.1" text-anchor="end" class="k2">60</text>
<line x1="23.30" y1="343.00" x2="26.30" y2="343.00" stroke="#1a1a1a" stroke-width="1.15" />
<text x="21.70" y="344.45" font-size="4.1" text-anchor="end" class="k2">80</text>
<line x1="23.30" y1="330.00" x2="26.30" y2="330.00" stroke="#1a1a1a" stroke-width="1.15" />
<text x="21.70" y="331.45" font-size="4.1" text-anchor="end" class="k2">100</text>
<line x1="26.30" y1="395.00" x2="26.30" y2="397.40" stroke="#1a1a1a" stroke-width="1.1" />
<text x="26.30" y="402.30" font-size="4.1" text-anchor="middle" class="k2">0</text>
<line x1="36.30" y1="395.00" x2="36.30" y2="397.40" stroke="#1a1a1a" stroke-width="1.1" />
<text x="36.30" y="402.30" font-size="4.1" text-anchor="middle" class="k2">20</text>
<line x1="46.30" y1="395.00" x2="46.30" y2="397.40" stroke="#1a1a1a" stroke-width="1.1" />
<text x="46.30" y="402.30" font-size="4.1" text-anchor="middle" class="k2">40</text>
<line x1="56.30" y1="395.00" x2="56.30" y2="397.40" stroke="#1a1a1a" stroke-width="1.1" />
<text x="56.30" y="402.30" font-size="4.1" text-anchor="middle" class="k2">60</text>
<line x1="66.30" y1="395.00" x2="66.30" y2="397.40" stroke="#1a1a1a" stroke-width="1.1" />
<text x="66.30" y="402.30" font-size="4.1" text-anchor="middle" class="k2">80</text>
<line x1="76.30" y1="395.00" x2="76.30" y2="397.40" stroke="#1a1a1a" stroke-width="1.1" />
<text x="76.30" y="402.30" font-size="4.1" text-anchor="middle" class="k2">100</text>
<line x1="86.30" y1="395.00" x2="86.30" y2="397.40" stroke="#1a1a1a" stroke-width="1.1" />
<text x="86.30" y="402.30" font-size="4.1" text-anchor="middle" class="k2">120</text>
<line x1="96.30" y1="395.00" x2="96.30" y2="397.40" stroke="#1a1a1a" stroke-width="1.1" />
<text x="96.30" y="402.30" font-size="4.1" text-anchor="middle" class="k2">140</text>
<line x1="106.30" y1="395.00" x2="106.30" y2="397.40" stroke="#1a1a1a" stroke-width="1.1" />
<text x="106.30" y="402.30" font-size="4.1" text-anchor="middle" class="k2">160</text>
<line x1="116.30" y1="395.00" x2="116.30" y2="397.40" stroke="#1a1a1a" stroke-width="1.1" />
<text x="116.30" y="402.30" font-size="4.1" text-anchor="middle" class="k2">180</text>
<polyline points="26.30,330.00 27.12,330.00 27.12,332.50 27.93,332.50 27.93,335.00 28.75,335.00 28.75,337.50 30.00,337.50 30.00,339.58 31.25,339.58 31.25,341.67 32.50,341.67 32.50,343.75 34.58,343.75 34.58,345.83 36.67,345.83 36.67,347.92 38.75,347.92 38.75,350.00 40.83,350.00 40.83,350.83 42.92,350.83 42.92,351.67 45.00,351.67 45.00,352.50 51.25,352.50 51.25,357.50 53.75,357.50 53.75,360.00 77.50,360.00" fill="none" stroke="#94b888" stroke-width="1.1" stroke-linejoin="round" />
<polyline points="26.30,330.00 28.77,330.00 28.77,331.88 31.25,331.88 31.25,333.75 33.75,333.75 33.75,336.25 36.25,336.25 36.25,338.75 38.75,338.75 38.75,341.25 41.25,341.25 41.25,343.75 43.75,343.75 43.75,345.62 46.25,345.62 46.25,347.50 48.75,347.50 48.75,349.38 51.25,349.38 51.25,351.25 62.50,351.25 64.38,351.25 64.38,353.38 66.25,353.38 66.25,355.50 68.75,355.50 68.75,358.75 70.62,358.75 70.62,360.62 72.50,360.62 72.50,362.50 73.17,362.50 73.17,365.00 73.83,365.00 73.83,367.50 74.50,367.50 74.50,370.00 74.83,370.00 74.83,372.50 75.17,372.50 75.17,375.00 75.50,375.00 75.50,377.50 88.75,377.50" fill="none" stroke="#46518a" stroke-width="1.1" stroke-linejoin="round" />
<polyline points="26.30,330.00 28.00,340.00 31.25,346.25 37.50,352.50 43.75,357.00 50.00,361.25 56.25,367.50 62.50,371.25 68.75,375.00 73.75,376.25" fill="none" stroke="#d6bf72" stroke-width="1.15" stroke-dasharray="1.5 1.1" stroke-linejoin="round" />
<polyline points="26.30,330.00 28.00,343.75 31.25,350.00 35.00,355.00 40.00,358.75 46.25,363.75 52.50,368.75 58.75,373.75 63.75,376.25 72.50,376.25" fill="none" stroke="#98384c" stroke-width="1.15" stroke-dasharray="1.5 1.1" stroke-linejoin="round" />
<text x="75.00" y="336.40" font-size="4.4" font-weight="bold" fill="#46518a" >1.</text>
<line x1="79.80" y1="334.90" x2="85.60" y2="334.90" stroke="#46518a" stroke-width="0.9" />
<circle cx="82.70" cy="334.90" r="0.8" fill="#46518a"/>
<text class="k" x="87.40" y="336.50" font-size="4.6" fill="#1a1a1a">CD37<tspan font-size="3.6" dy="-1.9">+</tspan><tspan dy="1.9"> </tspan>p50<tspan font-size="3.6" dy="-1.9">−</tspan><tspan dy="1.9"> </tspan>(n=70)</text>
<text x="75.00" y="342.40" font-size="4.4" font-weight="bold" fill="#94b888" >2.</text>
<line x1="79.80" y1="340.90" x2="85.60" y2="340.90" stroke="#94b888" stroke-width="0.9" />
<circle cx="82.70" cy="340.90" r="0.8" fill="#94b888"/>
<text class="k" x="87.40" y="342.50" font-size="4.6" fill="#1a1a1a">CD37<tspan font-size="3.6" dy="-1.9">+</tspan><tspan dy="1.9"> </tspan>p50<tspan font-size="3.6" dy="-1.9">+</tspan><tspan dy="1.9"> </tspan>(n=35)</text>
<text x="75.00" y="351.10" font-size="4.4" font-weight="bold" fill="#d6bf72" >3.</text>
<line x1="79.80" y1="349.60" x2="85.60" y2="349.60" stroke="#d6bf72" stroke-width="0.9" stroke-dasharray="1.4 0.8"/>
<circle cx="82.70" cy="349.60" r="0.8" fill="#d6bf72"/>
<text class="k" x="87.40" y="351.20" font-size="4.6" fill="#1a1a1a">CD37<tspan font-size="3.6" dy="-1.9">−</tspan><tspan dy="1.9"> </tspan>p50<tspan font-size="3.6" dy="-1.9">−</tspan><tspan dy="1.9"> </tspan>(n=60)</text>
<text x="75.00" y="356.70" font-size="4.4" font-weight="bold" fill="#98384c" >4.</text>
<line x1="79.80" y1="355.20" x2="85.60" y2="355.20" stroke="#98384c" stroke-width="0.9" stroke-dasharray="1.4 0.8"/>
<circle cx="82.70" cy="355.20" r="0.8" fill="#98384c"/>
<text class="k" x="87.40" y="356.80" font-size="4.6" fill="#1a1a1a">CD37<tspan font-size="3.6" dy="-1.9">−</tspan><tspan dy="1.9"> </tspan>p50<tspan font-size="3.6" dy="-1.9">+</tspan><tspan dy="1.9"> </tspan>(n=57)</text>
<text x="29.50" y="385.00" font-size="4.3" font-weight="bold" fill="#1a1a1a" textLength="69.00" lengthAdjust="spacingAndGlyphs" class="k3">1 vs. 2: <tspan font-style="italic">P</tspan>= .0009; 3 vs. 4: <tspan font-style="italic">P</tspan>= .0548;</text>
<text x="29.50" y="390.30" font-size="4.3" fill="#1a1a1a" textLength="55.00" lengthAdjust="spacingAndGlyphs" class="k">1 vs. 3: <tspan font-style="italic">P</tspan>= .46; 2 vs. 4: <tspan font-style="italic">P</tspan>= .90</text>
<text x="58.00" y="349.00" font-size="4.2" font-weight="bold" fill="#46518a" >1.</text>
<text x="58.00" y="359.00" font-size="4.2" font-weight="bold" fill="#94b888" >2</text>
<text x="58.00" y="368.00" font-size="4.2" font-weight="bold" fill="#d6bf72" >3</text>
<text x="58.00" y="377.00" font-size="4.2" font-weight="bold" fill="#98384c" >4.</text>
<text x="200.85" y="323.00" font-size="6.5" font-weight="bold" text-anchor="middle" fill="#111" textLength="38.20" lengthAdjust="spacingAndGlyphs" class="t">ABC-DLBCL</text>
<text x="138.70" y="360.75" font-size="6.1" text-anchor="middle" textLength="74.50" lengthAdjust="spacingAndGlyphs" transform="rotate(-90 138.70 360.75)" class="k3">Progression-free survival (%)</text>
<line x1="153.00" y1="326.00" x2="153.00" y2="395.60" stroke="#1a1a1a" stroke-width="1.3" />
<line x1="152.40" y1="395.00" x2="248.70" y2="395.00" stroke="#1a1a1a" stroke-width="1.3" />
<line x1="151.30" y1="388.45" x2="153.00" y2="388.45" stroke="#1a1a1a" stroke-width="0.95" />
<line x1="151.30" y1="375.35" x2="153.00" y2="375.35" stroke="#1a1a1a" stroke-width="0.95" />
<line x1="151.30" y1="362.25" x2="153.00" y2="362.25" stroke="#1a1a1a" stroke-width="0.95" />
<line x1="151.30" y1="349.15" x2="153.00" y2="349.15" stroke="#1a1a1a" stroke-width="0.95" />
<line x1="151.30" y1="336.05" x2="153.00" y2="336.05" stroke="#1a1a1a" stroke-width="0.95" />
<line x1="150.00" y1="395.00" x2="153.00" y2="395.00" stroke="#1a1a1a" stroke-width="1.15" />
<text x="148.40" y="396.45" font-size="4.1" text-anchor="end" class="k2">0</text>
<line x1="150.00" y1="381.90" x2="153.00" y2="381.90" stroke="#1a1a1a" stroke-width="1.15" />
<text x="148.40" y="383.35" font-size="4.1" text-anchor="end" class="k2">20</text>
<line x1="150.00" y1="368.80" x2="153.00" y2="368.80" stroke="#1a1a1a" stroke-width="1.15" />
<text x="148.40" y="370.25" font-size="4.1" text-anchor="end" class="k2">40</text>
<line x1="150.00" y1="355.70" x2="153.00" y2="355.70" stroke="#1a1a1a" stroke-width="1.15" />
<text x="148.40" y="357.15" font-size="4.1" text-anchor="end" class="k2">60</text>
<line x1="150.00" y1="342.60" x2="153.00" y2="342.60" stroke="#1a1a1a" stroke-width="1.15" />
<text x="148.40" y="344.05" font-size="4.1" text-anchor="end" class="k2">80</text>
<line x1="150.00" y1="329.50" x2="153.00" y2="329.50" stroke="#1a1a1a" stroke-width="1.15" />
<text x="148.40" y="330.95" font-size="4.1" text-anchor="end" class="k2">100</text>
<line x1="153.00" y1="395.00" x2="153.00" y2="397.40" stroke="#1a1a1a" stroke-width="1.1" />
<text x="153.00" y="402.30" font-size="4.1" text-anchor="middle" class="k2">0</text>
<line x1="163.30" y1="395.00" x2="163.30" y2="397.40" stroke="#1a1a1a" stroke-width="1.1" />
<text x="163.30" y="402.30" font-size="4.1" text-anchor="middle" class="k2">20</text>
<line x1="173.60" y1="395.00" x2="173.60" y2="397.40" stroke="#1a1a1a" stroke-width="1.1" />
<text x="173.60" y="402.30" font-size="4.1" text-anchor="middle" class="k2">40</text>
<line x1="183.90" y1="395.00" x2="183.90" y2="397.40" stroke="#1a1a1a" stroke-width="1.1" />
<text x="183.90" y="402.30" font-size="4.1" text-anchor="middle" class="k2">60</text>
<line x1="194.20" y1="395.00" x2="194.20" y2="397.40" stroke="#1a1a1a" stroke-width="1.1" />
<text x="194.20" y="402.30" font-size="4.1" text-anchor="middle" class="k2">80</text>
<line x1="204.50" y1="395.00" x2="204.50" y2="397.40" stroke="#1a1a1a" stroke-width="1.1" />
<text x="204.50" y="402.30" font-size="4.1" text-anchor="middle" class="k2">100</text>
<line x1="214.80" y1="395.00" x2="214.80" y2="397.40" stroke="#1a1a1a" stroke-width="1.1" />
<text x="214.80" y="402.30" font-size="4.1" text-anchor="middle" class="k2">120</text>
<line x1="225.10" y1="395.00" x2="225.10" y2="397.40" stroke="#1a1a1a" stroke-width="1.1" />
<text x="225.10" y="402.30" font-size="4.1" text-anchor="middle" class="k2">140</text>
<line x1="235.40" y1="395.00" x2="235.40" y2="397.40" stroke="#1a1a1a" stroke-width="1.1" />
<text x="235.40" y="402.30" font-size="4.1" text-anchor="middle" class="k2">160</text>
<line x1="245.70" y1="395.00" x2="245.70" y2="397.40" stroke="#1a1a1a" stroke-width="1.1" />
<text x="245.70" y="402.30" font-size="4.1" text-anchor="middle" class="k2">180</text>
<polyline points="153.00,329.50 154.92,329.50 154.92,331.33 156.83,331.33 156.83,333.17 158.75,333.17 158.75,335.00 161.25,335.00 161.25,336.88 163.75,336.88 163.75,338.75 165.62,338.75 165.62,340.62 167.50,340.62 167.50,342.50 170.00,342.50 170.00,343.75 172.50,343.75 172.50,345.00 174.58,345.00 174.58,346.00 176.67,346.00 176.67,347.00 178.75,347.00 178.75,348.00 180.62,348.00 180.62,349.62 182.50,349.62 182.50,351.25 196.25,351.25 196.25,357.50 198.75,357.50 198.75,358.12 201.25,358.12 201.25,358.75 201.67,358.75 201.67,360.67 202.08,360.67 202.08,362.58 202.50,362.58 202.50,364.50 218.75,364.50" fill="none" stroke="#46518a" stroke-width="1.1" stroke-linejoin="round" />
<polyline points="153.00,329.50 153.81,329.50 153.81,331.81 154.62,331.81 154.62,334.12 155.44,334.12 155.44,336.44 156.25,336.44 156.25,338.75 158.12,338.75 158.12,340.00 160.00,340.00 160.00,341.25 162.08,341.25 162.08,342.08 164.17,342.08 164.17,342.92 166.25,342.92 166.25,343.75 168.33,343.75 168.33,344.58 170.42,344.58 170.42,345.42 172.50,345.42 172.50,346.25 175.00,346.25 175.00,348.75 176.88,348.75 176.88,351.25 178.75,351.25 178.75,353.75 180.00,353.75 180.00,356.25 181.25,356.25 181.25,358.75 200.00,358.75 200.47,358.75 200.47,360.94 200.94,360.94 200.94,363.12 201.41,363.12 201.41,365.31 201.88,365.31 201.88,367.50 202.34,367.50 202.34,369.69 202.81,369.69 202.81,371.88 203.28,371.88 203.28,374.06 203.75,374.06 203.75,376.25" fill="none" stroke="#94b888" stroke-width="1.1" stroke-linejoin="round" />
<polyline points="153.00,329.50 155.00,342.50 157.50,350.00 161.25,356.25 166.25,361.25 172.50,365.00 180.00,367.50 187.50,371.25 193.75,375.00 200.00,378.75" fill="none" stroke="#d6bf72" stroke-width="1.15" stroke-dasharray="1.5 1.1" stroke-linejoin="round" />
<polyline points="153.00,329.50 155.00,346.25 157.50,353.75 161.25,360.00 166.25,363.75 173.75,366.25 181.25,369.50 187.50,371.25 195.00,372.50 200.00,373.75" fill="none" stroke="#98384c" stroke-width="1.15" stroke-dasharray="1.5 1.1" stroke-linejoin="round" />
<text x="197.00" y="336.20" font-size="4.4" font-weight="bold" fill="#46518a" >1.</text>
<line x1="201.80" y1="334.70" x2="207.60" y2="334.70" stroke="#46518a" stroke-width="0.9" />
<circle cx="204.70" cy="334.70" r="0.8" fill="#46518a"/>
<text class="k" x="209.40" y="336.30" font-size="4.6" fill="#1a1a1a">CD37<tspan font-size="3.6" dy="-1.9">+</tspan><tspan dy="1.9"> </tspan>survivin<tspan font-size="3.6" dy="-1.9">−</tspan><tspan dy="1.9"> </tspan>(n=74)</text>
<text x="197.00" y="341.70" font-size="4.4" font-weight="bold" fill="#94b888" >2.</text>
<line x1="201.80" y1="340.20" x2="207.60" y2="340.20" stroke="#94b888" stroke-width="0.9" />
<circle cx="204.70" cy="340.20" r="0.8" fill="#94b888"/>
<text class="k" x="209.40" y="341.80" font-size="4.6" fill="#1a1a1a">CD37<tspan font-size="3.6" dy="-1.9">+</tspan><tspan dy="1.9"> </tspan>survivin<tspan font-size="3.6" dy="-1.9">+</tspan><tspan dy="1.9"> </tspan>(n=32)</text>
<text x="197.00" y="346.70" font-size="4.4" font-weight="bold" fill="#d6bf72" >3.</text>
<line x1="201.80" y1="345.20" x2="207.60" y2="345.20" stroke="#d6bf72" stroke-width="0.9" stroke-dasharray="1.4 0.8"/>
<circle cx="204.70" cy="345.20" r="0.8" fill="#d6bf72"/>
<text class="k" x="209.40" y="346.80" font-size="4.6" fill="#1a1a1a">CD37<tspan font-size="3.6" dy="-1.9">−</tspan><tspan dy="1.9"> </tspan>survivin<tspan font-size="3.6" dy="-1.9">−</tspan><tspan dy="1.9"> </tspan>(n=50)</text>
<text x="197.00" y="352.70" font-size="4.4" font-weight="bold" fill="#98384c" >4.</text>
<line x1="201.80" y1="351.20" x2="207.60" y2="351.20" stroke="#98384c" stroke-width="0.9" stroke-dasharray="1.4 0.8"/>
<circle cx="204.70" cy="351.20" r="0.8" fill="#98384c"/>
<text class="k" x="209.40" y="352.80" font-size="4.6" fill="#1a1a1a">CD37<tspan font-size="3.6" dy="-1.9">−</tspan><tspan dy="1.9"> </tspan>survivin<tspan font-size="3.6" dy="-1.9">+</tspan><tspan dy="1.9"> </tspan>(n=62)</text>
<text x="156.30" y="385.00" font-size="4.3" font-weight="bold" fill="#1a1a1a" textLength="66.00" lengthAdjust="spacingAndGlyphs" class="k3">1 vs. 2: <tspan font-style="italic">P</tspan>= .0001; 3 vs. 4: <tspan font-style="italic">P</tspan>= .009;</text>
<text x="156.30" y="390.30" font-size="4.3" fill="#1a1a1a" textLength="53.00" lengthAdjust="spacingAndGlyphs" class="k">1 vs. 3: <tspan font-style="italic">P</tspan>= .42; 2 vs. 4: <tspan font-style="italic">P</tspan>= .39</text>
<text x="185.00" y="348.00" font-size="4.2" font-weight="bold" fill="#46518a" >1.</text>
<text x="185.00" y="356.00" font-size="4.2" font-weight="bold" fill="#94b888" >2.</text>
<text x="193.00" y="372.00" font-size="4.2" font-weight="bold" fill="#98384c" >4.</text>
<text x="327.40" y="323.00" font-size="6.5" font-weight="bold" text-anchor="middle" fill="#111" textLength="38.20" lengthAdjust="spacingAndGlyphs" class="t">ABC-DLBCL</text>
<text x="263.20" y="359.50" font-size="6.1" text-anchor="middle" textLength="74.50" lengthAdjust="spacingAndGlyphs" transform="rotate(-90 263.20 359.50)" class="k3">Progression-free survival (%)</text>
<line x1="277.50" y1="324.00" x2="277.50" y2="395.10" stroke="#1a1a1a" stroke-width="1.3" />
<line x1="276.90" y1="394.50" x2="377.30" y2="394.50" stroke="#1a1a1a" stroke-width="1.3" />
<line x1="275.80" y1="387.80" x2="277.50" y2="387.80" stroke="#1a1a1a" stroke-width="0.95" />
<line x1="275.80" y1="374.40" x2="277.50" y2="374.40" stroke="#1a1a1a" stroke-width="0.95" />
<line x1="275.80" y1="361.00" x2="277.50" y2="361.00" stroke="#1a1a1a" stroke-width="0.95" />
<line x1="275.80" y1="347.60" x2="277.50" y2="347.60" stroke="#1a1a1a" stroke-width="0.95" />
<line x1="275.80" y1="334.20" x2="277.50" y2="334.20" stroke="#1a1a1a" stroke-width="0.95" />
<line x1="274.50" y1="394.50" x2="277.50" y2="394.50" stroke="#1a1a1a" stroke-width="1.15" />
<text x="272.90" y="395.95" font-size="4.1" text-anchor="end" class="k2">0</text>
<line x1="274.50" y1="381.10" x2="277.50" y2="381.10" stroke="#1a1a1a" stroke-width="1.15" />
<text x="272.90" y="382.55" font-size="4.1" text-anchor="end" class="k2">20</text>
<line x1="274.50" y1="367.70" x2="277.50" y2="367.70" stroke="#1a1a1a" stroke-width="1.15" />
<text x="272.90" y="369.15" font-size="4.1" text-anchor="end" class="k2">40</text>
<line x1="274.50" y1="354.30" x2="277.50" y2="354.30" stroke="#1a1a1a" stroke-width="1.15" />
<text x="272.90" y="355.75" font-size="4.1" text-anchor="end" class="k2">60</text>
<line x1="274.50" y1="340.90" x2="277.50" y2="340.90" stroke="#1a1a1a" stroke-width="1.15" />
<text x="272.90" y="342.35" font-size="4.1" text-anchor="end" class="k2">80</text>
<line x1="274.50" y1="327.50" x2="277.50" y2="327.50" stroke="#1a1a1a" stroke-width="1.15" />
<text x="272.90" y="328.95" font-size="4.1" text-anchor="end" class="k2">100</text>
<line x1="277.50" y1="394.50" x2="277.50" y2="396.90" stroke="#1a1a1a" stroke-width="1.1" />
<text x="277.50" y="401.80" font-size="4.1" text-anchor="middle" class="k2">0</text>
<line x1="288.26" y1="394.50" x2="288.26" y2="396.90" stroke="#1a1a1a" stroke-width="1.1" />
<text x="288.26" y="401.80" font-size="4.1" text-anchor="middle" class="k2">20</text>
<line x1="299.01" y1="394.50" x2="299.01" y2="396.90" stroke="#1a1a1a" stroke-width="1.1" />
<text x="299.01" y="401.80" font-size="4.1" text-anchor="middle" class="k2">40</text>
<line x1="309.77" y1="394.50" x2="309.77" y2="396.90" stroke="#1a1a1a" stroke-width="1.1" />
<text x="309.77" y="401.80" font-size="4.1" text-anchor="middle" class="k2">60</text>
<line x1="320.52" y1="394.50" x2="320.52" y2="396.90" stroke="#1a1a1a" stroke-width="1.1" />
<text x="320.52" y="401.80" font-size="4.1" text-anchor="middle" class="k2">80</text>
<line x1="331.28" y1="394.50" x2="331.28" y2="396.90" stroke="#1a1a1a" stroke-width="1.1" />
<text x="331.28" y="401.80" font-size="4.1" text-anchor="middle" class="k2">100</text>
<line x1="342.03" y1="394.50" x2="342.03" y2="396.90" stroke="#1a1a1a" stroke-width="1.1" />
<text x="342.03" y="401.80" font-size="4.1" text-anchor="middle" class="k2">120</text>
<line x1="352.79" y1="394.50" x2="352.79" y2="396.90" stroke="#1a1a1a" stroke-width="1.1" />
<text x="352.79" y="401.80" font-size="4.1" text-anchor="middle" class="k2">140</text>
<line x1="363.54" y1="394.50" x2="363.54" y2="396.90" stroke="#1a1a1a" stroke-width="1.1" />
<text x="363.54" y="401.80" font-size="4.1" text-anchor="middle" class="k2">160</text>
<line x1="374.30" y1="394.50" x2="374.30" y2="396.90" stroke="#1a1a1a" stroke-width="1.1" />
<text x="374.30" y="401.80" font-size="4.1" text-anchor="middle" class="k2">180</text>
<polyline points="277.50,327.50 278.33,327.50 278.33,329.58 279.17,329.58 279.17,331.67 280.00,331.67 280.00,333.75 280.83,333.75 280.83,335.83 281.67,335.83 281.67,337.92 282.50,337.92 282.50,340.00 282.50,342.00 321.25,342.00 321.25,377.50 323.75,377.50" fill="none" stroke="#94b888" stroke-width="1.1" stroke-linejoin="round" />
<polyline points="277.50,327.50 279.38,327.50 279.38,328.12 281.25,328.12 281.25,328.75 283.12,328.75 283.12,330.00 285.00,330.00 285.00,331.25 286.88,331.25 286.88,333.12 288.75,333.12 288.75,335.00 290.00,335.00 290.00,337.50 291.25,337.50 291.25,340.00 293.12,340.00 293.12,341.25 295.00,341.25 295.00,342.50 297.50,342.50 297.50,344.00 300.00,344.00 300.00,345.50 301.25,345.50 301.25,347.75 302.50,347.75 302.50,350.00 304.38,350.00 304.38,351.88 306.25,351.88 306.25,353.75 308.12,353.75 308.12,355.00 310.00,355.00 310.00,356.25 316.25,356.25 317.50,356.25 317.50,358.12 318.75,358.12 318.75,360.00 330.00,360.00 330.31,360.00 330.31,362.19 330.62,362.19 330.62,364.38 330.94,364.38 330.94,366.56 331.25,366.56 331.25,368.75 345.00,368.75" fill="none" stroke="#46518a" stroke-width="1.1" stroke-linejoin="round" />
<polyline points="277.50,327.50 282.50,345.00 285.00,355.00 287.50,361.25 297.50,361.25 301.25,367.50 310.00,369.50 316.25,371.25 320.00,373.75 331.25,373.75" fill="none" stroke="#d6bf72" stroke-width="1.15" stroke-dasharray="1.5 1.1" stroke-linejoin="round" />
<polyline points="277.50,327.50 282.50,343.75 285.00,352.50 287.50,360.00 291.25,363.75 296.25,366.25 301.25,369.50 306.25,371.25 312.50,373.75 317.50,376.25 321.25,379.50" fill="none" stroke="#98384c" stroke-width="1.15" stroke-dasharray="1.5 1.1" stroke-linejoin="round" />
<text x="324.50" y="335.00" font-size="4.4" font-weight="bold" fill="#46518a" >1.</text>
<line x1="329.30" y1="333.50" x2="335.10" y2="333.50" stroke="#46518a" stroke-width="0.9" />
<circle cx="332.20" cy="333.50" r="0.8" fill="#46518a"/>
<text class="k" x="336.90" y="335.10" font-size="4.6" fill="#1a1a1a">CD37<tspan font-size="3.6" dy="-1.9">+</tspan><tspan dy="1.9"> </tspan><tspan font-style="italic">BCL6-R</tspan><tspan font-size="3.6" dy="-1.9">−</tspan><tspan dy="1.9"> </tspan>(n=57)</text>
<text x="324.50" y="341.20" font-size="4.4" font-weight="bold" fill="#94b888" >2.</text>
<line x1="329.30" y1="339.70" x2="335.10" y2="339.70" stroke="#94b888" stroke-width="0.9" />
<circle cx="332.20" cy="339.70" r="0.8" fill="#94b888"/>
<text class="k" x="336.90" y="341.30" font-size="4.6" fill="#1a1a1a">CD37<tspan font-size="3.6" dy="-1.9">+</tspan><tspan dy="1.9"> </tspan><tspan font-style="italic">BCL6-R</tspan><tspan font-size="3.6" dy="-1.9">+</tspan><tspan dy="1.9"> </tspan>(n=26)</text>
<text x="324.50" y="346.50" font-size="4.4" font-weight="bold" fill="#d6bf72" >3.</text>
<line x1="329.30" y1="345.00" x2="335.10" y2="345.00" stroke="#d6bf72" stroke-width="0.9" stroke-dasharray="1.4 0.8"/>
<circle cx="332.20" cy="345.00" r="0.8" fill="#d6bf72"/>
<text class="k" x="336.90" y="346.60" font-size="4.6" fill="#1a1a1a">CD37<tspan font-size="3.6" dy="-1.9">−</tspan><tspan dy="1.9"> </tspan><tspan font-style="italic">BCL6-R</tspan><tspan font-size="3.6" dy="-1.9">−</tspan><tspan dy="1.9"> </tspan>(n=45)</text>
<text x="324.50" y="352.30" font-size="4.4" font-weight="bold" fill="#98384c" >4.</text>
<line x1="329.30" y1="350.80" x2="335.10" y2="350.80" stroke="#98384c" stroke-width="0.9" stroke-dasharray="1.4 0.8"/>
<circle cx="332.20" cy="350.80" r="0.8" fill="#98384c"/>
<text class="k" x="336.90" y="352.40" font-size="4.6" fill="#1a1a1a">CD37<tspan font-size="3.6" dy="-1.9">−</tspan><tspan dy="1.9"> </tspan><tspan font-style="italic">BCL6-R</tspan><tspan font-size="3.6" dy="-1.9">+</tspan><tspan dy="1.9"> </tspan>(n=44)</text>
<text x="280.00" y="385.00" font-size="4.3" font-weight="bold" fill="#1a1a1a" textLength="70.00" lengthAdjust="spacingAndGlyphs" class="k3">1 vs. 2: <tspan font-style="italic">P</tspan>= .0021; 3 vs. 4: <tspan font-style="italic">P</tspan>= .0015;</text>
<text x="280.00" y="390.30" font-size="4.3" fill="#1a1a1a" textLength="55.00" lengthAdjust="spacingAndGlyphs" class="k">1 vs. 3: <tspan font-style="italic">P</tspan>= .06; 2 vs. 4: <tspan font-style="italic">P</tspan>= .63</text>
<text x="310.00" y="339.00" font-size="4.2" font-weight="bold" fill="#94b888" >2.</text>
<text x="310.00" y="352.00" font-size="4.2" font-weight="bold" fill="#46518a" >1.</text>
<text x="329.00" y="377.00" font-size="4.2" font-weight="bold" fill="#d6bf72" >3.</text>
<text x="459.00" y="323.00" font-size="6.5" font-weight="bold" text-anchor="middle" fill="#111" textLength="38.20" lengthAdjust="spacingAndGlyphs" class="t">ABC-DLBCL</text>
<text x="391.20" y="359.12" font-size="6.1" text-anchor="middle" textLength="74.50" lengthAdjust="spacingAndGlyphs" transform="rotate(-90 391.20 359.12)" class="k3">Progression-free survival (%)</text>
<line x1="405.50" y1="324.00" x2="405.50" y2="394.35" stroke="#1a1a1a" stroke-width="1.3" />
<line x1="404.90" y1="393.75" x2="512.70" y2="393.75" stroke="#1a1a1a" stroke-width="1.3" />
<line x1="403.80" y1="387.12" x2="405.50" y2="387.12" stroke="#1a1a1a" stroke-width="0.95" />
<line x1="403.80" y1="373.88" x2="405.50" y2="373.88" stroke="#1a1a1a" stroke-width="0.95" />
<line x1="403.80" y1="360.62" x2="405.50" y2="360.62" stroke="#1a1a1a" stroke-width="0.95" />
<line x1="403.80" y1="347.38" x2="405.50" y2="347.38" stroke="#1a1a1a" stroke-width="0.95" />
<line x1="403.80" y1="334.12" x2="405.50" y2="334.12" stroke="#1a1a1a" stroke-width="0.95" />
<line x1="402.50" y1="393.75" x2="405.50" y2="393.75" stroke="#1a1a1a" stroke-width="1.15" />
<text x="400.90" y="395.20" font-size="4.1" text-anchor="end" class="k2">0</text>
<line x1="402.50" y1="380.50" x2="405.50" y2="380.50" stroke="#1a1a1a" stroke-width="1.15" />
<text x="400.90" y="381.95" font-size="4.1" text-anchor="end" class="k2">20</text>
<line x1="402.50" y1="367.25" x2="405.50" y2="367.25" stroke="#1a1a1a" stroke-width="1.15" />
<text x="400.90" y="368.70" font-size="4.1" text-anchor="end" class="k2">40</text>
<line x1="402.50" y1="354.00" x2="405.50" y2="354.00" stroke="#1a1a1a" stroke-width="1.15" />
<text x="400.90" y="355.45" font-size="4.1" text-anchor="end" class="k2">60</text>
<line x1="402.50" y1="340.75" x2="405.50" y2="340.75" stroke="#1a1a1a" stroke-width="1.15" />
<text x="400.90" y="342.20" font-size="4.1" text-anchor="end" class="k2">80</text>
<line x1="402.50" y1="327.50" x2="405.50" y2="327.50" stroke="#1a1a1a" stroke-width="1.15" />
<text x="400.90" y="328.95" font-size="4.1" text-anchor="end" class="k2">100</text>
<line x1="405.50" y1="393.75" x2="405.50" y2="396.15" stroke="#1a1a1a" stroke-width="1.1" />
<text x="405.50" y="401.05" font-size="4.1" text-anchor="middle" class="k2">0</text>
<line x1="415.92" y1="393.75" x2="415.92" y2="396.15" stroke="#1a1a1a" stroke-width="1.1" />
<text x="415.92" y="401.05" font-size="4.1" text-anchor="middle" class="k2">20</text>
<line x1="426.34" y1="393.75" x2="426.34" y2="396.15" stroke="#1a1a1a" stroke-width="1.1" />
<text x="426.34" y="401.05" font-size="4.1" text-anchor="middle" class="k2">40</text>
<line x1="436.76" y1="393.75" x2="436.76" y2="396.15" stroke="#1a1a1a" stroke-width="1.1" />
<text x="436.76" y="401.05" font-size="4.1" text-anchor="middle" class="k2">60</text>
<line x1="447.18" y1="393.75" x2="447.18" y2="396.15" stroke="#1a1a1a" stroke-width="1.1" />
<text x="447.18" y="401.05" font-size="4.1" text-anchor="middle" class="k2">80</text>
<line x1="457.60" y1="393.75" x2="457.60" y2="396.15" stroke="#1a1a1a" stroke-width="1.1" />
<text x="457.60" y="401.05" font-size="4.1" text-anchor="middle" class="k2">100</text>
<line x1="468.02" y1="393.75" x2="468.02" y2="396.15" stroke="#1a1a1a" stroke-width="1.1" />
<text x="468.02" y="401.05" font-size="4.1" text-anchor="middle" class="k2">120</text>
<line x1="478.44" y1="393.75" x2="478.44" y2="396.15" stroke="#1a1a1a" stroke-width="1.1" />
<text x="478.44" y="401.05" font-size="4.1" text-anchor="middle" class="k2">140</text>
<line x1="488.86" y1="393.75" x2="488.86" y2="396.15" stroke="#1a1a1a" stroke-width="1.1" />
<text x="488.86" y="401.05" font-size="4.1" text-anchor="middle" class="k2">160</text>
<line x1="499.28" y1="393.75" x2="499.28" y2="396.15" stroke="#1a1a1a" stroke-width="1.1" />
<text x="499.28" y="401.05" font-size="4.1" text-anchor="middle" class="k2">180</text>
<line x1="509.70" y1="393.75" x2="509.70" y2="396.15" stroke="#1a1a1a" stroke-width="1.1" />
<text x="509.70" y="401.05" font-size="4.1" text-anchor="middle" class="k2">200</text>
<polyline points="405.50,327.50 407.12,327.50 407.12,329.38 408.75,329.38 408.75,331.25 410.62,331.25 410.62,333.12 412.50,333.12 412.50,335.00 414.58,335.00 414.58,335.42 416.67,335.42 416.67,335.83 418.75,335.83 418.75,336.25 420.83,336.25 420.83,337.08 422.92,337.08 422.92,337.92 425.00,337.92 425.00,338.75 426.88,338.75 426.88,340.62 428.75,340.62 428.75,342.50 430.62,342.50 430.62,344.38 432.50,344.38 432.50,346.25 434.38,346.25 434.38,346.88 436.25,346.88 436.25,347.50 443.75,347.50 446.25,347.50 446.25,350.00 447.08,350.00 447.08,352.08 447.92,352.08 447.92,354.17 448.75,354.17 448.75,356.25 450.00,356.25 450.00,358.75 451.25,358.75 451.25,361.25 453.12,361.25 453.12,363.12 455.00,363.12 455.00,365.00 455.62,365.00 455.62,367.50 456.25,367.50 456.25,370.00 456.60,370.00 456.60,372.00 456.95,372.00 456.95,374.00 457.30,374.00 457.30,376.00 457.65,376.00 457.65,378.00 458.00,378.00 458.00,380.00 462.50,380.00" fill="none" stroke="#46518a" stroke-width="1.1" stroke-linejoin="round" />
<polyline points="405.50,327.50 407.00,327.50 407.00,330.00 408.50,330.00 408.50,332.50 410.00,332.50 410.00,335.00 411.88,335.00 411.88,337.50 413.75,337.50 413.75,340.00 416.25,340.00 416.25,341.88 418.75,341.88 418.75,343.75 421.25,343.75 421.25,345.62 423.75,345.62 423.75,347.50 426.25,347.50 426.25,349.38 428.75,349.38 428.75,351.25 431.25,351.25 431.25,352.92 433.75,352.92 433.75,354.58 436.25,354.58 436.25,356.25 438.75,356.25 438.75,356.88 441.25,356.88 441.25,357.50 443.75,357.50 443.75,359.38 446.25,359.38 446.25,361.25 472.50,361.25" fill="none" stroke="#94b888" stroke-width="1.1" stroke-linejoin="round" />
<polyline points="405.50,327.50 410.00,340.00 413.75,346.25 418.75,352.50 425.00,357.00 431.25,361.25 440.00,365.00 443.75,368.00 466.25,368.00" fill="none" stroke="#d6bf72" stroke-width="1.15" stroke-dasharray="1.5 1.1" stroke-linejoin="round" />
<polyline points="405.50,327.50 407.50,338.75 410.00,348.75 413.75,356.25 418.75,362.50 425.00,367.50 431.25,370.00 436.25,372.00 440.00,375.00 443.75,377.50 450.00,379.50" fill="none" stroke="#98384c" stroke-width="1.15" stroke-dasharray="1.5 1.1" stroke-linejoin="round" />
<text x="459.50" y="339.10" font-size="4.4" font-weight="bold" fill="#46518a" >1.</text>
<line x1="464.30" y1="337.60" x2="470.10" y2="337.60" stroke="#46518a" stroke-width="0.9" />
<circle cx="467.20" cy="337.60" r="0.8" fill="#46518a"/>
<text class="k" x="471.90" y="339.20" font-size="4.6" fill="#1a1a1a">CD37<tspan font-size="3.6" dy="-1.9">+</tspan><tspan dy="1.9"> </tspan>p63<tspan font-size="3.6" dy="-1.9">+</tspan><tspan dy="1.9"> </tspan>(n=56)</text>
<text x="459.50" y="345.10" font-size="4.4" font-weight="bold" fill="#94b888" >2.</text>
<line x1="464.30" y1="343.60" x2="470.10" y2="343.60" stroke="#94b888" stroke-width="0.9" />
<circle cx="467.20" cy="343.60" r="0.8" fill="#94b888"/>
<text class="k" x="471.90" y="345.20" font-size="4.6" fill="#1a1a1a">CD37<tspan font-size="3.6" dy="-1.9">+</tspan><tspan dy="1.9"> </tspan>p63<tspan font-size="3.6" dy="-1.9">−</tspan><tspan dy="1.9"> </tspan>(n=56)</text>
<text x="459.50" y="350.10" font-size="4.4" font-weight="bold" fill="#d6bf72" >3.</text>
<line x1="464.30" y1="348.60" x2="470.10" y2="348.60" stroke="#d6bf72" stroke-width="0.9" stroke-dasharray="1.4 0.8"/>
<circle cx="467.20" cy="348.60" r="0.8" fill="#d6bf72"/>
<text class="k" x="471.90" y="350.20" font-size="4.6" fill="#1a1a1a">CD37<tspan font-size="3.6" dy="-1.9">−</tspan><tspan dy="1.9"> </tspan>p63<tspan font-size="3.6" dy="-1.9">+</tspan><tspan dy="1.9"> </tspan>(n=53)</text>
<text x="459.50" y="355.60" font-size="4.4" font-weight="bold" fill="#98384c" >4.</text>
<line x1="464.30" y1="354.10" x2="470.10" y2="354.10" stroke="#98384c" stroke-width="0.9" stroke-dasharray="1.4 0.8"/>
<circle cx="467.20" cy="354.10" r="0.8" fill="#98384c"/>
<text class="k" x="471.90" y="355.70" font-size="4.6" fill="#1a1a1a">CD37<tspan font-size="3.6" dy="-1.9">−</tspan><tspan dy="1.9"> </tspan>p63<tspan font-size="3.6" dy="-1.9">−</tspan><tspan dy="1.9"> </tspan>(n=76)</text>
<text x="409.50" y="385.00" font-size="4.3" font-weight="bold" fill="#1a1a1a" textLength="70.00" lengthAdjust="spacingAndGlyphs" class="k3">1 vs. 2: <tspan font-style="italic">P</tspan>= .0052; 3 vs. 4: <tspan font-style="italic">P</tspan>= .0004;</text>
<text x="409.50" y="390.30" font-size="4.3" fill="#1a1a1a" textLength="55.00" lengthAdjust="spacingAndGlyphs" class="k">1 vs. 3: <tspan font-style="italic">P</tspan>= .20; 2 vs. 4: <tspan font-style="italic">P</tspan>= .09</text>
<text x="440.00" y="344.00" font-size="4.2" font-weight="bold" fill="#46518a" >1.</text>
<text x="440.00" y="358.00" font-size="4.2" font-weight="bold" fill="#94b888" >2.</text>
<text x="440.00" y="368.00" font-size="4.2" font-weight="bold" fill="#d6bf72" >3.</text>
<text x="440.00" y="375.00" font-size="4.2" font-weight="bold" fill="#98384c" >4.</text>
<text x="72.80" y="429.80" font-size="6.5" font-weight="bold" text-anchor="middle" fill="#111" textLength="38.20" lengthAdjust="spacingAndGlyphs" class="t">ABC-DLBCL</text>
<text x="12.00" y="467.75" font-size="6.1" text-anchor="middle" textLength="74.50" lengthAdjust="spacingAndGlyphs" transform="rotate(-90 12.00 467.75)" class="k3">Progression-free survival (%)</text>
<line x1="26.30" y1="434.50" x2="26.30" y2="501.10" stroke="#1a1a1a" stroke-width="1.3" />
<line x1="25.70" y1="500.50" x2="119.30" y2="500.50" stroke="#1a1a1a" stroke-width="1.3" />
<line x1="24.60" y1="494.25" x2="26.30" y2="494.25" stroke="#1a1a1a" stroke-width="0.95" />
<line x1="24.60" y1="481.75" x2="26.30" y2="481.75" stroke="#1a1a1a" stroke-width="0.95" />
<line x1="24.60" y1="469.25" x2="26.30" y2="469.25" stroke="#1a1a1a" stroke-width="0.95" />
<line x1="24.60" y1="456.75" x2="26.30" y2="456.75" stroke="#1a1a1a" stroke-width="0.95" />
<line x1="24.60" y1="444.25" x2="26.30" y2="444.25" stroke="#1a1a1a" stroke-width="0.95" />
<line x1="23.30" y1="500.50" x2="26.30" y2="500.50" stroke="#1a1a1a" stroke-width="1.15" />
<text x="21.70" y="501.95" font-size="4.1" text-anchor="end" class="k2">0</text>
<line x1="23.30" y1="488.00" x2="26.30" y2="488.00" stroke="#1a1a1a" stroke-width="1.15" />
<text x="21.70" y="489.45" font-size="4.1" text-anchor="end" class="k2">20</text>
<line x1="23.30" y1="475.50" x2="26.30" y2="475.50" stroke="#1a1a1a" stroke-width="1.15" />
<text x="21.70" y="476.95" font-size="4.1" text-anchor="end" class="k2">40</text>
<line x1="23.30" y1="463.00" x2="26.30" y2="463.00" stroke="#1a1a1a" stroke-width="1.15" />
<text x="21.70" y="464.45" font-size="4.1" text-anchor="end" class="k2">60</text>
<line x1="23.30" y1="450.50" x2="26.30" y2="450.50" stroke="#1a1a1a" stroke-width="1.15" />
<text x="21.70" y="451.95" font-size="4.1" text-anchor="end" class="k2">80</text>
<line x1="23.30" y1="438.00" x2="26.30" y2="438.00" stroke="#1a1a1a" stroke-width="1.15" />
<text x="21.70" y="439.45" font-size="4.1" text-anchor="end" class="k2">100</text>
<line x1="26.30" y1="500.50" x2="26.30" y2="502.90" stroke="#1a1a1a" stroke-width="1.1" />
<text x="26.30" y="507.80" font-size="4.1" text-anchor="middle" class="k2">0</text>
<line x1="36.30" y1="500.50" x2="36.30" y2="502.90" stroke="#1a1a1a" stroke-width="1.1" />
<text x="36.30" y="507.80" font-size="4.1" text-anchor="middle" class="k2">20</text>
<line x1="46.30" y1="500.50" x2="46.30" y2="502.90" stroke="#1a1a1a" stroke-width="1.1" />
<text x="46.30" y="507.80" font-size="4.1" text-anchor="middle" class="k2">40</text>
<line x1="56.30" y1="500.50" x2="56.30" y2="502.90" stroke="#1a1a1a" stroke-width="1.1" />
<text x="56.30" y="507.80" font-size="4.1" text-anchor="middle" class="k2">60</text>
<line x1="66.30" y1="500.50" x2="66.30" y2="502.90" stroke="#1a1a1a" stroke-width="1.1" />
<text x="66.30" y="507.80" font-size="4.1" text-anchor="middle" class="k2">80</text>
<line x1="76.30" y1="500.50" x2="76.30" y2="502.90" stroke="#1a1a1a" stroke-width="1.1" />
<text x="76.30" y="507.80" font-size="4.1" text-anchor="middle" class="k2">100</text>
<line x1="86.30" y1="500.50" x2="86.30" y2="502.90" stroke="#1a1a1a" stroke-width="1.1" />
<text x="86.30" y="507.80" font-size="4.1" text-anchor="middle" class="k2">120</text>
<line x1="96.30" y1="500.50" x2="96.30" y2="502.90" stroke="#1a1a1a" stroke-width="1.1" />
<text x="96.30" y="507.80" font-size="4.1" text-anchor="middle" class="k2">140</text>
<line x1="106.30" y1="500.50" x2="106.30" y2="502.90" stroke="#1a1a1a" stroke-width="1.1" />
<text x="106.30" y="507.80" font-size="4.1" text-anchor="middle" class="k2">160</text>
<line x1="116.30" y1="500.50" x2="116.30" y2="502.90" stroke="#1a1a1a" stroke-width="1.1" />
<text x="116.30" y="507.80" font-size="4.1" text-anchor="middle" class="k2">180</text>
<text x="72.90" y="516.80" font-size="7.0" text-anchor="middle" textLength="19.20" lengthAdjust="spacingAndGlyphs" class="k3">Months</text>
<polyline points="26.30,438.00 28.75,438.00 28.75,440.00 29.58,440.00 29.58,442.08 30.42,442.08 30.42,444.17 31.25,444.17 31.25,446.25 33.12,446.25 33.12,447.12 35.00,447.12 35.00,448.00 37.50,448.00 37.50,450.50 40.00,450.50 40.00,453.00 41.88,453.00 41.88,454.00 43.75,454.00 43.75,455.00 45.83,455.00 45.83,455.67 47.92,455.67 47.92,456.33 50.00,456.33 50.00,457.00 51.88,457.00 51.88,459.12 53.75,459.12 53.75,461.25 56.25,461.25 56.25,461.50 58.75,461.50 58.75,461.75 61.25,461.75 61.25,462.00 63.33,462.00 63.33,462.58 65.42,462.58 65.42,463.17 67.50,463.17 67.50,463.75 68.75,463.75 68.75,465.62 70.00,465.62 70.00,467.50 72.50,467.50 72.50,470.00 73.17,470.00 73.17,472.08 73.83,472.08 73.83,474.17 74.50,474.17 74.50,476.25 88.75,476.25" fill="none" stroke="#46518a" stroke-width="1.1" stroke-linejoin="round" />
<polyline points="26.30,438.00 27.52,438.00 27.52,440.25 28.75,440.25 28.75,442.50 31.25,442.50 31.25,445.00 33.75,445.00 33.75,447.50 36.25,447.50 36.25,448.75 38.75,448.75 38.75,450.00 40.83,450.00 40.83,450.67 42.92,450.67 42.92,451.33 45.00,451.33 45.00,452.00 47.50,452.00 47.50,453.50 50.00,453.50 50.00,455.00 51.88,455.00 51.88,457.75 53.75,457.75 53.75,460.50 56.25,460.50 56.25,461.00 58.75,461.00 58.75,461.50 61.25,461.50 61.25,462.00 63.25,462.00 63.25,463.20 65.25,463.20 65.25,464.40 67.25,464.40 67.25,465.60 69.25,465.60 69.25,466.80 71.25,466.80 71.25,468.00 73.12,468.00 73.12,470.25 75.00,470.25 75.00,472.50 76.25,472.50 76.25,475.00 77.50,475.00 77.50,477.50 78.75,477.50 78.75,480.00 80.00,480.00" fill="none" stroke="#94b888" stroke-width="1.1" stroke-linejoin="round" />
<polyline points="26.30,438.00 30.00,446.25 32.50,451.25 35.00,457.50 40.00,463.75 45.00,467.50 51.25,470.00 57.50,473.75 65.00,476.25 70.00,480.00 76.25,482.50" fill="none" stroke="#d6bf72" stroke-width="1.15" stroke-dasharray="1.5 1.1" stroke-linejoin="round" />
<polyline points="26.30,438.00 28.75,446.25 31.25,455.00 35.00,462.50 40.00,466.25 46.25,469.50 52.50,472.50 58.75,474.50 63.75,478.75 68.75,482.50 72.50,484.50" fill="none" stroke="#98384c" stroke-width="1.15" stroke-dasharray="1.5 1.1" stroke-linejoin="round" />
<text x="69.00" y="443.70" font-size="4.4" font-weight="bold" fill="#46518a" >1.</text>
<line x1="73.80" y1="442.20" x2="79.60" y2="442.20" stroke="#46518a" stroke-width="0.9" />
<circle cx="76.70" cy="442.20" r="0.8" fill="#46518a"/>
<text class="k" x="81.40" y="443.80" font-size="4.6" fill="#1a1a1a">CD37<tspan font-size="3.6" dy="-1.9">+</tspan><tspan dy="1.9"> </tspan>PI3K<tspan font-size="3.6" dy="-1.9">−</tspan><tspan dy="1.9"> </tspan>(n=62)</text>
<text x="69.00" y="449.40" font-size="4.4" font-weight="bold" fill="#94b888" >2.</text>
<line x1="73.80" y1="447.90" x2="79.60" y2="447.90" stroke="#94b888" stroke-width="0.9" />
<circle cx="76.70" cy="447.90" r="0.8" fill="#94b888"/>
<text class="k" x="81.40" y="449.50" font-size="4.6" fill="#1a1a1a">CD37<tspan font-size="3.6" dy="-1.9">+</tspan><tspan dy="1.9"> </tspan>PI3K<tspan font-size="3.6" dy="-1.9">+</tspan><tspan dy="1.9"> </tspan>(n=48)</text>
<text x="69.00" y="456.40" font-size="4.4" font-weight="bold" fill="#d6bf72" >3.</text>
<line x1="73.80" y1="454.90" x2="79.60" y2="454.90" stroke="#d6bf72" stroke-width="0.9" stroke-dasharray="1.4 0.8"/>
<circle cx="76.70" cy="454.90" r="0.8" fill="#d6bf72"/>
<text class="k" x="81.40" y="456.50" font-size="4.6" fill="#1a1a1a">CD37<tspan font-size="3.6" dy="-1.9">−</tspan><tspan dy="1.9"> </tspan>PI3K<tspan font-size="3.6" dy="-1.9">−</tspan><tspan dy="1.9"> </tspan>(n=89)</text>
<text x="69.00" y="463.60" font-size="4.4" font-weight="bold" fill="#98384c" >4.</text>
<line x1="73.80" y1="462.10" x2="79.60" y2="462.10" stroke="#98384c" stroke-width="0.9" stroke-dasharray="1.4 0.8"/>
<circle cx="76.70" cy="462.10" r="0.8" fill="#98384c"/>
<text class="k" x="81.40" y="463.70" font-size="4.6" fill="#1a1a1a">CD37<tspan font-size="3.6" dy="-1.9">−</tspan><tspan dy="1.9"> </tspan>PI3K<tspan font-size="3.6" dy="-1.9">+</tspan><tspan dy="1.9"> </tspan>(n=26)</text>
<text x="29.50" y="491.10" font-size="4.3" font-weight="bold" fill="#1a1a1a" textLength="70.00" lengthAdjust="spacingAndGlyphs" class="k3">1 vs. 2: <tspan font-style="italic">P</tspan>= .0026; 3 vs. 4: <tspan font-style="italic">P</tspan>= .0076;</text>
<text x="29.50" y="497.00" font-size="4.3" fill="#1a1a1a" textLength="55.00" lengthAdjust="spacingAndGlyphs" class="k">1 vs. 3: <tspan font-style="italic">P</tspan>= .51; 2 vs. 4: <tspan font-style="italic">P</tspan>= .84</text>
<text x="91.50" y="477.00" font-size="4.2" font-weight="bold" fill="#46518a" >1.</text>
<text x="81.00" y="483.00" font-size="4.2" font-weight="bold" fill="#94b888" >2</text>
<text x="63.00" y="486.00" font-size="4.2" font-weight="bold" fill="#98384c" >4.</text>
<text x="201.50" y="429.80" font-size="6.5" font-weight="bold" text-anchor="middle" fill="#111" textLength="38.20" lengthAdjust="spacingAndGlyphs" class="t">ABC-DLBCL</text>
<text x="138.20" y="466.00" font-size="6.1" text-anchor="middle" textLength="74.50" lengthAdjust="spacingAndGlyphs" transform="rotate(-90 138.20 466.00)" class="k3">Progression-free survival (%)</text>
<line x1="152.50" y1="431.00" x2="152.50" y2="501.10" stroke="#1a1a1a" stroke-width="1.3" />
<line x1="151.90" y1="500.50" x2="250.50" y2="500.50" stroke="#1a1a1a" stroke-width="1.3" />
<line x1="150.80" y1="493.90" x2="152.50" y2="493.90" stroke="#1a1a1a" stroke-width="0.95" />
<line x1="150.80" y1="480.70" x2="152.50" y2="480.70" stroke="#1a1a1a" stroke-width="0.95" />
<line x1="150.80" y1="467.50" x2="152.50" y2="467.50" stroke="#1a1a1a" stroke-width="0.95" />
<line x1="150.80" y1="454.30" x2="152.50" y2="454.30" stroke="#1a1a1a" stroke-width="0.95" />
<line x1="150.80" y1="441.10" x2="152.50" y2="441.10" stroke="#1a1a1a" stroke-width="0.95" />
<line x1="149.50" y1="500.50" x2="152.50" y2="500.50" stroke="#1a1a1a" stroke-width="1.15" />
<text x="147.90" y="501.95" font-size="4.1" text-anchor="end" class="k2">0</text>
<line x1="149.50" y1="487.30" x2="152.50" y2="487.30" stroke="#1a1a1a" stroke-width="1.15" />
<text x="147.90" y="488.75" font-size="4.1" text-anchor="end" class="k2">20</text>
<line x1="149.50" y1="474.10" x2="152.50" y2="474.10" stroke="#1a1a1a" stroke-width="1.15" />
<text x="147.90" y="475.55" font-size="4.1" text-anchor="end" class="k2">40</text>
<line x1="149.50" y1="460.90" x2="152.50" y2="460.90" stroke="#1a1a1a" stroke-width="1.15" />
<text x="147.90" y="462.35" font-size="4.1" text-anchor="end" class="k2">60</text>
<line x1="149.50" y1="447.70" x2="152.50" y2="447.70" stroke="#1a1a1a" stroke-width="1.15" />
<text x="147.90" y="449.15" font-size="4.1" text-anchor="end" class="k2">80</text>
<line x1="149.50" y1="434.50" x2="152.50" y2="434.50" stroke="#1a1a1a" stroke-width="1.15" />
<text x="147.90" y="435.95" font-size="4.1" text-anchor="end" class="k2">100</text>
<line x1="152.50" y1="500.50" x2="152.50" y2="502.90" stroke="#1a1a1a" stroke-width="1.1" />
<text x="152.50" y="507.80" font-size="4.1" text-anchor="middle" class="k2">0</text>
<line x1="163.06" y1="500.50" x2="163.06" y2="502.90" stroke="#1a1a1a" stroke-width="1.1" />
<text x="163.06" y="507.80" font-size="4.1" text-anchor="middle" class="k2">20</text>
<line x1="173.61" y1="500.50" x2="173.61" y2="502.90" stroke="#1a1a1a" stroke-width="1.1" />
<text x="173.61" y="507.80" font-size="4.1" text-anchor="middle" class="k2">40</text>
<line x1="184.17" y1="500.50" x2="184.17" y2="502.90" stroke="#1a1a1a" stroke-width="1.1" />
<text x="184.17" y="507.80" font-size="4.1" text-anchor="middle" class="k2">60</text>
<line x1="194.72" y1="500.50" x2="194.72" y2="502.90" stroke="#1a1a1a" stroke-width="1.1" />
<text x="194.72" y="507.80" font-size="4.1" text-anchor="middle" class="k2">80</text>
<line x1="205.28" y1="500.50" x2="205.28" y2="502.90" stroke="#1a1a1a" stroke-width="1.1" />
<text x="205.28" y="507.80" font-size="4.1" text-anchor="middle" class="k2">100</text>
<line x1="215.83" y1="500.50" x2="215.83" y2="502.90" stroke="#1a1a1a" stroke-width="1.1" />
<text x="215.83" y="507.80" font-size="4.1" text-anchor="middle" class="k2">120</text>
<line x1="226.39" y1="500.50" x2="226.39" y2="502.90" stroke="#1a1a1a" stroke-width="1.1" />
<text x="226.39" y="507.80" font-size="4.1" text-anchor="middle" class="k2">140</text>
<line x1="236.94" y1="500.50" x2="236.94" y2="502.90" stroke="#1a1a1a" stroke-width="1.1" />
<text x="236.94" y="507.80" font-size="4.1" text-anchor="middle" class="k2">160</text>
<line x1="247.50" y1="500.50" x2="247.50" y2="502.90" stroke="#1a1a1a" stroke-width="1.1" />
<text x="247.50" y="507.80" font-size="4.1" text-anchor="middle" class="k2">180</text>
<text x="201.60" y="516.80" font-size="7.0" text-anchor="middle" textLength="19.20" lengthAdjust="spacingAndGlyphs" class="k3">Months</text>
<polyline points="152.50,434.50 155.00,434.50 155.00,436.25 156.25,436.25 156.25,438.12 157.50,438.12 157.50,440.00 160.00,440.00 160.00,442.50 161.88,442.50 161.88,443.12 163.75,443.12 163.75,443.75 165.83,443.75 165.83,444.17 167.92,444.17 167.92,444.58 170.00,444.58 170.00,445.00 171.88,445.00 171.88,446.25 173.75,446.25 173.75,447.50 175.62,447.50 175.62,448.75 177.50,448.75 177.50,450.00 179.38,450.00 179.38,451.88 181.25,451.88 181.25,453.75 183.12,453.75 183.12,454.38 185.00,454.38 185.00,455.00 195.00,455.00 195.00,458.75 205.00,458.75 205.00,470.00 218.75,470.00" fill="none" stroke="#46518a" stroke-width="1.1" stroke-linejoin="round" />
<polyline points="152.50,434.50 153.75,434.50 153.75,437.25 155.00,437.25 155.00,440.00 156.25,440.00 156.25,441.88 157.50,441.88 157.50,443.75 160.00,443.75 160.00,445.62 162.50,445.62 162.50,447.50 165.00,447.50 165.00,449.38 167.50,449.38 167.50,451.25 170.00,451.25 170.00,452.50 172.50,452.50 172.50,453.75 174.58,453.75 174.58,454.58 176.67,454.58 176.67,455.42 178.75,455.42 178.75,456.25 181.25,456.25 181.25,457.88 183.75,457.88 183.75,459.50 186.25,459.50 186.25,461.62 188.75,461.62 188.75,463.75 191.25,463.75 191.25,465.00 193.75,465.00 193.75,466.25 195.62,466.25 195.62,466.88 197.50,466.88 197.50,467.50 201.25,467.50 201.25,475.00 203.75,475.00 203.75,486.25" fill="none" stroke="#94b888" stroke-width="1.1" stroke-linejoin="round" />
<polyline points="152.50,434.50 153.75,441.25 156.25,447.50 160.00,453.75 165.00,458.75 170.00,462.50 176.25,465.00 181.25,468.75 187.50,471.25 193.75,475.00 197.50,477.50 202.50,480.00" fill="none" stroke="#d6bf72" stroke-width="1.15" stroke-dasharray="1.5 1.1" stroke-linejoin="round" />
<polyline points="152.50,434.50 153.50,442.00 155.00,450.00 157.00,458.00 159.00,465.00 161.00,470.00 163.00,473.00 165.00,474.50 175.00,474.50 176.00,478.50 181.50,478.50" fill="none" stroke="#98384c" stroke-width="1.15" stroke-dasharray="1.5 1.1" stroke-linejoin="round" />
<text x="195.30" y="436.30" font-size="4.4" font-weight="bold" fill="#46518a" >1.</text>
<line x1="200.10" y1="434.80" x2="205.90" y2="434.80" stroke="#46518a" stroke-width="0.9" />
<circle cx="203.00" cy="434.80" r="0.8" fill="#46518a"/>
<text class="k" x="207.70" y="436.40" font-size="4.6" fill="#1a1a1a">CD37<tspan font-size="3.6" dy="-1.9">+</tspan><tspan dy="1.9"> </tspan>CXCR4<tspan font-size="3.6" dy="-1.9">−</tspan><tspan dy="1.9"> </tspan>(n=53)</text>
<text x="195.30" y="441.70" font-size="4.4" font-weight="bold" fill="#94b888" >2.</text>
<line x1="200.10" y1="440.20" x2="205.90" y2="440.20" stroke="#94b888" stroke-width="0.9" />
<circle cx="203.00" cy="440.20" r="0.8" fill="#94b888"/>
<text class="k" x="207.70" y="441.80" font-size="4.6" fill="#1a1a1a">CD37<tspan font-size="3.6" dy="-1.9">+</tspan><tspan dy="1.9"> </tspan>CXCR4<tspan font-size="3.6" dy="-1.9">+</tspan><tspan dy="1.9"> </tspan>(n=54)</text>
<text x="195.30" y="446.90" font-size="4.4" font-weight="bold" fill="#d6bf72" >3.</text>
<line x1="200.10" y1="445.40" x2="205.90" y2="445.40" stroke="#d6bf72" stroke-width="0.9" stroke-dasharray="1.4 0.8"/>
<circle cx="203.00" cy="445.40" r="0.8" fill="#d6bf72"/>
<text class="k" x="207.70" y="447.00" font-size="4.6" fill="#1a1a1a">CD37<tspan font-size="3.6" dy="-1.9">−</tspan><tspan dy="1.9"> </tspan>CXCR4<tspan font-size="3.6" dy="-1.9">−</tspan><tspan dy="1.9"> </tspan>(n=61)</text>
<text x="195.30" y="452.60" font-size="4.4" font-weight="bold" fill="#98384c" >4.</text>
<line x1="200.10" y1="451.10" x2="205.90" y2="451.10" stroke="#98384c" stroke-width="0.9" stroke-dasharray="1.4 0.8"/>
<circle cx="203.00" cy="451.10" r="0.8" fill="#98384c"/>
<text class="k" x="207.70" y="452.70" font-size="4.6" fill="#1a1a1a">CD37<tspan font-size="3.6" dy="-1.9">−</tspan><tspan dy="1.9"> </tspan>CXCR4<tspan font-size="3.6" dy="-1.9">+</tspan><tspan dy="1.9"> </tspan>(n=26)</text>
<text x="156.30" y="491.10" font-size="4.3" font-weight="bold" fill="#1a1a1a" textLength="68.00" lengthAdjust="spacingAndGlyphs" class="k3">1 vs. 2: <tspan font-style="italic">P</tspan>= .003; 3 vs. 4: <tspan font-style="italic">P</tspan>= .0024;</text>
<text x="156.30" y="497.00" font-size="4.3" fill="#1a1a1a" textLength="60.00" lengthAdjust="spacingAndGlyphs" class="k">1 vs. 3: <tspan font-style="italic">P</tspan>= .06; 2 vs. 4: <tspan font-style="italic">P</tspan>= .0026</text>
<text x="178.00" y="449.00" font-size="4.2" font-weight="bold" fill="#46518a" >1.</text>
<text x="178.00" y="459.00" font-size="4.2" font-weight="bold" fill="#94b888" >2.</text>
<text x="178.00" y="467.00" font-size="4.2" font-weight="bold" fill="#d6bf72" >3.</text>
<text x="177.00" y="484.00" font-size="4.2" font-weight="bold" fill="#98384c" >4.</text>
<text x="330.50" y="429.80" font-size="6.5" font-weight="bold" text-anchor="middle" fill="#111" textLength="38.20" lengthAdjust="spacingAndGlyphs" class="t">ABC-DLBCL</text>
<text x="263.70" y="467.00" font-size="6.1" text-anchor="middle" textLength="74.50" lengthAdjust="spacingAndGlyphs" transform="rotate(-90 263.70 467.00)" class="k3">Progression-free survival (%)</text>
<line x1="278.00" y1="432.75" x2="278.00" y2="501.35" stroke="#1a1a1a" stroke-width="1.3" />
<line x1="277.40" y1="500.75" x2="383.00" y2="500.75" stroke="#1a1a1a" stroke-width="1.3" />
<line x1="276.30" y1="494.30" x2="278.00" y2="494.30" stroke="#1a1a1a" stroke-width="0.95" />
<line x1="276.30" y1="481.40" x2="278.00" y2="481.40" stroke="#1a1a1a" stroke-width="0.95" />
<line x1="276.30" y1="468.50" x2="278.00" y2="468.50" stroke="#1a1a1a" stroke-width="0.95" />
<line x1="276.30" y1="455.60" x2="278.00" y2="455.60" stroke="#1a1a1a" stroke-width="0.95" />
<line x1="276.30" y1="442.70" x2="278.00" y2="442.70" stroke="#1a1a1a" stroke-width="0.95" />
<line x1="275.00" y1="500.75" x2="278.00" y2="500.75" stroke="#1a1a1a" stroke-width="1.15" />
<text x="273.40" y="502.20" font-size="4.1" text-anchor="end" class="k2">0</text>
<line x1="275.00" y1="487.85" x2="278.00" y2="487.85" stroke="#1a1a1a" stroke-width="1.15" />
<text x="273.40" y="489.30" font-size="4.1" text-anchor="end" class="k2">20</text>
<line x1="275.00" y1="474.95" x2="278.00" y2="474.95" stroke="#1a1a1a" stroke-width="1.15" />
<text x="273.40" y="476.40" font-size="4.1" text-anchor="end" class="k2">40</text>
<line x1="275.00" y1="462.05" x2="278.00" y2="462.05" stroke="#1a1a1a" stroke-width="1.15" />
<text x="273.40" y="463.50" font-size="4.1" text-anchor="end" class="k2">60</text>
<line x1="275.00" y1="449.15" x2="278.00" y2="449.15" stroke="#1a1a1a" stroke-width="1.15" />
<text x="273.40" y="450.60" font-size="4.1" text-anchor="end" class="k2">80</text>
<line x1="275.00" y1="436.25" x2="278.00" y2="436.25" stroke="#1a1a1a" stroke-width="1.15" />
<text x="273.40" y="437.70" font-size="4.1" text-anchor="end" class="k2">100</text>
<line x1="278.00" y1="500.75" x2="278.00" y2="503.15" stroke="#1a1a1a" stroke-width="1.1" />
<text x="278.00" y="508.05" font-size="4.1" text-anchor="middle" class="k2">0</text>
<line x1="288.20" y1="500.75" x2="288.20" y2="503.15" stroke="#1a1a1a" stroke-width="1.1" />
<text x="288.20" y="508.05" font-size="4.1" text-anchor="middle" class="k2">20</text>
<line x1="298.40" y1="500.75" x2="298.40" y2="503.15" stroke="#1a1a1a" stroke-width="1.1" />
<text x="298.40" y="508.05" font-size="4.1" text-anchor="middle" class="k2">40</text>
<line x1="308.60" y1="500.75" x2="308.60" y2="503.15" stroke="#1a1a1a" stroke-width="1.1" />
<text x="308.60" y="508.05" font-size="4.1" text-anchor="middle" class="k2">60</text>
<line x1="318.80" y1="500.75" x2="318.80" y2="503.15" stroke="#1a1a1a" stroke-width="1.1" />
<text x="318.80" y="508.05" font-size="4.1" text-anchor="middle" class="k2">80</text>
<line x1="329.00" y1="500.75" x2="329.00" y2="503.15" stroke="#1a1a1a" stroke-width="1.1" />
<text x="329.00" y="508.05" font-size="4.1" text-anchor="middle" class="k2">100</text>
<line x1="339.20" y1="500.75" x2="339.20" y2="503.15" stroke="#1a1a1a" stroke-width="1.1" />
<text x="339.20" y="508.05" font-size="4.1" text-anchor="middle" class="k2">120</text>
<line x1="349.40" y1="500.75" x2="349.40" y2="503.15" stroke="#1a1a1a" stroke-width="1.1" />
<text x="349.40" y="508.05" font-size="4.1" text-anchor="middle" class="k2">140</text>
<line x1="359.60" y1="500.75" x2="359.60" y2="503.15" stroke="#1a1a1a" stroke-width="1.1" />
<text x="359.60" y="508.05" font-size="4.1" text-anchor="middle" class="k2">160</text>
<line x1="369.80" y1="500.75" x2="369.80" y2="503.15" stroke="#1a1a1a" stroke-width="1.1" />
<text x="369.80" y="508.05" font-size="4.1" text-anchor="middle" class="k2">180</text>
<line x1="380.00" y1="500.75" x2="380.00" y2="503.15" stroke="#1a1a1a" stroke-width="1.1" />
<text x="380.00" y="508.05" font-size="4.1" text-anchor="middle" class="k2">200</text>
<text x="330.60" y="516.80" font-size="7.0" text-anchor="middle" textLength="19.20" lengthAdjust="spacingAndGlyphs" class="k3">Months</text>
<polyline points="278.00,436.25 280.00,436.25 280.00,437.50 281.25,437.50 281.25,439.38 282.50,439.38 282.50,441.25 285.00,441.25 285.00,443.75 287.50,443.75 287.50,445.62 290.00,445.62 290.00,447.50 292.50,447.50 292.50,448.75 295.00,448.75 295.00,450.00 297.50,450.00 297.50,451.50 300.00,451.50 300.00,453.00 302.50,453.00 302.50,455.25 305.00,455.25 305.00,457.50 307.50,457.50 307.50,458.50 310.00,458.50 310.00,459.50 318.75,459.50 321.25,459.50 321.25,462.50 322.50,462.50 322.50,464.38 323.75,464.38 323.75,466.25 325.00,466.25 325.00,468.12 326.25,468.12 326.25,470.00 326.88,470.00 326.88,472.50 327.50,472.50 327.50,475.00 345.00,475.00 345.00,500.00" fill="none" stroke="#46518a" stroke-width="1.1" stroke-linejoin="round" />
<polyline points="278.00,436.25 279.50,440.00 281.50,446.50 282.50,452.00 283.00,458.00 287.00,463.00 290.00,466.50 293.00,470.00 296.00,475.00 304.00,475.00 305.00,480.00 327.00,480.00 327.00,500.00" fill="none" stroke="#d6bf72" stroke-width="1.15" stroke-dasharray="1.5 1.1" stroke-linejoin="round" />
<line x1="305.00" y1="444.25" x2="310.80" y2="444.25" stroke="#46518a" stroke-width="0.9" />
<circle cx="307.90" cy="444.25" r="0.8" fill="#46518a"/>
<text class="k" x="312.60" y="445.85" font-size="4.6" fill="#1a1a1a">CD37<tspan font-size="3.6" dy="-1.9">+</tspan><tspan dy="1.9"> </tspan>(n=119)</text>
<line x1="305.00" y1="450.50" x2="310.80" y2="450.50" stroke="#d6bf72" stroke-width="0.9" stroke-dasharray="1.4 0.8"/>
<circle cx="307.90" cy="450.50" r="0.8" fill="#d6bf72"/>
<text class="k" x="312.60" y="452.10" font-size="4.6" fill="#1a1a1a">p50<tspan font-size="3.6" dy="-1.9">−</tspan><tspan dy="1.9"> </tspan>survivin<tspan font-size="3.6" dy="-1.9">−</tspan><tspan dy="1.9"> </tspan>CD37<tspan font-size="3.6" dy="-1.9">−</tspan><tspan dy="1.9"> </tspan>(n=19)</text>
<text x="281.50" y="496.60" font-size="4.3" fill="#1a1a1a" textLength="79.50" lengthAdjust="spacingAndGlyphs" class="k">HR (95% CI): 2.71 (1.80-10.65), <tspan font-style="italic">P</tspan>= .0009</text>
<text x="456.50" y="429.80" font-size="6.5" font-weight="bold" text-anchor="middle" fill="#111" textLength="38.20" lengthAdjust="spacingAndGlyphs" class="t">ABC-DLBCL</text>
<text x="390.70" y="467.88" font-size="6.1" text-anchor="middle" textLength="74.50" lengthAdjust="spacingAndGlyphs" transform="rotate(-90 390.70 467.88)" class="k3">Progression-free survival (%)</text>
<line x1="405.00" y1="434.50" x2="405.00" y2="501.35" stroke="#1a1a1a" stroke-width="1.3" />
<line x1="404.40" y1="500.75" x2="508.00" y2="500.75" stroke="#1a1a1a" stroke-width="1.3" />
<line x1="403.30" y1="494.48" x2="405.00" y2="494.48" stroke="#1a1a1a" stroke-width="0.95" />
<line x1="403.30" y1="481.93" x2="405.00" y2="481.93" stroke="#1a1a1a" stroke-width="0.95" />
<line x1="403.30" y1="469.38" x2="405.00" y2="469.38" stroke="#1a1a1a" stroke-width="0.95" />
<line x1="403.30" y1="456.82" x2="405.00" y2="456.82" stroke="#1a1a1a" stroke-width="0.95" />
<line x1="403.30" y1="444.27" x2="405.00" y2="444.27" stroke="#1a1a1a" stroke-width="0.95" />
<line x1="402.00" y1="500.75" x2="405.00" y2="500.75" stroke="#1a1a1a" stroke-width="1.15" />
<text x="400.40" y="502.20" font-size="4.1" text-anchor="end" class="k2">0</text>
<line x1="402.00" y1="488.20" x2="405.00" y2="488.20" stroke="#1a1a1a" stroke-width="1.15" />
<text x="400.40" y="489.65" font-size="4.1" text-anchor="end" class="k2">20</text>
<line x1="402.00" y1="475.65" x2="405.00" y2="475.65" stroke="#1a1a1a" stroke-width="1.15" />
<text x="400.40" y="477.10" font-size="4.1" text-anchor="end" class="k2">40</text>
<line x1="402.00" y1="463.10" x2="405.00" y2="463.10" stroke="#1a1a1a" stroke-width="1.15" />
<text x="400.40" y="464.55" font-size="4.1" text-anchor="end" class="k2">60</text>
<line x1="402.00" y1="450.55" x2="405.00" y2="450.55" stroke="#1a1a1a" stroke-width="1.15" />
<text x="400.40" y="452.00" font-size="4.1" text-anchor="end" class="k2">80</text>
<line x1="402.00" y1="438.00" x2="405.00" y2="438.00" stroke="#1a1a1a" stroke-width="1.15" />
<text x="400.40" y="439.45" font-size="4.1" text-anchor="end" class="k2">100</text>
<line x1="405.00" y1="500.75" x2="405.00" y2="503.15" stroke="#1a1a1a" stroke-width="1.1" />
<text x="405.00" y="508.05" font-size="4.1" text-anchor="middle" class="k2">0</text>
<line x1="415.00" y1="500.75" x2="415.00" y2="503.15" stroke="#1a1a1a" stroke-width="1.1" />
<text x="415.00" y="508.05" font-size="4.1" text-anchor="middle" class="k2">20</text>
<line x1="425.00" y1="500.75" x2="425.00" y2="503.15" stroke="#1a1a1a" stroke-width="1.1" />
<text x="425.00" y="508.05" font-size="4.1" text-anchor="middle" class="k2">40</text>
<line x1="435.00" y1="500.75" x2="435.00" y2="503.15" stroke="#1a1a1a" stroke-width="1.1" />
<text x="435.00" y="508.05" font-size="4.1" text-anchor="middle" class="k2">60</text>
<line x1="445.00" y1="500.75" x2="445.00" y2="503.15" stroke="#1a1a1a" stroke-width="1.1" />
<text x="445.00" y="508.05" font-size="4.1" text-anchor="middle" class="k2">80</text>
<line x1="455.00" y1="500.75" x2="455.00" y2="503.15" stroke="#1a1a1a" stroke-width="1.1" />
<text x="455.00" y="508.05" font-size="4.1" text-anchor="middle" class="k2">100</text>
<line x1="465.00" y1="500.75" x2="465.00" y2="503.15" stroke="#1a1a1a" stroke-width="1.1" />
<text x="465.00" y="508.05" font-size="4.1" text-anchor="middle" class="k2">120</text>
<line x1="475.00" y1="500.75" x2="475.00" y2="503.15" stroke="#1a1a1a" stroke-width="1.1" />
<text x="475.00" y="508.05" font-size="4.1" text-anchor="middle" class="k2">140</text>
<line x1="485.00" y1="500.75" x2="485.00" y2="503.15" stroke="#1a1a1a" stroke-width="1.1" />
<text x="485.00" y="508.05" font-size="4.1" text-anchor="middle" class="k2">160</text>
<line x1="495.00" y1="500.75" x2="495.00" y2="503.15" stroke="#1a1a1a" stroke-width="1.1" />
<text x="495.00" y="508.05" font-size="4.1" text-anchor="middle" class="k2">180</text>
<line x1="505.00" y1="500.75" x2="505.00" y2="503.15" stroke="#1a1a1a" stroke-width="1.1" />
<text x="505.00" y="508.05" font-size="4.1" text-anchor="middle" class="k2">200</text>
<text x="456.90" y="516.80" font-size="7.0" text-anchor="middle" textLength="19.20" lengthAdjust="spacingAndGlyphs" class="k3">Months</text>
<polyline points="405.00,438.00 406.88,438.00 406.88,438.38 408.75,438.38 408.75,438.75 411.25,438.75 411.25,440.00 413.75,440.00 413.75,441.25 416.25,441.25 416.25,441.88 418.75,441.88 418.75,442.50 420.62,442.50 420.62,443.12 422.50,443.12 422.50,443.75 424.38,443.75 424.38,445.62 426.25,445.62 426.25,447.50 438.75,447.50 440.62,447.50 440.62,448.75 442.50,448.75 442.50,450.00 444.38,450.00 444.38,451.88 446.25,451.88 446.25,453.75 447.50,453.75 447.50,456.25 448.75,456.25 448.75,458.75 450.62,458.75 450.62,460.00 452.50,460.00 452.50,461.25 453.75,461.25 453.75,463.75 455.00,463.75 455.00,466.25 455.31,466.25 455.31,468.31 455.62,468.31 455.62,470.38 455.94,470.38 455.94,472.44 456.25,472.44 456.25,474.50 471.25,474.50 471.25,500.00" fill="none" stroke="#46518a" stroke-width="1.1" stroke-linejoin="round" />
<polyline points="405.00,438.00 405.94,438.00 405.94,440.06 406.88,440.06 406.88,442.12 407.81,442.12 407.81,444.19 408.75,444.19 408.75,446.25 410.00,446.25 410.00,448.75 411.25,448.75 411.25,451.25 412.50,451.25 412.50,453.12 413.75,453.12 413.75,455.00 415.62,455.00 415.62,457.50 417.50,457.50 417.50,460.00 420.00,460.00 420.00,461.88 422.50,461.88 422.50,463.75 425.00,463.75 425.00,465.00 427.50,465.00 427.50,466.25 429.38,466.25 429.38,468.12 431.25,468.12 431.25,470.00 433.12,470.00 433.12,472.25 435.00,472.25 435.00,474.50 471.25,474.50" fill="none" stroke="#94b888" stroke-width="1.1" stroke-linejoin="round" />
<polyline points="405.00,438.00 408.75,448.75 411.25,453.75 415.00,457.50 420.00,460.00 425.00,465.00 430.00,468.75 435.00,472.50 441.25,475.00 445.00,477.50 448.75,480.00" fill="none" stroke="#d6bf72" stroke-width="1.15" stroke-dasharray="1.5 1.1" stroke-linejoin="round" />
<polyline points="405.00,438.00 407.50,450.00 410.00,461.25 412.50,470.00 415.00,476.25 417.50,480.00 422.50,482.50 430.00,483.75 435.00,485.00 442.50,487.50 446.25,488.75" fill="none" stroke="#98384c" stroke-width="1.15" stroke-dasharray="1.5 1.1" stroke-linejoin="round" />
<text x="455.30" y="441.50" font-size="4.4" font-weight="bold" fill="#46518a" >1.</text>
<line x1="460.10" y1="440.00" x2="465.90" y2="440.00" stroke="#46518a" stroke-width="0.9" />
<circle cx="463.00" cy="440.00" r="0.8" fill="#46518a"/>
<text class="k" x="467.70" y="441.60" font-size="4.6" fill="#1a1a1a">CD37<tspan font-size="3.6" dy="-1.9">+</tspan><tspan dy="1.9"> </tspan>IPI ≤ 2 (n=64)</text>
<text x="455.30" y="446.50" font-size="4.4" font-weight="bold" fill="#d6bf72" >2.</text>
<line x1="460.10" y1="445.00" x2="465.90" y2="445.00" stroke="#d6bf72" stroke-width="0.9" stroke-dasharray="1.4 0.8"/>
<circle cx="463.00" cy="445.00" r="0.8" fill="#d6bf72"/>
<text class="k" x="467.70" y="446.60" font-size="4.6" fill="#1a1a1a">CD37<tspan font-size="3.6" dy="-1.9">−</tspan><tspan dy="1.9"> </tspan>IPI ≤ 2 (n=64)</text>
<text x="455.30" y="451.50" font-size="4.4" font-weight="bold" fill="#94b888" >3.</text>
<line x1="460.10" y1="450.00" x2="465.90" y2="450.00" stroke="#94b888" stroke-width="0.9" />
<circle cx="463.00" cy="450.00" r="0.8" fill="#94b888"/>
<text class="k" x="467.70" y="451.60" font-size="4.6" fill="#1a1a1a">CD37<tspan font-size="3.6" dy="-1.9">+</tspan><tspan dy="1.9"> </tspan>IPI &gt; 2 (n=46)</text>
<text x="455.30" y="456.80" font-size="4.4" font-weight="bold" fill="#98384c" >4.</text>
<line x1="460.10" y1="455.30" x2="465.90" y2="455.30" stroke="#98384c" stroke-width="0.9" stroke-dasharray="1.4 0.8"/>
<circle cx="463.00" cy="455.30" r="0.8" fill="#98384c"/>
<text class="k" x="467.70" y="456.90" font-size="4.6" fill="#1a1a1a">CD37<tspan font-size="3.6" dy="-1.9">−</tspan><tspan dy="1.9"> </tspan>IPI &gt; 2 (n=56)</text>
<text x="407.50" y="491.10" font-size="4.3" font-weight="bold" fill="#1a1a1a" textLength="68.00" lengthAdjust="spacingAndGlyphs" class="k3">1 vs. 2: <tspan font-style="italic">P</tspan>= .0001; 3 vs. 4: <tspan font-style="italic">P</tspan>= .0016</text>
<text x="407.50" y="497.00" font-size="4.3" fill="#1a1a1a" textLength="62.00" lengthAdjust="spacingAndGlyphs" class="k">1 vs. 3: <tspan font-style="italic">P</tspan>= .0001; 2 vs. 4: <tspan font-style="italic">P</tspan>= .002</text>
<text x="445.00" y="449.00" font-size="4.2" font-weight="bold" fill="#46518a" >1.</text>
<text x="444.00" y="474.00" font-size="4.2" font-weight="bold" fill="#94b888" >3.</text>
<text x="443.00" y="481.00" font-size="4.2" font-weight="bold" fill="#d6bf72" >2.</text>
<text x="443.00" y="486.00" font-size="4.2" font-weight="bold" fill="#98384c" >4.</text>
</svg>
<div class="frame"></div>
</body></html>
